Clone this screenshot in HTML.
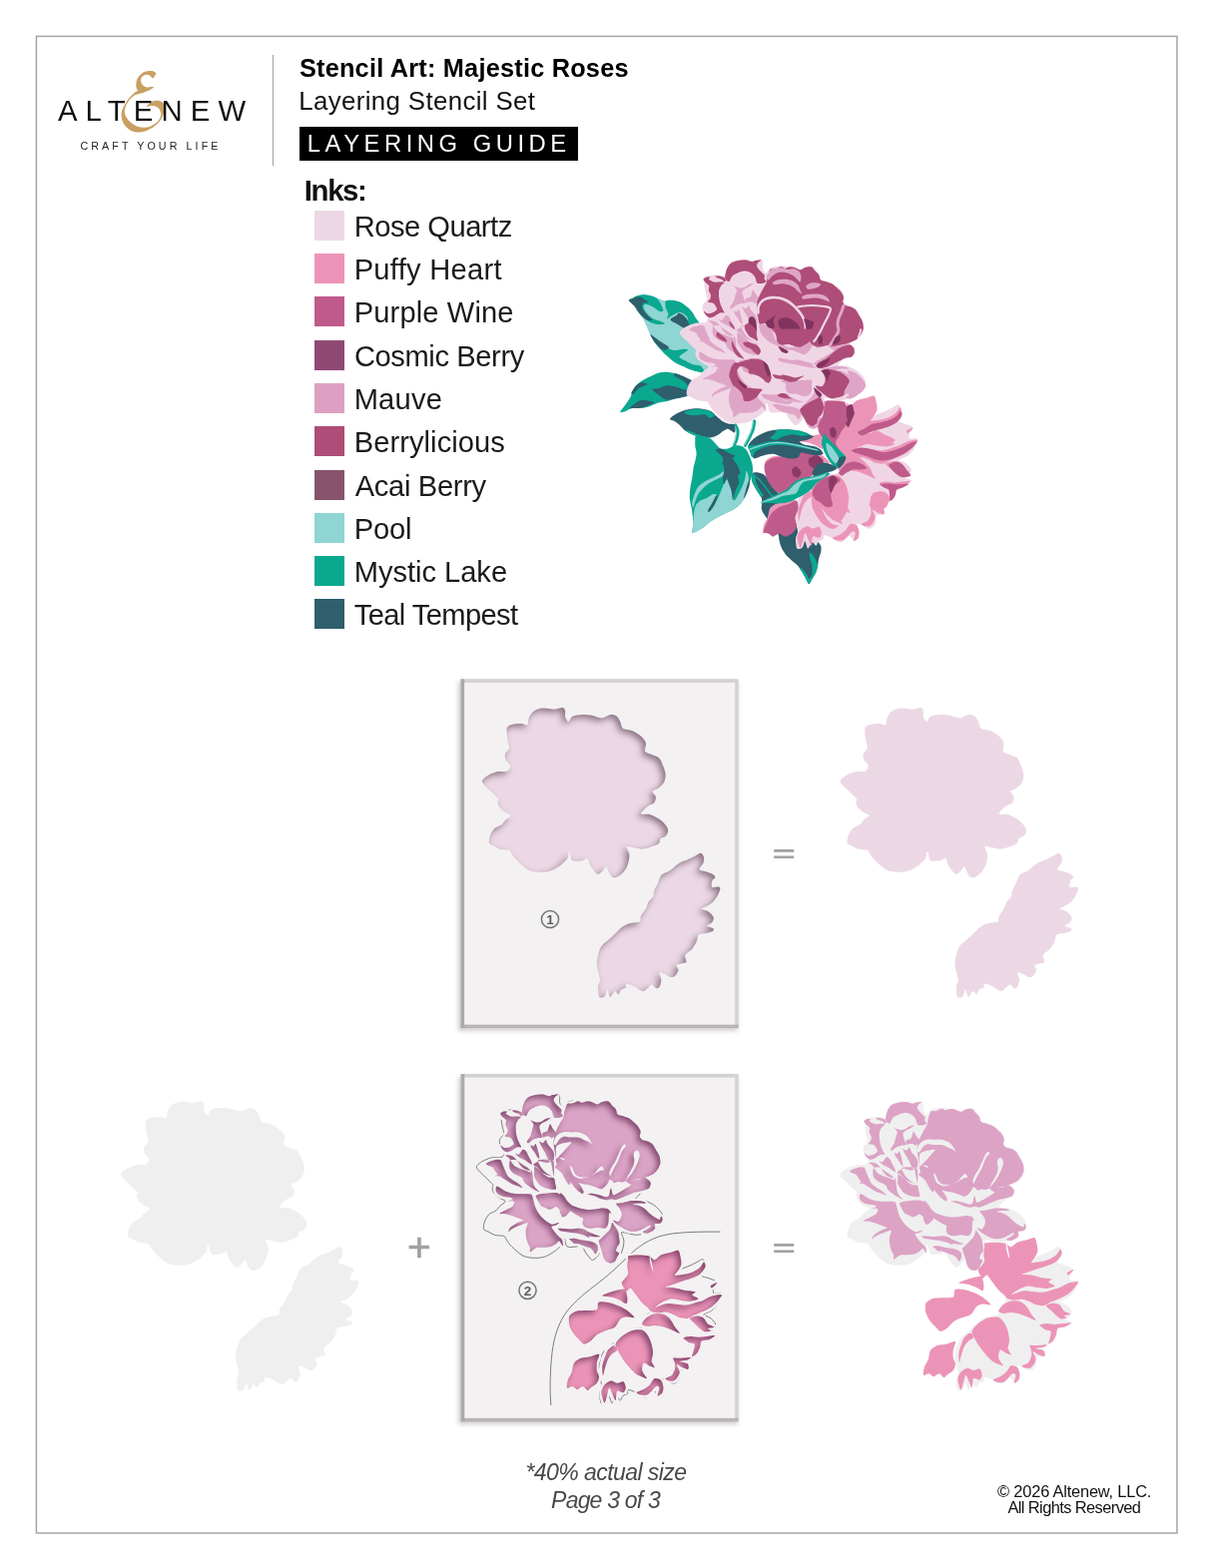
<!DOCTYPE html>
<html lang="en">
<head>
<meta charset="utf-8">
<title>Stencil Art: Majestic Roses - Layering Guide</title>
<style>
html,body{margin:0;padding:0;background:#fff;}
body{width:1214px;height:1571px;position:relative;overflow:hidden;font-family:"Liberation Sans",sans-serif;color:#111;}
.t{position:absolute;white-space:nowrap;line-height:1;z-index:2;}
#divider{position:absolute;left:273px;top:55px;width:1px;height:111px;background:#a0a0a0;}
#bar{z-index:1;position:absolute;left:300px;top:127px;width:279px;height:34px;background:#000;}
.sw{position:absolute;left:314.5px;width:30px;height:30px;}
#art{position:absolute;left:0;top:0;width:1214px;height:1571px;z-index:0;}
</style>
</head>
<body>
<div id="divider"></div>
<div id="bar"></div>
<div id="logo" class="t" style="left:57.9px;top:95.7px;font-size:29.3px;letter-spacing:8.133px;color:#111;">ALTENEW</div>
<div id="tag" class="t" style="left:80.4px;top:140.8px;font-size:10.7px;letter-spacing:3.1px;color:#222;">CRAFT YOUR LIFE</div>
<div id="title" class="t" style="left:299.9px;top:55.6px;font-size:25.3px;letter-spacing:0.223px;font-weight:bold;color:#000;">Stencil Art: Majestic Roses</div>
<div id="sub" class="t" style="left:299.2px;top:88.9px;font-size:25.8px;letter-spacing:0.389px;color:#111;">Layering Stencil Set</div>
<div id="bartxt" class="t" style="left:307.8px;top:132.0px;font-size:23.8px;letter-spacing:4.523px;color:#fff;">LAYERING GUIDE</div>
<div id="inks" class="t" style="left:304.8px;top:176.4px;font-size:29.3px;letter-spacing:-1.35px;font-weight:bold;color:#111;">Inks:</div>
<div class="sw" style="top:210.8px;background:#ecd8e5"></div>
<div id="ink0" class="t" style="left:354.7px;top:212.7px;font-size:29.1px;letter-spacing:-0.48px;color:#1a1a1a;">Rose Quartz</div>
<div class="sw" style="top:254.1px;background:#ec94b8"></div>
<div id="ink1" class="t" style="left:354.7px;top:256.0px;font-size:29.1px;letter-spacing:0.28px;color:#1a1a1a;">Puffy Heart</div>
<div class="sw" style="top:297.4px;background:#bf5b8b"></div>
<div id="ink2" class="t" style="left:354.7px;top:299.3px;font-size:29.1px;letter-spacing:0.14px;color:#1a1a1a;">Purple Wine</div>
<div class="sw" style="top:340.6px;background:#8f4a74"></div>
<div id="ink3" class="t" style="left:354.9px;top:342.6px;font-size:29.1px;letter-spacing:-0.382px;color:#1a1a1a;">Cosmic Berry</div>
<div class="sw" style="top:383.9px;background:#dda0c2"></div>
<div id="ink4" class="t" style="left:354.7px;top:385.9px;font-size:29.1px;letter-spacing:0.2px;color:#1a1a1a;">Mauve</div>
<div class="sw" style="top:427.2px;background:#ae4d77"></div>
<div id="ink5" class="t" style="left:354.7px;top:429.2px;font-size:29.1px;letter-spacing:0.073px;color:#1a1a1a;">Berrylicious</div>
<div class="sw" style="top:470.5px;background:#87536d"></div>
<div id="ink6" class="t" style="left:355.7px;top:472.5px;font-size:29.1px;letter-spacing:-0.311px;color:#1a1a1a;">Acai Berry</div>
<div class="sw" style="top:513.8px;background:#8fd5d3"></div>
<div id="ink7" class="t" style="left:354.7px;top:515.8px;font-size:29.1px;letter-spacing:-0.133px;color:#1a1a1a;">Pool</div>
<div class="sw" style="top:557.0px;background:#0ba890"></div>
<div id="ink8" class="t" style="left:354.7px;top:559.1px;font-size:29.1px;letter-spacing:-0.02px;color:#1a1a1a;">Mystic Lake</div>
<div class="sw" style="top:600.3px;background:#2f5e6d"></div>
<div id="ink9" class="t" style="left:354.7px;top:602.4px;font-size:29.1px;letter-spacing:-0.582px;color:#1a1a1a;">Teal Tempest</div>
<svg id="art" viewBox="0 0 1214 1571" width="1214" height="1571">
<rect x="36.4" y="36.4" width="1142.6" height="1499.6" fill="none" stroke="#a4a4a4" stroke-width="1.5"/>
<defs>
<filter id="blur2" x="-20%" y="-20%" width="140%" height="140%"><feGaussianBlur stdDeviation="2"/></filter>
<filter id="inner1" filterUnits="userSpaceOnUse" x="380" y="600" width="800" height="900" color-interpolation-filters="sRGB">
<feComponentTransfer in="SourceAlpha" result="inv"><feFuncA type="table" tableValues="1 0"/></feComponentTransfer>
<feGaussianBlur in="inv" stdDeviation="3.6" result="b"/>
<feOffset in="b" dx="-3.0" dy="3.0" result="o"/>
<feFlood flood-color="#5e4458" flood-opacity="0.7"/>
<feComposite in2="o" operator="in" result="s"/>
<feComposite in="s" in2="SourceAlpha" operator="in" result="i"/>
<feMerge><feMergeNode in="SourceGraphic"/><feMergeNode in="i"/></feMerge>
</filter>
<filter id="inner2" filterUnits="userSpaceOnUse" x="380" y="600" width="800" height="900" color-interpolation-filters="sRGB">
<feComponentTransfer in="SourceAlpha" result="inv"><feFuncA type="table" tableValues="1 0"/></feComponentTransfer>
<feGaussianBlur in="inv" stdDeviation="3.4" result="b"/>
<feOffset in="b" dx="-2.6" dy="2.6" result="o"/>
<feFlood flood-color="#6a3058" flood-opacity="0.8"/>
<feComposite in2="o" operator="in" result="s"/>
<feComposite in="s" in2="SourceAlpha" operator="in" result="i"/>
<feMerge><feMergeNode in="SourceGraphic"/><feMergeNode in="i"/></feMerge>
</filter>
<filter id="halo" filterUnits="userSpaceOnUse" x="380" y="600" width="800" height="900" color-interpolation-filters="sRGB">
<feMorphology in="SourceAlpha" operator="dilate" radius="2.2" result="d"/>
<feFlood flood-color="#f3f1f2"/><feComposite in2="d" operator="in"/></filter>
<mask id="mrose" maskUnits="userSpaceOnUse" x="820" y="1070" width="300" height="380"><path d="M887.1,1120.6C887.2,1119.7 887.5,1117.1 887.9,1115.7C888.4,1114.2 889.5,1111.2 890.4,1109.9C891.3,1108.6 893.0,1106.9 894.5,1106.2C896.0,1105.4 899.3,1104.8 901.1,1104.5C903.0,1104.2 905.9,1103.9 907.7,1104.1C909.6,1104.3 912.9,1105.7 914.3,1105.8C915.7,1105.8 916.3,1104.8 917.6,1104.5C918.9,1104.3 923.0,1103.7 923.4,1104.0C923.7,1104.2 920.7,1105.8 920.1,1106.6C919.4,1107.4 918.7,1108.9 918.8,1109.9C919.0,1110.9 920.1,1112.6 920.9,1113.6C921.6,1114.6 923.4,1116.1 924.2,1116.9C925.0,1117.7 926.4,1118.5 926.7,1119.4C927.0,1120.2 926.0,1122.2 926.3,1123.1C926.5,1123.9 928.5,1125.0 928.3,1125.5C928.1,1126.1 925.9,1126.9 925.0,1127.2C924.1,1127.5 922.5,1127.6 921.7,1127.6C920.9,1127.6 919.8,1127.7 919.3,1127.2C918.7,1126.7 918.4,1124.8 918.0,1123.9C917.7,1123.0 917.4,1121.6 916.8,1120.6C916.1,1119.6 914.5,1117.6 913.5,1116.9C912.4,1116.1 910.6,1115.5 909.4,1115.2C908.1,1115.0 905.8,1115.0 904.4,1115.2C903.0,1115.5 900.7,1116.4 899.5,1116.9C898.2,1117.4 896.3,1118.2 895.4,1118.9C894.4,1119.7 893.5,1121.3 892.9,1122.2C892.3,1123.2 891.8,1125.2 891.2,1125.5C890.7,1125.9 889.3,1125.2 888.8,1124.7C888.2,1124.3 887.4,1122.8 887.1,1122.2C886.9,1121.7 887.0,1121.5 887.1,1120.6Z M865.3,1123.5C865.4,1122.8 867.2,1121.6 868.2,1121.3C869.2,1120.9 872.0,1121.0 872.3,1121.3C872.6,1121.5 870.6,1122.6 870.7,1123.1C870.7,1123.5 871.9,1124.3 872.7,1124.7C873.5,1125.1 875.2,1126.0 876.4,1126.2C877.6,1126.4 880.0,1125.9 881.4,1125.9C882.7,1126.0 886.1,1125.8 886.3,1126.4C886.5,1126.9 883.8,1128.5 883.0,1129.7C882.3,1130.8 881.2,1133.0 880.9,1134.6C880.7,1136.2 880.8,1139.3 880.9,1141.2C881.1,1143.0 881.7,1146.0 882.2,1147.8C882.7,1149.5 884.1,1152.3 884.7,1153.5C885.2,1154.8 886.6,1156.4 886.3,1156.8C886.0,1157.3 883.3,1156.5 882.2,1156.8C881.0,1157.2 879.3,1158.6 878.1,1159.3C876.8,1160.0 874.3,1161.5 873.1,1161.8C872.0,1162.0 870.6,1161.4 869.8,1161.0C869.0,1160.5 867.9,1159.3 867.4,1158.5C866.8,1157.7 865.4,1155.3 865.7,1155.2C866.1,1155.1 868.6,1157.4 869.8,1157.7C871.1,1157.9 873.5,1157.4 874.8,1156.8C876.0,1156.3 878.5,1154.6 878.9,1153.5C879.2,1152.5 877.8,1150.3 877.2,1149.4C876.7,1148.5 875.8,1147.4 874.8,1147.0C873.7,1146.5 870.2,1146.7 869.8,1146.1C869.5,1145.6 871.9,1143.9 872.3,1142.8C872.7,1141.8 872.9,1139.9 872.7,1138.7C872.5,1137.6 870.9,1135.9 870.7,1134.6C870.4,1133.3 871.5,1130.8 871.1,1129.7C870.6,1128.5 868.2,1127.2 867.4,1126.4C866.5,1125.5 865.2,1124.2 865.3,1123.5Z M877.2,1120.2C877.6,1119.9 880.9,1120.0 882.2,1120.2C883.5,1120.4 885.5,1121.2 886.3,1121.8C887.1,1122.5 887.9,1124.2 887.9,1124.7C887.9,1125.2 886.9,1125.7 886.3,1125.5C885.7,1125.4 884.8,1124.0 883.8,1123.5C882.9,1123.0 880.6,1122.5 879.7,1122.1C878.8,1121.6 876.9,1120.4 877.2,1120.2Z M895.0,1129.2C895.2,1129.2 897.6,1130.9 898.7,1131.3C899.8,1131.7 901.6,1132.2 902.8,1132.1C903.9,1132.1 905.7,1131.4 906.9,1130.9C908.0,1130.4 909.7,1128.9 911.0,1128.4C912.3,1127.9 915.8,1126.9 916.0,1127.2C916.1,1127.5 913.1,1129.7 911.8,1130.5C910.6,1131.3 907.9,1132.1 906.9,1132.9C905.9,1133.8 904.5,1134.9 904.4,1136.2C904.3,1137.6 905.6,1141.3 906.1,1142.8C906.5,1144.3 908.2,1146.3 907.7,1147.0C907.3,1147.6 904.2,1147.4 902.8,1147.8C901.4,1148.1 899.1,1148.7 897.8,1149.4C896.6,1150.1 894.5,1152.5 893.7,1152.7C892.9,1152.9 891.8,1152.0 892.1,1151.1C892.3,1150.1 894.7,1147.6 895.4,1146.1C896.1,1144.6 896.5,1142.0 897.0,1140.4C897.5,1138.7 898.7,1135.9 898.7,1134.6C898.7,1133.3 897.5,1132.1 897.0,1131.3C896.5,1130.6 894.7,1129.2 895.0,1129.2Z M907.7,1142.8C908.3,1141.9 911.6,1141.6 912.7,1140.4C913.7,1139.1 914.4,1134.1 915.1,1133.8C915.8,1133.4 916.9,1136.9 917.6,1137.9C918.4,1138.9 919.8,1140.3 920.5,1141.2C921.2,1142.1 922.7,1143.8 922.5,1144.5C922.4,1145.2 920.1,1145.7 919.3,1146.1C918.4,1146.6 917.5,1147.8 916.8,1147.8C916.1,1147.8 915.1,1146.4 914.3,1146.1C913.5,1145.9 911.8,1146.0 911.0,1146.1C910.2,1146.2 909.0,1147.4 908.5,1147.0C908.1,1146.5 907.1,1143.8 907.7,1142.8Z M895.8,1154.8C896.0,1154.4 898.0,1156.2 898.7,1156.0C899.3,1155.8 900.2,1153.3 900.7,1153.5C901.2,1153.8 902.0,1156.4 902.4,1157.7C902.8,1158.9 903.3,1161.1 903.6,1162.6C903.9,1164.1 904.7,1167.9 904.4,1168.4C904.2,1168.8 902.6,1166.8 902.0,1165.9C901.3,1165.0 900.2,1162.8 899.5,1161.8C898.8,1160.7 897.5,1159.5 897.0,1158.5C896.5,1157.5 895.5,1155.1 895.8,1154.8Z M904.4,1151.1C904.8,1151.0 906.8,1152.9 907.7,1152.7C908.6,1152.5 910.3,1149.3 911.0,1149.4C911.7,1149.5 912.0,1152.4 912.7,1153.5C913.4,1154.7 915.1,1156.6 916.0,1157.7C916.8,1158.7 918.0,1159.8 918.4,1161.0C918.9,1162.1 919.3,1164.6 919.3,1165.9C919.3,1167.2 919.1,1169.3 918.4,1170.0C917.7,1170.7 915.2,1171.4 914.3,1170.8C913.4,1170.3 912.5,1167.3 911.8,1165.9C911.1,1164.5 910.1,1162.2 909.4,1161.0C908.7,1159.7 907.5,1157.9 906.9,1156.8C906.3,1155.8 905.6,1154.3 905.2,1153.5C904.9,1152.7 904.1,1151.2 904.4,1151.1Z M898.7,1174.1C898.8,1173.6 900.3,1172.9 901.1,1172.5C901.9,1172.0 903.4,1171.0 904.4,1170.8C905.5,1170.7 907.4,1171.4 908.5,1171.7C909.7,1171.9 911.3,1172.6 912.7,1172.5C914.0,1172.4 917.5,1170.0 918.4,1170.8C919.3,1171.6 919.3,1176.2 919.3,1178.3C919.3,1180.3 919.3,1184.7 918.4,1185.7C917.5,1186.6 914.2,1185.3 912.7,1184.8C911.2,1184.4 909.0,1183.2 907.7,1182.4C906.4,1181.6 904.6,1179.9 903.6,1179.1C902.6,1178.3 901.0,1177.3 900.3,1176.6C899.6,1175.9 898.5,1174.7 898.7,1174.1Z M880.5,1163.4C880.5,1163.1 882.8,1164.8 883.8,1164.3C884.9,1163.7 886.9,1159.8 887.9,1159.3C889.0,1158.8 890.4,1160.0 891.2,1161.0C892.1,1161.9 893.0,1164.5 893.7,1165.9C894.4,1167.3 895.7,1169.7 896.2,1170.8C896.6,1172.0 897.4,1173.9 897.0,1174.1C896.7,1174.4 894.6,1173.1 893.7,1172.5C892.8,1171.9 891.3,1170.6 890.4,1170.0C889.5,1169.4 888.0,1168.8 887.1,1168.4C886.2,1167.9 884.8,1167.4 883.8,1166.7C882.9,1166.0 880.5,1163.8 880.5,1163.4Z M870.7,1165.1C870.8,1164.7 873.6,1164.8 874.8,1165.1C875.9,1165.3 877.9,1166.0 878.9,1166.7C879.9,1167.4 881.1,1169.1 882.2,1170.0C883.2,1170.9 885.0,1172.4 886.3,1173.3C887.6,1174.2 890.1,1175.8 891.2,1176.6C892.4,1177.4 893.8,1178.3 894.5,1179.1C895.2,1179.9 896.8,1182.2 896.2,1182.4C895.6,1182.5 892.0,1180.9 890.4,1180.3C888.8,1179.7 886.2,1178.9 884.7,1178.3C883.2,1177.6 880.9,1176.7 879.7,1175.8C878.6,1174.9 877.2,1172.8 876.4,1171.7C875.6,1170.5 874.8,1168.5 873.9,1167.5C873.1,1166.6 870.5,1165.4 870.7,1165.1Z M921.7,1169.2C922.1,1168.6 924.0,1169.3 925.0,1170.0C926.1,1170.7 928.1,1172.9 929.1,1174.1C930.2,1175.4 931.5,1177.7 932.4,1179.1C933.4,1180.5 935.1,1182.8 935.7,1184.0C936.3,1185.3 936.8,1187.2 936.5,1188.1C936.3,1189.1 934.9,1190.7 934.1,1190.6C933.3,1190.5 931.7,1188.4 930.8,1187.3C929.9,1186.3 928.4,1184.3 927.5,1183.2C926.6,1182.0 924.9,1180.3 924.2,1179.1C923.4,1177.8 922.5,1175.5 922.1,1174.1C921.8,1172.8 921.3,1169.8 921.7,1169.2Z M851.1,1173.7C851.2,1173.1 854.0,1171.6 855.6,1171.0C857.1,1170.4 860.7,1169.3 862.2,1169.2C863.6,1169.0 865.1,1169.2 865.9,1170.0C866.7,1170.8 867.3,1173.4 867.9,1174.9C868.6,1176.4 869.7,1179.2 870.4,1180.7C871.1,1182.2 871.9,1184.4 872.9,1185.7C873.9,1186.9 876.2,1188.6 877.8,1189.8C879.4,1190.9 883.0,1192.8 884.4,1193.9C885.8,1195.0 887.9,1197.3 887.7,1197.6C887.5,1197.8 884.4,1196.3 882.8,1195.7C881.2,1195.1 878.0,1194.2 876.2,1193.2C874.3,1192.3 871.2,1190.1 869.6,1189.1C868.0,1188.1 866.0,1186.5 864.7,1186.1C863.3,1185.6 860.0,1186.0 859.7,1185.8C859.4,1185.6 862.5,1185.1 862.6,1184.4C862.7,1183.7 860.8,1181.7 860.1,1180.7C859.5,1179.7 858.9,1178.1 858.1,1177.4C857.3,1176.7 855.3,1176.1 854.4,1175.6C853.4,1175.1 850.9,1174.4 851.1,1173.7Z M875.4,1170.0C874.3,1170.7 874.4,1173.7 874.4,1174.9C874.3,1176.2 874.5,1178.0 875.0,1179.1C875.4,1180.1 876.7,1181.5 877.8,1182.4C878.9,1183.2 881.4,1184.5 882.8,1185.2C884.1,1186.0 886.4,1186.6 887.3,1187.5C888.2,1188.4 888.2,1190.5 889.0,1191.6C889.7,1192.7 891.3,1194.1 892.7,1195.1C894.0,1196.1 896.8,1197.9 898.4,1198.8C900.1,1199.8 904.3,1202.1 904.6,1202.0C905.0,1201.8 901.7,1199.1 900.9,1198.0C900.1,1196.9 899.2,1195.2 898.8,1193.9C898.4,1192.6 898.2,1190.2 898.0,1188.9C897.8,1187.7 897.8,1186.0 897.6,1184.8C897.4,1183.7 897.5,1181.4 896.8,1180.7C896.1,1180.0 893.9,1180.3 892.7,1179.9C891.4,1179.4 888.9,1178.3 887.7,1177.4C886.6,1176.5 885.2,1174.7 884.4,1173.7C883.6,1172.7 883.2,1170.5 882.0,1170.0C880.7,1169.5 876.4,1169.3 875.4,1170.0Z M903.4,1170.0C902.0,1170.7 904.3,1173.6 905.0,1174.9C905.7,1176.3 907.2,1178.6 908.3,1179.9C909.5,1181.2 911.9,1183.2 913.3,1184.0C914.6,1184.8 917.6,1186.5 918.2,1185.7C918.8,1184.8 917.8,1180.4 917.4,1178.2C916.9,1176.0 916.9,1171.2 914.9,1170.0C912.9,1168.8 904.8,1169.3 903.4,1170.0Z M900.1,1175.8C899.4,1176.1 899.3,1180.0 899.3,1181.5C899.2,1183.0 899.0,1185.1 899.4,1186.5C899.8,1187.8 901.3,1189.9 902.1,1191.0C902.9,1192.2 903.9,1193.8 905.0,1194.7C906.1,1195.6 908.5,1197.0 910.0,1197.6C911.5,1198.2 914.2,1198.8 915.7,1199.0C917.3,1199.2 920.4,1199.7 921.1,1198.8C921.7,1198.0 920.5,1194.6 920.3,1193.1C920.0,1191.5 920.0,1188.6 919.0,1187.7C918.0,1186.8 914.8,1187.5 913.3,1186.9C911.8,1186.3 909.6,1184.7 908.3,1183.6C907.0,1182.5 905.3,1180.2 904.2,1179.1C903.0,1178.0 900.8,1175.4 900.1,1175.8Z M920.3,1177.0C920.1,1176.1 922.0,1174.3 923.1,1173.3C924.2,1172.3 926.4,1170.5 928.1,1170.0C929.7,1169.5 934.0,1168.5 935.0,1170.0C936.0,1171.5 935.3,1178.6 935.0,1180.7C934.7,1182.8 933.0,1183.6 933.0,1184.8C933.0,1186.1 934.7,1188.4 935.0,1189.8C935.3,1191.2 935.4,1194.4 935.0,1194.7C934.6,1195.1 932.9,1193.2 932.2,1192.2C931.5,1191.3 930.4,1189.4 929.7,1188.1C929.0,1186.9 928.1,1184.3 927.3,1183.2C926.4,1182.0 924.9,1180.7 924.0,1179.9C923.0,1179.0 920.4,1177.9 920.3,1177.0Z M861.4,1196.4C861.9,1195.9 863.5,1196.6 864.7,1197.2C865.8,1197.8 868.0,1199.7 869.6,1200.5C871.2,1201.3 874.1,1202.5 876.2,1202.9C878.3,1203.4 882.1,1203.7 884.4,1203.8C886.7,1203.9 890.9,1203.7 892.7,1203.8C894.4,1203.9 896.0,1203.8 896.8,1204.6C897.6,1205.4 898.0,1207.9 898.4,1209.5C898.9,1211.2 899.4,1214.3 900.1,1216.1C900.8,1218.0 902.3,1221.1 903.4,1222.7C904.4,1224.3 906.2,1226.4 907.5,1227.7C908.8,1228.9 911.0,1230.9 912.4,1231.8C913.8,1232.7 915.8,1234.1 917.4,1234.3C919.0,1234.4 923.5,1232.5 924.0,1232.6C924.4,1232.7 921.7,1234.5 920.7,1235.1C919.6,1235.7 916.7,1235.8 916.5,1236.7C916.4,1237.6 918.8,1240.3 919.8,1241.7C920.9,1243.0 922.9,1245.5 924.0,1246.6C925.0,1247.8 926.7,1248.6 927.3,1249.9C927.8,1251.2 928.3,1255.3 928.1,1255.7C927.9,1256.0 926.2,1253.1 925.6,1252.4C925.0,1251.7 924.7,1250.5 924.0,1250.7C923.3,1251.0 921.8,1253.2 920.7,1254.0C919.5,1254.8 917.3,1256.0 915.7,1256.5C914.1,1257.0 911.0,1257.2 909.1,1257.3C907.3,1257.4 903.9,1257.1 902.5,1257.3C901.2,1257.5 900.3,1258.3 899.3,1259.0C898.2,1259.6 895.7,1262.1 895.1,1261.8C894.6,1261.6 895.5,1258.6 895.1,1257.3C894.8,1256.0 893.2,1254.0 892.7,1252.4C892.1,1250.8 891.2,1247.6 891.0,1245.8C890.8,1243.9 890.8,1241.0 891.0,1239.2C891.2,1237.3 893.1,1233.3 892.7,1232.6C892.2,1231.9 889.3,1233.7 887.7,1234.3C886.1,1234.8 882.7,1236.0 881.1,1236.7C879.5,1237.4 877.2,1238.5 876.2,1239.2C875.1,1239.9 873.9,1241.8 873.7,1241.7C873.5,1241.5 873.8,1239.3 874.5,1238.4C875.2,1237.4 877.3,1236.0 878.7,1235.1C880.0,1234.2 883.0,1232.5 884.4,1231.8C885.8,1231.1 888.8,1230.7 888.5,1230.1C888.3,1229.6 884.5,1228.4 882.8,1227.7C881.0,1227.0 878.0,1225.8 876.2,1225.2C874.3,1224.6 871.2,1223.8 869.6,1223.5C868.0,1223.3 864.8,1223.9 864.7,1223.5C864.5,1223.2 867.5,1221.8 868.8,1221.1C870.0,1220.4 872.4,1219.3 873.7,1218.6C875.0,1217.9 877.0,1217.1 877.8,1216.1C878.6,1215.2 879.6,1212.8 879.5,1212.0C879.4,1211.2 877.9,1210.5 877.0,1210.4C876.1,1210.2 873.2,1211.4 873.3,1211.2C873.4,1211.0 877.8,1209.3 877.8,1208.7C877.9,1208.1 875.1,1207.4 873.7,1207.1C872.3,1206.7 869.4,1206.7 867.9,1206.2C866.4,1205.8 864.0,1204.6 863.0,1203.8C862.0,1203.0 861.2,1201.5 860.9,1200.5C860.7,1199.4 860.8,1196.8 861.4,1196.4Z M900.9,1205.4C901.5,1204.8 904.2,1204.1 905.8,1203.8C907.5,1203.4 910.7,1203.1 912.4,1202.9C914.2,1202.8 916.7,1202.5 918.2,1202.5C919.7,1202.5 922.0,1202.5 923.1,1202.9C924.3,1203.4 925.5,1204.6 926.4,1205.4C927.4,1206.2 928.8,1207.2 929.7,1208.7C930.7,1210.2 932.3,1214.4 933.0,1216.1C933.8,1217.9 935.0,1220.0 935.0,1221.1C935.0,1222.1 933.6,1222.9 933.0,1223.5C932.4,1224.2 931.4,1225.6 930.6,1226.0C929.7,1226.5 927.9,1227.3 927.3,1226.8C926.6,1226.4 926.1,1223.9 925.6,1222.7C925.1,1221.6 924.7,1219.5 924.0,1218.6C923.3,1217.7 921.6,1216.5 920.7,1216.5C919.7,1216.5 918.3,1218.2 917.4,1218.6C916.4,1219.0 915.0,1219.5 914.1,1219.4C913.2,1219.3 911.8,1218.2 910.8,1217.8C909.7,1217.3 907.7,1217.1 906.7,1216.1C905.6,1215.2 904.1,1212.3 903.4,1211.2C902.7,1210.0 902.1,1208.7 901.7,1207.9C901.4,1207.1 900.3,1206.0 900.9,1205.4Z M923.1,1238.4C923.6,1238.1 926.4,1238.3 928.1,1238.4C929.7,1238.5 934.0,1238.7 935.0,1239.2C936.0,1239.7 935.7,1241.4 935.0,1241.7C934.3,1241.9 931.2,1241.1 929.7,1240.8C928.3,1240.6 925.7,1240.4 924.8,1240.0C923.9,1239.7 922.7,1238.6 923.1,1238.4Z M939.3,1185.9C940.0,1185.8 943.0,1188.3 944.8,1188.4C946.5,1188.5 949.8,1187.5 951.7,1186.9C953.6,1186.4 956.8,1185.3 958.6,1184.4C960.4,1183.6 963.3,1181.6 964.5,1181.0C965.8,1180.4 966.1,1180.1 967.5,1180.0C968.9,1179.9 973.2,1179.4 974.4,1180.0C975.7,1180.6 976.4,1182.6 976.4,1184.0C976.4,1185.3 975.1,1188.4 974.4,1189.9C973.7,1191.4 972.6,1193.6 971.5,1194.8C970.3,1196.1 968.0,1198.5 966.5,1198.8C965.0,1199.1 962.2,1197.4 960.6,1196.8C958.9,1196.2 956.3,1195.2 954.7,1194.8C953.0,1194.4 950.4,1194.3 948.7,1193.8C947.1,1193.4 944.0,1192.5 942.8,1191.9C941.5,1191.2 940.3,1190.2 939.8,1189.4C939.3,1188.6 938.6,1186.1 939.3,1185.9Z M976.4,1180.0C979.2,1179.4 995.7,1179.4 998.1,1180.0C1000.6,1180.6 995.3,1182.8 994.2,1184.0C993.1,1185.1 991.1,1186.8 990.2,1187.9C989.4,1189.0 989.2,1191.4 988.3,1191.9C987.3,1192.3 984.6,1191.3 983.3,1191.4C982.0,1191.4 979.7,1192.7 978.9,1192.4C978.0,1192.0 977.5,1190.1 977.4,1188.9C977.3,1187.7 978.5,1185.2 978.4,1184.0C978.2,1182.7 973.6,1180.6 976.4,1180.0Z M990.2,1188.9C990.8,1188.5 995.2,1189.8 997.2,1189.9C999.1,1190.0 1002.3,1189.7 1004.1,1189.4C1005.9,1189.0 1008.6,1187.3 1010.0,1187.4C1011.4,1187.5 1013.1,1189.1 1014.0,1189.9C1014.8,1190.6 1015.9,1191.7 1015.9,1192.8C1016.0,1194.0 1015.3,1196.8 1014.5,1197.8C1013.6,1198.8 1011.5,1199.3 1010.0,1199.8C1008.6,1200.3 1005.7,1200.8 1004.1,1201.3C1002.4,1201.7 999.8,1202.2 998.1,1202.7C996.5,1203.3 993.9,1204.5 992.2,1205.2C990.6,1205.9 987.9,1207.1 986.3,1207.7C984.6,1208.3 981.7,1209.5 980.4,1209.7C979.0,1209.8 977.5,1208.7 976.4,1208.7C975.3,1208.7 973.8,1209.7 972.4,1209.7C971.1,1209.7 968.3,1209.2 966.5,1208.7C964.7,1208.1 961.5,1206.4 959.6,1205.7C957.7,1205.0 953.0,1204.1 952.7,1203.7C952.4,1203.4 956.0,1203.1 957.6,1203.2C959.3,1203.4 962.6,1204.2 964.5,1204.7C966.5,1205.2 970.1,1206.7 971.5,1206.7C972.8,1206.7 973.9,1205.7 974.4,1204.7C975.0,1203.7 975.1,1200.7 975.4,1199.8C975.7,1198.9 976.0,1197.6 976.4,1198.3C976.8,1199.0 977.3,1204.2 978.4,1204.7C979.5,1205.3 982.6,1203.1 984.3,1202.2C986.0,1201.4 988.6,1199.8 990.2,1198.8C991.9,1197.7 995.8,1195.7 996.2,1194.8C996.6,1194.0 994.0,1193.7 993.2,1192.8C992.4,1192.0 989.7,1189.3 990.2,1188.9Z M925.0,1203.7C925.6,1201.5 927.8,1204.6 929.0,1205.7C930.1,1206.8 931.7,1210.2 932.9,1211.6C934.2,1213.0 936.2,1214.7 937.8,1215.6C939.5,1216.5 942.7,1217.5 944.8,1218.1C946.8,1218.6 950.5,1219.4 952.7,1219.5C954.9,1219.7 958.5,1219.3 960.6,1219.0C962.7,1218.8 965.7,1218.1 967.5,1218.1C969.3,1218.1 972.2,1218.3 973.4,1219.0C974.7,1219.8 976.3,1223.0 976.4,1223.5C976.5,1224.0 974.8,1221.9 974.4,1222.5C974.1,1223.1 974.1,1225.9 973.9,1227.4C973.8,1229.0 973.8,1232.0 973.4,1233.4C973.1,1234.8 972.1,1236.6 971.5,1237.3C970.8,1238.0 969.7,1238.3 968.5,1238.3C967.2,1238.3 964.2,1237.3 962.6,1237.3C960.9,1237.3 958.3,1238.3 956.6,1238.3C955.0,1238.3 951.9,1238.0 950.7,1237.3C949.5,1236.6 948.1,1234.6 947.7,1233.4C947.4,1232.1 948.6,1229.4 948.2,1228.4C947.8,1227.5 945.9,1227.1 944.8,1226.5C943.6,1225.8 941.2,1224.3 939.8,1223.5C938.4,1222.7 936.1,1220.8 934.9,1220.5C933.6,1220.2 931.8,1220.8 930.9,1221.5C930.1,1222.2 929.6,1225.2 929.0,1225.5C928.3,1225.7 926.5,1224.0 926.0,1223.5C925.4,1222.9 925.1,1224.3 925.0,1221.5C924.9,1218.7 924.4,1205.9 925.0,1203.7Z M925.0,1238.3C925.8,1238.1 929.1,1239.2 930.9,1239.3C932.7,1239.4 935.9,1239.0 937.8,1238.8C939.8,1238.7 943.1,1238.2 944.8,1238.3C946.4,1238.4 948.5,1238.8 949.7,1239.3C951.0,1239.8 952.3,1241.1 953.7,1241.8C955.0,1242.5 957.9,1243.6 959.6,1244.2C961.3,1244.9 965.5,1245.9 965.5,1246.2C965.5,1246.6 961.3,1246.8 959.6,1246.7C957.9,1246.7 954.4,1245.6 953.7,1245.7C953.0,1245.9 955.2,1247.8 954.7,1247.7C954.1,1247.6 951.4,1245.9 949.7,1245.2C948.1,1244.6 944.9,1243.7 942.8,1243.3C940.7,1242.8 936.8,1242.5 934.9,1242.3C932.9,1242.0 930.3,1241.5 929.0,1241.3C927.6,1241.1 925.6,1241.2 925.0,1240.8C924.4,1240.4 924.2,1238.5 925.0,1238.3Z M934.4,1248.7C934.8,1248.3 938.2,1248.1 939.8,1248.2C941.4,1248.3 944.0,1249.3 945.8,1249.7C947.6,1250.0 950.9,1250.3 952.7,1250.7C954.5,1251.0 957.2,1251.5 958.6,1252.2C960.0,1252.8 961.9,1254.0 962.6,1255.1C963.2,1256.2 963.3,1258.8 963.1,1260.1C962.8,1261.3 961.2,1263.9 960.6,1264.0C960.0,1264.2 959.3,1261.9 958.6,1261.1C957.9,1260.2 956.9,1258.8 955.6,1258.1C954.4,1257.4 951.2,1256.7 949.7,1256.1C948.2,1255.6 946.2,1254.5 944.8,1254.1C943.4,1253.8 940.9,1254.1 939.8,1253.6C938.7,1253.2 937.6,1251.9 936.9,1251.2C936.1,1250.5 934.0,1249.1 934.4,1248.7Z M981.3,1213.6C981.9,1212.9 986.2,1213.0 988.3,1212.6C990.3,1212.2 994.1,1210.9 996.2,1210.6C998.2,1210.4 1001.3,1210.5 1003.1,1210.6C1004.9,1210.8 1007.9,1211.3 1009.0,1211.6C1010.1,1212.0 1011.7,1212.9 1011.0,1213.1C1010.3,1213.3 1005.9,1213.0 1004.1,1213.1C1002.3,1213.3 998.1,1213.8 998.1,1214.1C998.1,1214.4 1002.4,1215.0 1004.1,1215.6C1005.7,1216.2 1008.6,1217.6 1010.0,1218.5C1011.4,1219.5 1012.7,1221.4 1014.0,1222.5C1015.2,1223.6 1017.4,1225.5 1018.9,1226.5C1020.4,1227.4 1023.8,1229.5 1024.8,1229.4C1025.9,1229.4 1025.9,1226.1 1026.3,1226.0C1026.7,1225.8 1027.7,1227.6 1027.8,1228.4C1027.9,1229.3 1027.4,1231.2 1026.8,1231.9C1026.3,1232.6 1024.8,1233.1 1023.8,1233.4C1022.9,1233.7 1020.4,1233.2 1019.9,1233.9C1019.4,1234.6 1020.8,1237.3 1020.4,1238.3C1020.0,1239.4 1018.1,1240.6 1016.9,1241.3C1015.7,1242.0 1013.2,1243.2 1012.0,1243.3C1010.7,1243.3 1008.0,1242.3 1008.0,1241.8C1008.0,1241.2 1010.9,1240.1 1012.0,1239.3C1013.1,1238.5 1015.7,1236.9 1015.9,1236.3C1016.2,1235.8 1014.9,1235.1 1014.0,1235.4C1013.0,1235.6 1010.5,1237.6 1009.0,1238.3C1007.5,1239.1 1004.9,1240.4 1003.1,1240.8C1001.3,1241.2 998.0,1241.5 996.2,1241.3C994.4,1241.1 991.8,1240.0 990.2,1239.3C988.7,1238.6 986.5,1237.2 985.3,1236.3C984.0,1235.5 982.3,1234.2 981.3,1233.4C980.4,1232.5 978.1,1230.7 978.4,1230.4C978.7,1230.1 982.2,1231.8 983.3,1231.4C984.4,1231.0 985.8,1228.7 986.3,1227.4C986.8,1226.2 987.1,1223.9 986.8,1222.5C986.5,1221.1 985.1,1218.8 984.3,1217.6C983.5,1216.3 980.8,1214.3 981.3,1213.6Z M977.4,1232.4C977.9,1232.4 979.5,1235.1 980.4,1236.3C981.2,1237.6 982.8,1239.8 983.3,1241.3C983.9,1242.8 984.1,1245.6 984.3,1247.2C984.5,1248.9 985.1,1251.8 984.8,1253.1C984.5,1254.5 982.8,1256.0 982.3,1257.1C981.8,1258.2 981.1,1260.2 981.3,1261.1C981.6,1261.9 984.2,1262.2 984.3,1263.0C984.4,1263.9 982.9,1265.9 982.3,1267.0C981.8,1268.1 981.2,1270.1 980.4,1270.9C979.5,1271.8 977.6,1272.8 976.4,1272.9C975.2,1273.0 972.6,1272.3 971.5,1271.4C970.3,1270.6 969.1,1268.4 968.5,1267.0C967.9,1265.5 967.5,1262.7 967.0,1261.1C966.5,1259.4 965.4,1256.6 965.0,1255.1C964.6,1253.7 963.8,1251.6 964.0,1250.7C964.3,1249.7 965.6,1249.1 966.5,1248.2C967.4,1247.3 969.4,1245.4 970.5,1244.2C971.6,1243.1 973.6,1241.4 974.4,1240.3C975.3,1239.2 976.0,1237.4 976.4,1236.3C976.8,1235.2 976.8,1232.4 977.4,1232.4Z M921.4,1168.1C922.2,1167.7 925.7,1168.3 927.2,1168.9C928.7,1169.6 931.0,1171.8 932.1,1173.1C933.3,1174.3 934.7,1176.6 935.4,1178.0C936.1,1179.4 936.5,1181.8 937.1,1182.9C937.6,1184.1 938.7,1185.1 939.5,1186.2C940.3,1187.4 941.9,1189.8 942.8,1191.2C943.8,1192.6 945.3,1194.7 946.1,1196.1C946.9,1197.5 948.4,1200.0 948.6,1201.1C948.8,1202.1 948.5,1203.5 947.8,1203.5C947.1,1203.5 944.8,1202.0 943.7,1201.1C942.5,1200.1 940.6,1198.1 939.5,1197.0C938.5,1195.8 937.2,1194.0 936.2,1192.8C935.3,1191.7 933.9,1189.9 932.9,1188.7C932.0,1187.6 930.5,1185.7 929.7,1184.6C928.8,1183.4 928.0,1181.7 927.2,1180.5C926.4,1179.2 924.7,1176.7 923.9,1175.5C923.1,1174.4 921.8,1173.3 921.4,1172.2C921.1,1171.2 920.6,1168.6 921.4,1168.1Z M932.4,1113.6C933.2,1112.4 934.0,1113.4 935.0,1113.2C935.9,1113.0 937.9,1112.7 939.1,1112.4C940.3,1112.0 942.1,1110.7 943.2,1110.7C944.4,1110.7 946.2,1112.3 947.3,1112.4C948.5,1112.4 950.2,1111.2 951.5,1111.1C952.7,1111.0 954.9,1111.1 956.4,1111.5C957.9,1111.9 960.8,1113.9 962.2,1114.0C963.6,1114.1 965.0,1112.4 966.3,1111.9C967.6,1111.5 970.1,1110.8 971.2,1110.7C972.4,1110.7 973.7,1111.0 974.5,1111.5C975.3,1112.1 976.1,1113.8 977.0,1114.8C977.9,1115.9 980.3,1117.7 981.1,1118.9C981.9,1120.2 981.8,1123.0 982.8,1123.9C983.7,1124.8 986.1,1125.0 987.7,1125.5C989.3,1126.1 992.7,1127.1 994.3,1128.0C995.9,1128.9 998.0,1131.0 999.2,1132.1C1000.5,1133.3 1002.4,1135.0 1003.4,1136.2C1004.3,1137.5 1005.6,1139.8 1005.8,1141.2C1006.1,1142.6 1004.8,1145.0 1005.0,1146.1C1005.2,1147.3 1006.3,1148.7 1007.5,1149.4C1008.6,1150.1 1011.7,1150.4 1013.2,1151.1C1014.7,1151.8 1017.0,1153.1 1018.2,1154.4C1019.3,1155.6 1020.6,1158.5 1021.5,1160.1C1022.4,1161.7 1024.2,1164.2 1024.8,1165.9C1025.3,1167.6 1025.7,1170.9 1025.6,1172.5C1025.5,1174.1 1024.6,1176.2 1023.9,1177.4C1023.3,1178.7 1021.8,1180.6 1021.0,1181.5C1020.2,1182.5 1019.3,1183.3 1018.1,1184.0C1016.9,1184.7 1014.1,1185.9 1012.3,1186.5C1010.6,1187.1 1007.6,1188.1 1005.7,1188.6C1003.9,1189.0 1000.8,1189.5 999.2,1189.8C997.5,1190.1 996.0,1190.4 994.3,1190.6C992.6,1190.8 989.1,1191.4 986.8,1191.4C984.5,1191.4 979.6,1191.1 977.7,1190.6C975.9,1190.1 974.7,1189.3 973.6,1188.1C972.6,1187.0 971.2,1184.0 970.3,1182.4C969.5,1180.7 968.4,1176.8 967.5,1176.2C966.6,1175.6 964.8,1177.4 963.8,1178.3C962.8,1179.1 961.7,1181.3 960.5,1182.4C959.4,1183.4 957.1,1185.0 955.6,1185.7C954.1,1186.3 951.4,1186.8 949.8,1186.9C948.2,1187.0 945.4,1187.0 944.0,1186.5C942.7,1186.0 940.9,1184.5 939.9,1183.2C939.0,1181.9 938.4,1179.0 937.4,1177.4C936.4,1175.8 934.2,1173.0 932.8,1171.7C931.5,1170.3 929.0,1168.1 927.5,1167.5C925.9,1167.0 922.8,1168.8 921.7,1168.0C920.7,1167.1 920.5,1163.8 920.1,1161.8C919.7,1159.8 919.0,1155.7 918.8,1153.5C918.7,1151.4 918.9,1148.0 919.3,1146.1C919.6,1144.3 920.5,1142.2 921.3,1140.4C922.1,1138.5 924.0,1134.9 925.0,1132.9C926.1,1131.0 928.1,1128.0 928.7,1126.4C929.4,1124.7 929.0,1123.2 929.5,1121.4C930.1,1119.6 931.7,1114.7 932.4,1113.6Z" fill="#fff"/><path d="M918.8,1153.5C918.7,1152.6 919.4,1149.2 920.1,1147.8C920.8,1146.4 922.4,1144.5 923.8,1143.7C925.2,1142.8 928.1,1141.8 930.0,1141.6C931.9,1141.4 936.0,1142.0 937.4,1142.0C938.8,1142.0 938.8,1141.5 939.9,1141.6C941.1,1141.7 944.3,1142.1 945.7,1142.4C947.1,1142.8 948.7,1143.3 949.8,1144.1C951.0,1144.8 952.9,1146.4 953.9,1147.8C955.0,1149.1 957.3,1153.1 957.2,1153.5C957.1,1154.0 954.3,1151.6 953.1,1151.1C952.0,1150.5 950.1,1149.9 949.0,1149.4C947.8,1148.9 946.1,1147.7 944.9,1147.4C943.6,1147.0 941.2,1147.0 939.9,1147.0C938.6,1146.9 937.2,1147.2 935.7,1147.1C934.2,1147.0 930.7,1146.0 929.1,1146.3C927.5,1146.6 925.3,1148.3 924.2,1149.4C923.0,1150.6 921.6,1153.8 920.9,1154.4C920.1,1154.9 919.0,1154.5 918.8,1153.5Z M920.9,1157.7C921.1,1155.7 922.2,1155.1 923.4,1154.4C924.5,1153.7 927.3,1153.1 929.1,1152.7C931.0,1152.4 936.0,1151.4 936.5,1151.9C937.1,1152.4 934.3,1154.7 933.3,1156.0C932.2,1157.3 930.3,1159.7 929.1,1161.0C928.0,1162.2 926.1,1164.0 925.0,1165.1C924.0,1166.1 922.3,1169.4 921.7,1168.4C921.1,1167.3 920.7,1159.6 920.9,1157.7Z M990.2,1154.0C990.6,1154.1 991.3,1155.1 991.0,1156.0C990.7,1156.9 988.5,1158.7 987.7,1160.1C986.9,1161.5 985.9,1164.3 985.2,1165.9C984.5,1167.5 983.6,1170.0 982.8,1171.7C982.0,1173.3 980.3,1175.9 979.5,1177.4C978.7,1178.9 977.6,1181.2 977.0,1182.4C976.4,1183.5 975.7,1185.7 975.3,1185.7C975.0,1185.7 974.3,1183.6 974.5,1182.4C974.8,1181.1 976.1,1178.2 977.0,1176.6C977.9,1175.0 979.8,1172.6 980.7,1170.8C981.6,1169.1 982.8,1166.0 983.6,1164.3C984.3,1162.5 985.4,1159.8 986.1,1158.5C986.7,1157.2 987.5,1155.8 988.1,1155.2C988.7,1154.6 989.8,1153.8 990.2,1154.0Z M1001.7,1160.1C1002.3,1160.1 1003.7,1160.7 1004.2,1161.4C1004.6,1162.1 1005.1,1163.9 1005.0,1165.1C1004.9,1166.3 1004.3,1168.4 1003.8,1170.0C1003.2,1171.6 1001.7,1174.9 1000.9,1176.6C1000.0,1178.3 998.6,1180.9 997.6,1182.4C996.5,1183.9 994.4,1186.2 993.5,1187.3C992.5,1188.5 991.1,1190.7 991.0,1190.6C990.9,1190.5 992.0,1187.9 992.6,1186.5C993.3,1185.1 995.1,1182.3 995.9,1180.7C996.8,1179.1 998.3,1176.5 998.8,1175.0C999.3,1173.5 999.6,1171.4 999.6,1170.0C999.6,1168.6 998.8,1166.2 998.8,1165.1C998.8,1163.9 999.2,1162.5 999.6,1161.8C1000.0,1161.1 1001.1,1160.2 1001.7,1160.1Z" fill="#000"/></mask>
<mask id="mpink" maskUnits="userSpaceOnUse" x="820" y="1070" width="300" height="380"><path d="M986.9,1245.5C988.4,1244.8 994.3,1244.7 997.0,1244.7C999.8,1244.7 1004.2,1244.8 1006.4,1245.5C1008.6,1246.1 1010.9,1249.5 1012.7,1249.4C1014.4,1249.3 1016.8,1245.7 1019.0,1244.7C1021.1,1243.7 1025.9,1243.0 1028.3,1242.3C1030.8,1241.7 1034.7,1239.5 1036.2,1240.0C1037.6,1240.5 1038.1,1244.3 1038.5,1246.3C1039.0,1248.2 1039.6,1252.1 1039.3,1254.1C1039.0,1256.1 1037.0,1258.8 1036.2,1260.3C1035.3,1261.9 1032.4,1264.5 1033.0,1265.0C1033.7,1265.6 1038.5,1264.7 1040.9,1264.3C1043.3,1263.8 1047.8,1262.9 1050.3,1261.9C1052.7,1260.9 1056.4,1258.6 1058.1,1257.2C1059.7,1255.8 1061.2,1252.0 1062.0,1251.7C1062.8,1251.5 1063.7,1254.4 1063.6,1255.7C1063.5,1256.9 1062.2,1259.0 1061.2,1260.3C1060.2,1261.7 1058.3,1263.9 1056.5,1265.0C1054.8,1266.1 1051.1,1267.3 1048.7,1268.2C1046.3,1269.0 1041.9,1270.4 1039.3,1271.3C1036.7,1272.2 1032.1,1273.7 1029.9,1274.4C1027.7,1275.2 1023.2,1276.3 1023.7,1276.8C1024.1,1277.2 1030.4,1277.1 1033.0,1277.6C1035.7,1278.0 1039.6,1279.4 1042.4,1279.9C1045.3,1280.5 1052.3,1280.8 1053.4,1281.5C1054.5,1282.1 1049.8,1283.6 1050.3,1284.6C1050.7,1285.6 1056.7,1287.6 1056.5,1288.5C1056.3,1289.4 1051.1,1290.6 1048.7,1290.9C1046.3,1291.1 1041.9,1290.4 1039.3,1290.1C1036.7,1289.8 1032.3,1288.4 1029.9,1288.5C1027.5,1288.6 1024.1,1290.0 1022.1,1290.9C1020.1,1291.7 1017.6,1293.4 1015.8,1294.8C1014.1,1296.2 1010.9,1300.6 1009.6,1301.0C1008.2,1301.5 1007.5,1298.9 1006.4,1297.9C1005.3,1296.9 1003.1,1295.3 1001.7,1294.0C1000.4,1292.7 998.4,1290.2 997.0,1288.5C995.7,1286.9 993.6,1283.8 992.3,1282.3C991.1,1280.7 989.5,1277.8 988.4,1277.6C987.3,1277.3 985.5,1280.8 984.5,1280.7C983.5,1280.6 982.0,1278.0 981.4,1276.8C980.7,1275.6 979.6,1273.3 979.8,1272.1C980.0,1270.9 982.1,1269.4 983.0,1268.2C983.8,1267.0 985.8,1265.2 986.1,1263.5C986.4,1261.7 985.3,1257.6 985.3,1255.7C985.3,1253.7 985.9,1250.8 986.1,1249.4C986.3,1248.0 985.3,1246.1 986.9,1245.5Z M1069.0,1275.2C1069.8,1274.4 1074.9,1272.0 1075.3,1272.1C1075.7,1272.2 1072.9,1275.2 1072.2,1276.0C1071.4,1276.8 1070.3,1277.7 1069.8,1277.6C1069.4,1277.5 1068.3,1276.0 1069.0,1275.2Z M1009.6,1301.0C1009.6,1300.2 1013.6,1297.4 1015.8,1296.3C1018.0,1295.3 1022.6,1293.5 1025.2,1293.2C1027.8,1292.9 1032.0,1293.8 1034.6,1294.0C1037.2,1294.2 1041.4,1295.0 1044.0,1294.8C1046.6,1294.6 1051.0,1293.1 1053.4,1292.4C1055.8,1291.8 1059.0,1291.0 1061.2,1290.1C1063.4,1289.2 1067.1,1286.9 1069.0,1286.2C1071.0,1285.4 1073.8,1284.8 1075.3,1284.6C1076.8,1284.4 1079.7,1284.1 1080.0,1284.6C1080.3,1285.2 1078.5,1287.3 1077.6,1288.5C1076.8,1289.7 1075.2,1291.9 1073.7,1293.2C1072.3,1294.5 1069.4,1296.7 1067.5,1297.9C1065.5,1299.1 1061.8,1300.8 1059.6,1301.8C1057.5,1302.8 1053.8,1304.1 1051.8,1305.0C1049.9,1305.8 1047.5,1307.8 1045.6,1308.1C1043.6,1308.4 1039.7,1307.9 1037.7,1307.3C1035.8,1306.8 1033.4,1304.9 1031.5,1304.2C1029.5,1303.4 1025.8,1302.0 1023.7,1301.8C1021.5,1301.6 1017.8,1302.7 1015.8,1302.6C1013.9,1302.5 1009.6,1301.9 1009.6,1301.0Z M960.3,1285.4C960.7,1284.8 965.2,1283.0 967.3,1282.3C969.4,1281.5 972.9,1280.4 975.1,1279.9C977.3,1279.5 981.5,1278.1 983.0,1279.1C984.4,1280.1 985.1,1285.0 985.3,1287.0C985.5,1288.9 985.5,1292.8 984.5,1293.2C983.5,1293.7 980.2,1291.0 978.3,1290.1C976.3,1289.2 972.4,1287.5 970.4,1287.0C968.5,1286.4 965.6,1286.4 964.2,1286.2C962.7,1286.0 959.8,1285.9 960.3,1285.4Z M927.4,1305.7C928.4,1303.8 932.1,1301.8 934.4,1301.0C936.7,1300.3 941.0,1300.5 943.8,1300.3C946.7,1300.0 953.0,1300.6 954.8,1299.5C956.5,1298.4 955.3,1293.5 956.3,1292.4C957.4,1291.3 960.6,1291.5 962.6,1291.7C964.6,1291.8 968.2,1292.6 970.4,1293.2C972.6,1293.9 976.1,1295.3 978.3,1296.3C980.5,1297.4 984.1,1299.5 986.1,1301.0C988.1,1302.6 992.6,1306.5 992.3,1307.3C992.1,1308.1 986.5,1306.3 984.5,1306.5C982.5,1306.7 979.7,1307.7 978.3,1308.9C976.8,1310.1 975.4,1313.8 974.3,1315.1C973.3,1316.4 972.1,1317.5 970.4,1318.3C968.8,1319.0 964.8,1319.7 962.6,1320.6C960.4,1321.5 956.8,1323.1 954.8,1324.5C952.8,1325.9 950.3,1329.5 948.5,1330.8C946.8,1332.1 943.8,1334.0 942.3,1333.9C940.7,1333.8 939.1,1331.5 937.6,1330.0C936.0,1328.5 932.7,1325.0 931.3,1323.0C929.9,1320.9 927.9,1317.5 927.4,1315.1C926.8,1312.7 926.4,1307.7 927.4,1305.7Z M1000.2,1313.6C1000.2,1312.4 1003.1,1308.7 1004.9,1307.3C1006.6,1305.9 1010.3,1303.8 1012.7,1303.4C1015.1,1303.0 1019.9,1303.4 1022.1,1304.2C1024.3,1304.9 1026.8,1307.1 1028.3,1308.9C1029.9,1310.6 1031.7,1314.7 1033.0,1316.7C1034.4,1318.7 1038.2,1322.5 1037.7,1323.0C1037.3,1323.4 1032.1,1320.7 1029.9,1319.8C1027.7,1318.9 1024.5,1317.4 1022.1,1316.7C1019.7,1316.0 1015.1,1315.2 1012.7,1315.1C1010.3,1315.0 1006.6,1316.1 1004.9,1315.9C1003.1,1315.7 1000.2,1314.8 1000.2,1313.6Z M973.6,1333.9C974.0,1331.7 977.6,1327.9 979.8,1326.1C982.0,1324.2 986.4,1321.5 989.2,1320.6C992.1,1319.7 997.8,1319.1 1000.2,1319.8C1002.6,1320.6 1005.1,1324.1 1006.4,1326.1C1007.7,1328.1 1008.9,1331.5 1009.6,1333.9C1010.2,1336.3 1011.1,1340.9 1011.1,1343.3C1011.1,1345.7 1009.3,1349.2 1009.6,1351.1C1009.8,1353.1 1012.9,1356.7 1012.7,1357.4C1012.5,1358.0 1009.5,1356.5 1008.0,1355.8C1006.5,1355.2 1002.8,1352.0 1001.7,1352.7C1000.6,1353.4 999.7,1358.3 1000.2,1360.5C1000.6,1362.7 1004.9,1367.5 1004.9,1368.3C1004.9,1369.2 1001.7,1367.4 1000.2,1366.8C998.6,1366.1 995.7,1365.0 993.9,1363.7C992.2,1362.3 989.4,1359.4 987.7,1357.4C985.9,1355.4 982.9,1351.8 981.4,1349.6C979.9,1347.4 977.8,1343.9 976.7,1341.7C975.6,1339.5 973.1,1336.1 973.6,1333.9Z M962.6,1348.0C963.4,1345.8 964.4,1341.9 965.7,1340.2C967.1,1338.4 970.7,1335.5 972.0,1335.5C973.3,1335.5 975.3,1339.1 975.1,1340.2C974.9,1341.3 971.7,1342.0 970.4,1343.3C969.1,1344.6 966.8,1347.4 965.7,1349.6C964.6,1351.8 963.3,1356.8 962.6,1359.0C962.0,1361.1 961.4,1365.7 961.0,1365.2C960.7,1364.8 960.0,1358.2 960.3,1355.8C960.5,1353.4 961.8,1350.2 962.6,1348.0Z M1047.9,1308.1C1048.1,1307.0 1053.1,1305.8 1055.0,1305.7C1056.8,1305.6 1059.7,1306.2 1061.2,1307.3C1062.7,1308.4 1064.4,1312.2 1065.9,1313.6C1067.4,1314.9 1072.2,1316.0 1072.2,1316.7C1072.2,1317.4 1066.3,1317.7 1065.9,1318.3C1065.5,1318.8 1069.5,1320.2 1069.0,1320.6C1068.6,1321.0 1064.3,1321.7 1062.8,1321.4C1061.2,1321.1 1059.4,1319.4 1058.1,1318.3C1056.8,1317.2 1054.8,1315.0 1053.4,1313.6C1052.0,1312.1 1047.7,1309.2 1047.9,1308.1Z M1041.6,1327.7C1041.9,1326.8 1046.6,1326.2 1048.7,1326.1C1050.8,1326.0 1054.3,1326.9 1056.5,1326.9C1058.7,1326.9 1062.0,1326.3 1064.3,1326.1C1066.6,1325.9 1072.5,1324.9 1073.0,1325.3C1073.4,1325.7 1069.3,1328.4 1067.5,1329.2C1065.6,1330.0 1061.0,1329.7 1059.6,1330.8C1058.3,1331.9 1058.7,1335.3 1058.1,1337.0C1057.4,1338.8 1056.0,1342.0 1055.0,1343.3C1053.9,1344.6 1050.7,1346.9 1050.3,1346.4C1049.8,1346.0 1051.5,1341.9 1051.8,1340.2C1052.2,1338.4 1053.3,1335.0 1052.6,1333.9C1051.9,1332.8 1048.7,1333.2 1047.1,1332.3C1045.6,1331.5 1041.4,1328.5 1041.6,1327.7Z M1031.5,1348.0C1032.1,1347.3 1035.3,1348.1 1037.7,1348.0C1040.1,1347.9 1047.6,1347.0 1048.7,1347.2C1049.8,1347.4 1047.1,1349.0 1045.6,1349.6C1044.0,1350.1 1037.7,1350.6 1037.7,1351.1C1037.7,1351.7 1044.4,1352.4 1045.6,1353.5C1046.8,1354.6 1047.0,1358.4 1046.3,1359.0C1045.7,1359.5 1042.5,1358.0 1040.9,1357.4C1039.2,1356.7 1035.0,1353.6 1034.6,1354.3C1034.2,1354.9 1038.0,1359.9 1037.7,1362.1C1037.5,1364.3 1034.6,1368.7 1033.0,1369.9C1031.5,1371.1 1028.1,1370.9 1026.8,1370.7C1025.5,1370.5 1023.2,1369.1 1023.7,1368.3C1024.1,1367.6 1028.6,1366.5 1029.9,1365.2C1031.2,1363.9 1032.6,1360.7 1033.0,1359.0C1033.5,1357.2 1033.3,1354.2 1033.0,1352.7C1032.8,1351.2 1030.8,1348.7 1031.5,1348.0Z M932.1,1352.7C933.4,1350.7 936.8,1348.9 939.1,1348.0C941.4,1347.1 946.0,1347.0 948.5,1346.4C951.0,1345.9 956.3,1343.2 957.1,1344.1C958.0,1345.0 955.1,1350.4 954.8,1352.7C954.5,1355.0 954.5,1358.5 954.8,1360.5C955.1,1362.5 957.1,1365.0 957.1,1366.8C957.1,1368.5 956.0,1371.5 954.8,1373.0C953.6,1374.6 949.8,1376.8 948.5,1377.7C947.2,1378.7 946.5,1380.3 945.4,1380.1C944.3,1379.9 942.1,1376.3 940.7,1376.2C939.3,1376.1 936.6,1379.3 935.2,1379.3C933.8,1379.3 931.9,1376.4 930.5,1376.2C929.1,1376.0 925.7,1378.6 925.0,1377.7C924.4,1376.9 925.2,1372.1 925.8,1369.9C926.5,1367.7 928.9,1364.5 929.7,1362.1C930.6,1359.7 930.8,1354.7 932.1,1352.7Z M959.5,1380.9C959.8,1379.1 961.3,1376.0 962.6,1374.6C963.9,1373.2 967.1,1370.9 968.9,1370.7C970.6,1370.5 973.4,1372.9 975.1,1373.0C976.9,1373.2 980.2,1370.8 981.4,1371.5C982.6,1372.1 983.7,1376.2 983.7,1377.7C983.7,1379.3 982.6,1382.0 981.4,1382.4C980.2,1382.9 976.2,1379.8 975.1,1380.9C974.0,1382.0 974.2,1389.8 973.6,1390.3C972.9,1390.7 971.3,1385.8 970.4,1384.0C969.6,1382.2 968.1,1377.5 967.3,1377.7C966.5,1378.0 965.6,1383.5 965.0,1385.6C964.3,1387.6 963.3,1392.4 962.6,1392.6C962.0,1392.8 960.7,1388.8 960.3,1387.1C959.8,1385.5 959.1,1382.6 959.5,1380.9Z M994.7,1382.4C995.1,1381.7 999.9,1380.4 1001.7,1379.3C1003.6,1378.2 1006.5,1376.1 1008.0,1374.6C1009.5,1373.1 1011.2,1369.0 1012.7,1368.3C1014.2,1367.7 1017.7,1368.8 1019.0,1369.9C1020.2,1371.0 1021.1,1374.4 1021.3,1376.2C1021.5,1377.9 1021.3,1381.1 1020.5,1382.4C1019.8,1383.7 1016.3,1386.2 1015.8,1385.6C1015.4,1384.9 1017.6,1379.1 1017.4,1377.7C1017.2,1376.4 1015.4,1375.7 1014.3,1376.2C1013.2,1376.6 1010.9,1379.7 1009.6,1380.9C1008.2,1382.1 1006.4,1384.2 1004.9,1384.8C1003.3,1385.3 1000.0,1385.1 998.6,1384.8C997.2,1384.5 994.3,1383.2 994.7,1382.4Z" fill="#fff"/><path d="M1007.7,1243.9C1007.9,1243.9 1009.0,1248.5 1009.6,1251.0C1010.1,1253.4 1011.4,1260.3 1011.4,1261.1C1011.4,1262.0 1010.0,1258.6 1009.6,1257.2C1009.1,1255.8 1008.3,1252.8 1008.0,1251.0C1007.7,1249.1 1007.5,1243.9 1007.7,1243.9Z" fill="#000"/></mask>
</defs>
<rect x="459.0" y="682.8" width="280.1" height="350.20000000000005" fill="#8a868a" opacity="0.38" filter="url(#blur2)"/>
<rect x="461.5" y="680.3" width="278.1" height="349.70000000000005" fill="#d4d1d2"/>
<rect x="461.5" y="1026.5" width="278.1" height="3.5" fill="#b8b3b4"/>
<rect x="461.5" y="680.3" width="3.7" height="349.70000000000005" fill="#aeaaab"/>
<rect x="465.2" y="683.9" width="271.0" height="342.6" fill="#f3f1f2"/>
<g filter="url(#inner1)"><path d="M841.6,783.2C841.2,781.0 844.4,778.9 846.6,777.4C848.8,775.9 853.4,774.1 856.5,773.3C859.6,772.6 865.2,773.5 867.2,772.5C869.2,771.5 869.9,768.3 869.7,766.7C869.4,765.1 866.3,763.5 865.5,761.8C864.8,760.0 864.2,757.0 864.7,755.2C865.2,753.3 868.5,751.5 868.8,749.4C869.2,747.3 867.6,744.2 867.2,741.2C866.8,738.2 865.7,731.9 866.4,729.7C867.0,727.4 869.1,726.7 871.3,726.0C873.5,725.3 878.8,725.0 881.2,725.0C883.5,725.1 885.8,727.3 887.0,726.4C888.1,725.4 887.6,721.0 888.6,718.9C889.6,716.8 891.4,713.8 893.5,712.4C895.6,710.9 899.5,709.8 902.6,709.6C905.7,709.3 911.2,710.8 914.1,710.7C917.1,710.6 920.8,708.8 922.4,709.1C924.0,709.3 924.5,711.0 924.8,712.4C925.2,713.7 924.3,716.5 924.8,718.1C925.3,719.7 927.0,723.1 928.1,723.1C929.3,723.0 930.2,718.9 932.3,717.8C934.4,716.7 939.2,716.1 942.1,716.0C945.1,715.9 949.1,716.4 952.0,717.0C955.0,717.5 959.2,719.6 961.9,719.4C964.6,719.3 968.0,716.3 970.1,716.0C972.2,715.7 974.4,716.2 975.9,717.3C977.4,718.4 979.0,721.2 980.0,723.1C981.0,724.9 980.8,728.3 982.5,729.7C984.2,731.0 988.8,730.9 991.6,732.1C994.3,733.3 998.5,735.7 1000.6,737.6C1002.7,739.4 1005.0,742.2 1005.6,744.5C1006.2,746.8 1003.9,751.0 1004.7,752.7C1005.6,754.4 1009.2,755.0 1011.3,756.0C1013.4,757.0 1017.0,757.6 1018.7,759.3C1020.5,761.0 1021.9,765.1 1022.9,767.5C1023.9,770.0 1025.2,773.3 1025.3,775.8C1025.5,778.3 1024.8,781.9 1023.7,784.0C1022.6,786.1 1019.7,788.4 1017.9,789.8C1016.2,791.1 1012.5,791.8 1012.2,793.1C1011.8,794.3 1015.2,796.3 1015.5,798.0C1015.7,799.8 1015.0,803.1 1013.8,804.6C1012.6,806.1 1009.2,806.3 1007.2,807.9C1005.2,809.5 1000.3,814.1 1000.6,815.3C1001.0,816.6 1006.8,815.3 1009.7,816.1C1012.5,817.0 1017.1,819.4 1019.6,821.1C1022.0,822.8 1024.9,825.8 1026.2,827.7C1027.4,829.5 1028.1,831.8 1027.8,833.4C1027.6,835.0 1025.6,837.4 1024.5,838.4C1023.4,839.4 1021.3,839.0 1020.4,840.0C1019.5,841.0 1020.1,843.7 1018.7,845.0C1017.4,846.2 1013.8,847.4 1011.3,848.3C1008.9,849.1 1005.0,850.6 1002.3,850.7C999.6,850.9 995.6,849.5 993.2,849.1C990.9,848.7 987.2,847.2 986.6,848.3C986.0,849.4 989.0,853.8 989.1,856.5C989.2,859.2 988.4,863.7 987.4,866.4C986.5,869.1 984.1,872.8 982.5,874.6C980.9,876.5 978.3,878.1 976.7,878.7C975.1,879.4 973.0,879.5 971.8,878.7C970.6,878.0 969.4,875.4 968.5,873.8C967.6,872.2 966.9,868.3 966.0,868.0C965.2,867.8 964.0,871.0 962.7,872.2C961.5,873.3 959.2,875.9 957.8,875.9C956.4,875.9 954.9,873.6 953.7,872.2C952.4,870.7 950.5,868.2 949.6,866.4C948.6,864.5 948.2,860.4 947.1,859.8C946.0,859.2 944.4,861.9 942.1,862.3C939.9,862.6 934.1,863.4 932.3,862.3C930.4,861.2 930.4,856.1 929.8,854.9C929.2,853.6 928.5,853.3 928.1,854.0C927.8,854.8 928.4,857.9 927.3,859.8C926.2,861.7 923.2,864.5 920.7,866.4C918.3,868.2 913.8,871.0 910.8,872.2C907.9,873.3 904.2,873.8 901.0,873.8C897.7,873.8 892.4,873.3 889.4,872.2C886.5,871.0 883.5,868.4 881.2,866.4C878.8,864.4 875.5,861.1 873.8,859.0C872.0,856.9 870.6,853.5 869.7,852.4C868.7,851.3 868.7,851.8 867.2,851.6C865.7,851.3 861.9,851.4 859.8,850.7C857.7,850.1 854.9,848.4 853.2,847.4C851.5,846.5 849.1,846.3 848.6,844.6C848.1,843.0 849.1,838.9 849.9,836.7C850.7,834.6 852.3,831.8 854.0,830.1C855.7,828.5 859.8,827.3 861.4,826.0C863.0,824.8 863.4,823.3 864.7,821.9C866.1,820.6 870.5,818.2 870.5,817.0C870.5,815.7 866.4,814.9 864.7,813.7C863.0,812.4 860.1,810.3 858.9,808.7C857.8,807.1 857.4,804.2 857.3,803.0C857.2,801.7 859.2,802.1 858.1,800.5C857.0,798.9 852.4,794.9 849.9,792.3C847.4,789.7 842.1,785.4 841.6,783.2Z M1060.6,854.8C1061.7,855.0 1063.2,857.0 1063.6,858.5C1064.0,859.9 1063.9,862.5 1063.2,864.4C1062.6,866.3 1058.8,869.6 1059.3,871.0C1059.8,872.4 1064.4,872.8 1066.5,873.6C1068.6,874.4 1071.8,875.4 1073.1,876.2C1074.4,877.1 1075.2,878.4 1075.1,879.3C1075.0,880.2 1072.7,880.8 1072.2,882.2C1071.7,883.6 1070.9,887.8 1071.8,888.8C1072.7,889.7 1077.2,888.2 1078.4,888.5C1079.6,888.8 1080.2,889.3 1080.0,890.7C1079.8,892.2 1078.3,895.9 1077.1,898.0C1075.8,900.1 1073.6,903.0 1071.8,904.6C1070.0,906.2 1066.8,907.6 1065.2,908.5C1063.6,909.4 1060.9,909.8 1061.3,910.5C1061.6,911.2 1066.0,911.9 1067.8,913.1C1069.7,914.4 1072.8,917.4 1073.4,919.1C1074.0,920.8 1072.8,923.1 1071.8,924.3C1070.8,925.6 1066.3,926.8 1066.5,927.6C1066.7,928.5 1072.2,929.5 1073.1,930.3C1074.0,931.1 1073.4,932.2 1072.5,932.9C1071.5,933.6 1068.6,934.4 1066.5,934.9C1064.4,935.4 1060.1,935.0 1058.6,936.2C1057.1,937.4 1057.6,940.6 1056.6,942.8C1055.7,945.0 1053.5,948.9 1052.0,950.7C1050.5,952.5 1047.8,953.6 1046.8,954.7C1045.7,955.7 1044.9,956.6 1044.8,958.0C1044.7,959.3 1046.6,962.8 1046.1,963.9C1045.6,965.0 1043.0,964.7 1041.5,965.2C1040.0,965.7 1036.7,966.2 1036.2,967.2C1035.7,968.2 1038.4,970.2 1038.2,971.8C1038.0,973.4 1036.1,976.6 1034.9,977.7C1033.7,978.8 1031.9,979.3 1030.3,979.0C1028.7,978.7 1026.0,976.4 1024.3,975.7C1022.7,975.1 1019.6,973.5 1019.1,974.4C1018.6,975.3 1021.1,979.5 1021.1,981.7C1021.1,983.9 1019.9,987.6 1019.1,988.9C1018.3,990.2 1016.9,990.6 1015.8,990.2C1014.7,989.9 1012.9,986.5 1011.8,986.3C1010.7,986.1 1009.8,987.9 1008.5,988.9C1007.2,989.9 1004.8,992.6 1003.3,992.9C1001.7,993.2 999.6,991.7 998.0,990.9C996.4,990.1 994.5,988.4 992.7,987.6C990.9,986.8 987.2,985.3 986.1,985.6C985.0,985.9 986.3,988.7 985.5,989.6C984.7,990.5 981.9,990.6 980.9,991.6C979.8,992.6 979.1,996.0 978.2,996.2C977.3,996.4 975.9,992.8 974.9,992.9C973.9,993.0 972.4,995.9 971.6,996.8C970.8,997.7 970.3,999.6 969.7,998.8C969.0,998.0 967.8,991.7 967.0,991.6C966.2,991.5 965.6,997.1 964.4,998.2C963.2,999.2 960.1,1000.2 959.1,998.8C958.1,997.4 957.7,991.4 957.8,988.9C957.9,986.5 959.7,984.3 959.8,982.3C959.9,980.4 958.9,978.1 958.5,975.7C958.0,973.4 956.6,969.3 956.5,966.5C956.4,963.8 957.1,960.1 957.8,957.3C958.5,954.5 959.5,950.4 961.1,948.1C962.7,945.7 966.3,943.4 968.3,941.5C970.4,939.6 973.0,937.3 974.9,935.6C976.8,933.8 979.0,931.1 980.9,929.6C982.7,928.1 985.3,926.5 987.4,925.7C989.6,924.9 993.5,924.7 995.4,924.3C997.2,924.0 999.2,924.0 1000.0,923.0C1000.8,922.0 999.7,919.7 1000.6,917.8C1001.5,915.8 1004.7,912.0 1005.9,909.9C1007.1,907.7 1007.4,905.0 1008.5,903.3C1009.6,901.5 1012.4,899.6 1013.1,898.0C1013.9,896.4 1013.1,894.7 1013.8,892.7C1014.5,890.7 1016.7,887.2 1017.8,884.8C1018.8,882.4 1019.3,878.8 1021.1,876.9C1022.8,875.0 1027.0,874.1 1029.6,872.3C1032.3,870.5 1036.1,866.7 1038.8,865.0C1041.6,863.4 1045.5,862.3 1048.1,861.1C1050.6,859.9 1054.1,858.1 1056.0,857.1C1057.9,856.2 1059.4,854.6 1060.6,854.8Z" fill="#ecd8e5" transform="translate(-358.7,0)"/></g>
<circle cx="551" cy="921" r="8.6" fill="none" stroke="#747474" stroke-width="1.5"/><text x="551" y="925.7" style="font-family:'Liberation Sans',sans-serif;font-size:13.5px;font-weight:bold" fill="#5c5c5c" text-anchor="middle">1</text>
<text transform="translate(773.4,864.1) scale(1,0.61)" x="0" y="0" style="font-family:'Liberation Sans',sans-serif" font-size="40" font-weight="bold" fill="#a0a0a5">=</text>
<path d="M841.6,783.2C841.2,781.0 844.4,778.9 846.6,777.4C848.8,775.9 853.4,774.1 856.5,773.3C859.6,772.6 865.2,773.5 867.2,772.5C869.2,771.5 869.9,768.3 869.7,766.7C869.4,765.1 866.3,763.5 865.5,761.8C864.8,760.0 864.2,757.0 864.7,755.2C865.2,753.3 868.5,751.5 868.8,749.4C869.2,747.3 867.6,744.2 867.2,741.2C866.8,738.2 865.7,731.9 866.4,729.7C867.0,727.4 869.1,726.7 871.3,726.0C873.5,725.3 878.8,725.0 881.2,725.0C883.5,725.1 885.8,727.3 887.0,726.4C888.1,725.4 887.6,721.0 888.6,718.9C889.6,716.8 891.4,713.8 893.5,712.4C895.6,710.9 899.5,709.8 902.6,709.6C905.7,709.3 911.2,710.8 914.1,710.7C917.1,710.6 920.8,708.8 922.4,709.1C924.0,709.3 924.5,711.0 924.8,712.4C925.2,713.7 924.3,716.5 924.8,718.1C925.3,719.7 927.0,723.1 928.1,723.1C929.3,723.0 930.2,718.9 932.3,717.8C934.4,716.7 939.2,716.1 942.1,716.0C945.1,715.9 949.1,716.4 952.0,717.0C955.0,717.5 959.2,719.6 961.9,719.4C964.6,719.3 968.0,716.3 970.1,716.0C972.2,715.7 974.4,716.2 975.9,717.3C977.4,718.4 979.0,721.2 980.0,723.1C981.0,724.9 980.8,728.3 982.5,729.7C984.2,731.0 988.8,730.9 991.6,732.1C994.3,733.3 998.5,735.7 1000.6,737.6C1002.7,739.4 1005.0,742.2 1005.6,744.5C1006.2,746.8 1003.9,751.0 1004.7,752.7C1005.6,754.4 1009.2,755.0 1011.3,756.0C1013.4,757.0 1017.0,757.6 1018.7,759.3C1020.5,761.0 1021.9,765.1 1022.9,767.5C1023.9,770.0 1025.2,773.3 1025.3,775.8C1025.5,778.3 1024.8,781.9 1023.7,784.0C1022.6,786.1 1019.7,788.4 1017.9,789.8C1016.2,791.1 1012.5,791.8 1012.2,793.1C1011.8,794.3 1015.2,796.3 1015.5,798.0C1015.7,799.8 1015.0,803.1 1013.8,804.6C1012.6,806.1 1009.2,806.3 1007.2,807.9C1005.2,809.5 1000.3,814.1 1000.6,815.3C1001.0,816.6 1006.8,815.3 1009.7,816.1C1012.5,817.0 1017.1,819.4 1019.6,821.1C1022.0,822.8 1024.9,825.8 1026.2,827.7C1027.4,829.5 1028.1,831.8 1027.8,833.4C1027.6,835.0 1025.6,837.4 1024.5,838.4C1023.4,839.4 1021.3,839.0 1020.4,840.0C1019.5,841.0 1020.1,843.7 1018.7,845.0C1017.4,846.2 1013.8,847.4 1011.3,848.3C1008.9,849.1 1005.0,850.6 1002.3,850.7C999.6,850.9 995.6,849.5 993.2,849.1C990.9,848.7 987.2,847.2 986.6,848.3C986.0,849.4 989.0,853.8 989.1,856.5C989.2,859.2 988.4,863.7 987.4,866.4C986.5,869.1 984.1,872.8 982.5,874.6C980.9,876.5 978.3,878.1 976.7,878.7C975.1,879.4 973.0,879.5 971.8,878.7C970.6,878.0 969.4,875.4 968.5,873.8C967.6,872.2 966.9,868.3 966.0,868.0C965.2,867.8 964.0,871.0 962.7,872.2C961.5,873.3 959.2,875.9 957.8,875.9C956.4,875.9 954.9,873.6 953.7,872.2C952.4,870.7 950.5,868.2 949.6,866.4C948.6,864.5 948.2,860.4 947.1,859.8C946.0,859.2 944.4,861.9 942.1,862.3C939.9,862.6 934.1,863.4 932.3,862.3C930.4,861.2 930.4,856.1 929.8,854.9C929.2,853.6 928.5,853.3 928.1,854.0C927.8,854.8 928.4,857.9 927.3,859.8C926.2,861.7 923.2,864.5 920.7,866.4C918.3,868.2 913.8,871.0 910.8,872.2C907.9,873.3 904.2,873.8 901.0,873.8C897.7,873.8 892.4,873.3 889.4,872.2C886.5,871.0 883.5,868.4 881.2,866.4C878.8,864.4 875.5,861.1 873.8,859.0C872.0,856.9 870.6,853.5 869.7,852.4C868.7,851.3 868.7,851.8 867.2,851.6C865.7,851.3 861.9,851.4 859.8,850.7C857.7,850.1 854.9,848.4 853.2,847.4C851.5,846.5 849.1,846.3 848.6,844.6C848.1,843.0 849.1,838.9 849.9,836.7C850.7,834.6 852.3,831.8 854.0,830.1C855.7,828.5 859.8,827.3 861.4,826.0C863.0,824.8 863.4,823.3 864.7,821.9C866.1,820.6 870.5,818.2 870.5,817.0C870.5,815.7 866.4,814.9 864.7,813.7C863.0,812.4 860.1,810.3 858.9,808.7C857.8,807.1 857.4,804.2 857.3,803.0C857.2,801.7 859.2,802.1 858.1,800.5C857.0,798.9 852.4,794.9 849.9,792.3C847.4,789.7 842.1,785.4 841.6,783.2Z M1060.6,854.8C1061.7,855.0 1063.2,857.0 1063.6,858.5C1064.0,859.9 1063.9,862.5 1063.2,864.4C1062.6,866.3 1058.8,869.6 1059.3,871.0C1059.8,872.4 1064.4,872.8 1066.5,873.6C1068.6,874.4 1071.8,875.4 1073.1,876.2C1074.4,877.1 1075.2,878.4 1075.1,879.3C1075.0,880.2 1072.7,880.8 1072.2,882.2C1071.7,883.6 1070.9,887.8 1071.8,888.8C1072.7,889.7 1077.2,888.2 1078.4,888.5C1079.6,888.8 1080.2,889.3 1080.0,890.7C1079.8,892.2 1078.3,895.9 1077.1,898.0C1075.8,900.1 1073.6,903.0 1071.8,904.6C1070.0,906.2 1066.8,907.6 1065.2,908.5C1063.6,909.4 1060.9,909.8 1061.3,910.5C1061.6,911.2 1066.0,911.9 1067.8,913.1C1069.7,914.4 1072.8,917.4 1073.4,919.1C1074.0,920.8 1072.8,923.1 1071.8,924.3C1070.8,925.6 1066.3,926.8 1066.5,927.6C1066.7,928.5 1072.2,929.5 1073.1,930.3C1074.0,931.1 1073.4,932.2 1072.5,932.9C1071.5,933.6 1068.6,934.4 1066.5,934.9C1064.4,935.4 1060.1,935.0 1058.6,936.2C1057.1,937.4 1057.6,940.6 1056.6,942.8C1055.7,945.0 1053.5,948.9 1052.0,950.7C1050.5,952.5 1047.8,953.6 1046.8,954.7C1045.7,955.7 1044.9,956.6 1044.8,958.0C1044.7,959.3 1046.6,962.8 1046.1,963.9C1045.6,965.0 1043.0,964.7 1041.5,965.2C1040.0,965.7 1036.7,966.2 1036.2,967.2C1035.7,968.2 1038.4,970.2 1038.2,971.8C1038.0,973.4 1036.1,976.6 1034.9,977.7C1033.7,978.8 1031.9,979.3 1030.3,979.0C1028.7,978.7 1026.0,976.4 1024.3,975.7C1022.7,975.1 1019.6,973.5 1019.1,974.4C1018.6,975.3 1021.1,979.5 1021.1,981.7C1021.1,983.9 1019.9,987.6 1019.1,988.9C1018.3,990.2 1016.9,990.6 1015.8,990.2C1014.7,989.9 1012.9,986.5 1011.8,986.3C1010.7,986.1 1009.8,987.9 1008.5,988.9C1007.2,989.9 1004.8,992.6 1003.3,992.9C1001.7,993.2 999.6,991.7 998.0,990.9C996.4,990.1 994.5,988.4 992.7,987.6C990.9,986.8 987.2,985.3 986.1,985.6C985.0,985.9 986.3,988.7 985.5,989.6C984.7,990.5 981.9,990.6 980.9,991.6C979.8,992.6 979.1,996.0 978.2,996.2C977.3,996.4 975.9,992.8 974.9,992.9C973.9,993.0 972.4,995.9 971.6,996.8C970.8,997.7 970.3,999.6 969.7,998.8C969.0,998.0 967.8,991.7 967.0,991.6C966.2,991.5 965.6,997.1 964.4,998.2C963.2,999.2 960.1,1000.2 959.1,998.8C958.1,997.4 957.7,991.4 957.8,988.9C957.9,986.5 959.7,984.3 959.8,982.3C959.9,980.4 958.9,978.1 958.5,975.7C958.0,973.4 956.6,969.3 956.5,966.5C956.4,963.8 957.1,960.1 957.8,957.3C958.5,954.5 959.5,950.4 961.1,948.1C962.7,945.7 966.3,943.4 968.3,941.5C970.4,939.6 973.0,937.3 974.9,935.6C976.8,933.8 979.0,931.1 980.9,929.6C982.7,928.1 985.3,926.5 987.4,925.7C989.6,924.9 993.5,924.7 995.4,924.3C997.2,924.0 999.2,924.0 1000.0,923.0C1000.8,922.0 999.7,919.7 1000.6,917.8C1001.5,915.8 1004.7,912.0 1005.9,909.9C1007.1,907.7 1007.4,905.0 1008.5,903.3C1009.6,901.5 1012.4,899.6 1013.1,898.0C1013.9,896.4 1013.1,894.7 1013.8,892.7C1014.5,890.7 1016.7,887.2 1017.8,884.8C1018.8,882.4 1019.3,878.8 1021.1,876.9C1022.8,875.0 1027.0,874.1 1029.6,872.3C1032.3,870.5 1036.1,866.7 1038.8,865.0C1041.6,863.4 1045.5,862.3 1048.1,861.1C1050.6,859.9 1054.1,858.1 1056.0,857.1C1057.9,856.2 1059.4,854.6 1060.6,854.8Z" fill="#ecd8e5"/>
<path d="M841.6,783.2C841.2,781.0 844.4,778.9 846.6,777.4C848.8,775.9 853.4,774.1 856.5,773.3C859.6,772.6 865.2,773.5 867.2,772.5C869.2,771.5 869.9,768.3 869.7,766.7C869.4,765.1 866.3,763.5 865.5,761.8C864.8,760.0 864.2,757.0 864.7,755.2C865.2,753.3 868.5,751.5 868.8,749.4C869.2,747.3 867.6,744.2 867.2,741.2C866.8,738.2 865.7,731.9 866.4,729.7C867.0,727.4 869.1,726.7 871.3,726.0C873.5,725.3 878.8,725.0 881.2,725.0C883.5,725.1 885.8,727.3 887.0,726.4C888.1,725.4 887.6,721.0 888.6,718.9C889.6,716.8 891.4,713.8 893.5,712.4C895.6,710.9 899.5,709.8 902.6,709.6C905.7,709.3 911.2,710.8 914.1,710.7C917.1,710.6 920.8,708.8 922.4,709.1C924.0,709.3 924.5,711.0 924.8,712.4C925.2,713.7 924.3,716.5 924.8,718.1C925.3,719.7 927.0,723.1 928.1,723.1C929.3,723.0 930.2,718.9 932.3,717.8C934.4,716.7 939.2,716.1 942.1,716.0C945.1,715.9 949.1,716.4 952.0,717.0C955.0,717.5 959.2,719.6 961.9,719.4C964.6,719.3 968.0,716.3 970.1,716.0C972.2,715.7 974.4,716.2 975.9,717.3C977.4,718.4 979.0,721.2 980.0,723.1C981.0,724.9 980.8,728.3 982.5,729.7C984.2,731.0 988.8,730.9 991.6,732.1C994.3,733.3 998.5,735.7 1000.6,737.6C1002.7,739.4 1005.0,742.2 1005.6,744.5C1006.2,746.8 1003.9,751.0 1004.7,752.7C1005.6,754.4 1009.2,755.0 1011.3,756.0C1013.4,757.0 1017.0,757.6 1018.7,759.3C1020.5,761.0 1021.9,765.1 1022.9,767.5C1023.9,770.0 1025.2,773.3 1025.3,775.8C1025.5,778.3 1024.8,781.9 1023.7,784.0C1022.6,786.1 1019.7,788.4 1017.9,789.8C1016.2,791.1 1012.5,791.8 1012.2,793.1C1011.8,794.3 1015.2,796.3 1015.5,798.0C1015.7,799.8 1015.0,803.1 1013.8,804.6C1012.6,806.1 1009.2,806.3 1007.2,807.9C1005.2,809.5 1000.3,814.1 1000.6,815.3C1001.0,816.6 1006.8,815.3 1009.7,816.1C1012.5,817.0 1017.1,819.4 1019.6,821.1C1022.0,822.8 1024.9,825.8 1026.2,827.7C1027.4,829.5 1028.1,831.8 1027.8,833.4C1027.6,835.0 1025.6,837.4 1024.5,838.4C1023.4,839.4 1021.3,839.0 1020.4,840.0C1019.5,841.0 1020.1,843.7 1018.7,845.0C1017.4,846.2 1013.8,847.4 1011.3,848.3C1008.9,849.1 1005.0,850.6 1002.3,850.7C999.6,850.9 995.6,849.5 993.2,849.1C990.9,848.7 987.2,847.2 986.6,848.3C986.0,849.4 989.0,853.8 989.1,856.5C989.2,859.2 988.4,863.7 987.4,866.4C986.5,869.1 984.1,872.8 982.5,874.6C980.9,876.5 978.3,878.1 976.7,878.7C975.1,879.4 973.0,879.5 971.8,878.7C970.6,878.0 969.4,875.4 968.5,873.8C967.6,872.2 966.9,868.3 966.0,868.0C965.2,867.8 964.0,871.0 962.7,872.2C961.5,873.3 959.2,875.9 957.8,875.9C956.4,875.9 954.9,873.6 953.7,872.2C952.4,870.7 950.5,868.2 949.6,866.4C948.6,864.5 948.2,860.4 947.1,859.8C946.0,859.2 944.4,861.9 942.1,862.3C939.9,862.6 934.1,863.4 932.3,862.3C930.4,861.2 930.4,856.1 929.8,854.9C929.2,853.6 928.5,853.3 928.1,854.0C927.8,854.8 928.4,857.9 927.3,859.8C926.2,861.7 923.2,864.5 920.7,866.4C918.3,868.2 913.8,871.0 910.8,872.2C907.9,873.3 904.2,873.8 901.0,873.8C897.7,873.8 892.4,873.3 889.4,872.2C886.5,871.0 883.5,868.4 881.2,866.4C878.8,864.4 875.5,861.1 873.8,859.0C872.0,856.9 870.6,853.5 869.7,852.4C868.7,851.3 868.7,851.8 867.2,851.6C865.7,851.3 861.9,851.4 859.8,850.7C857.7,850.1 854.9,848.4 853.2,847.4C851.5,846.5 849.1,846.3 848.6,844.6C848.1,843.0 849.1,838.9 849.9,836.7C850.7,834.6 852.3,831.8 854.0,830.1C855.7,828.5 859.8,827.3 861.4,826.0C863.0,824.8 863.4,823.3 864.7,821.9C866.1,820.6 870.5,818.2 870.5,817.0C870.5,815.7 866.4,814.9 864.7,813.7C863.0,812.4 860.1,810.3 858.9,808.7C857.8,807.1 857.4,804.2 857.3,803.0C857.2,801.7 859.2,802.1 858.1,800.5C857.0,798.9 852.4,794.9 849.9,792.3C847.4,789.7 842.1,785.4 841.6,783.2Z M1060.6,854.8C1061.7,855.0 1063.2,857.0 1063.6,858.5C1064.0,859.9 1063.9,862.5 1063.2,864.4C1062.6,866.3 1058.8,869.6 1059.3,871.0C1059.8,872.4 1064.4,872.8 1066.5,873.6C1068.6,874.4 1071.8,875.4 1073.1,876.2C1074.4,877.1 1075.2,878.4 1075.1,879.3C1075.0,880.2 1072.7,880.8 1072.2,882.2C1071.7,883.6 1070.9,887.8 1071.8,888.8C1072.7,889.7 1077.2,888.2 1078.4,888.5C1079.6,888.8 1080.2,889.3 1080.0,890.7C1079.8,892.2 1078.3,895.9 1077.1,898.0C1075.8,900.1 1073.6,903.0 1071.8,904.6C1070.0,906.2 1066.8,907.6 1065.2,908.5C1063.6,909.4 1060.9,909.8 1061.3,910.5C1061.6,911.2 1066.0,911.9 1067.8,913.1C1069.7,914.4 1072.8,917.4 1073.4,919.1C1074.0,920.8 1072.8,923.1 1071.8,924.3C1070.8,925.6 1066.3,926.8 1066.5,927.6C1066.7,928.5 1072.2,929.5 1073.1,930.3C1074.0,931.1 1073.4,932.2 1072.5,932.9C1071.5,933.6 1068.6,934.4 1066.5,934.9C1064.4,935.4 1060.1,935.0 1058.6,936.2C1057.1,937.4 1057.6,940.6 1056.6,942.8C1055.7,945.0 1053.5,948.9 1052.0,950.7C1050.5,952.5 1047.8,953.6 1046.8,954.7C1045.7,955.7 1044.9,956.6 1044.8,958.0C1044.7,959.3 1046.6,962.8 1046.1,963.9C1045.6,965.0 1043.0,964.7 1041.5,965.2C1040.0,965.7 1036.7,966.2 1036.2,967.2C1035.7,968.2 1038.4,970.2 1038.2,971.8C1038.0,973.4 1036.1,976.6 1034.9,977.7C1033.7,978.8 1031.9,979.3 1030.3,979.0C1028.7,978.7 1026.0,976.4 1024.3,975.7C1022.7,975.1 1019.6,973.5 1019.1,974.4C1018.6,975.3 1021.1,979.5 1021.1,981.7C1021.1,983.9 1019.9,987.6 1019.1,988.9C1018.3,990.2 1016.9,990.6 1015.8,990.2C1014.7,989.9 1012.9,986.5 1011.8,986.3C1010.7,986.1 1009.8,987.9 1008.5,988.9C1007.2,989.9 1004.8,992.6 1003.3,992.9C1001.7,993.2 999.6,991.7 998.0,990.9C996.4,990.1 994.5,988.4 992.7,987.6C990.9,986.8 987.2,985.3 986.1,985.6C985.0,985.9 986.3,988.7 985.5,989.6C984.7,990.5 981.9,990.6 980.9,991.6C979.8,992.6 979.1,996.0 978.2,996.2C977.3,996.4 975.9,992.8 974.9,992.9C973.9,993.0 972.4,995.9 971.6,996.8C970.8,997.7 970.3,999.6 969.7,998.8C969.0,998.0 967.8,991.7 967.0,991.6C966.2,991.5 965.6,997.1 964.4,998.2C963.2,999.2 960.1,1000.2 959.1,998.8C958.1,997.4 957.7,991.4 957.8,988.9C957.9,986.5 959.7,984.3 959.8,982.3C959.9,980.4 958.9,978.1 958.5,975.7C958.0,973.4 956.6,969.3 956.5,966.5C956.4,963.8 957.1,960.1 957.8,957.3C958.5,954.5 959.5,950.4 961.1,948.1C962.7,945.7 966.3,943.4 968.3,941.5C970.4,939.6 973.0,937.3 974.9,935.6C976.8,933.8 979.0,931.1 980.9,929.6C982.7,928.1 985.3,926.5 987.4,925.7C989.6,924.9 993.5,924.7 995.4,924.3C997.2,924.0 999.2,924.0 1000.0,923.0C1000.8,922.0 999.7,919.7 1000.6,917.8C1001.5,915.8 1004.7,912.0 1005.9,909.9C1007.1,907.7 1007.4,905.0 1008.5,903.3C1009.6,901.5 1012.4,899.6 1013.1,898.0C1013.9,896.4 1013.1,894.7 1013.8,892.7C1014.5,890.7 1016.7,887.2 1017.8,884.8C1018.8,882.4 1019.3,878.8 1021.1,876.9C1022.8,875.0 1027.0,874.1 1029.6,872.3C1032.3,870.5 1036.1,866.7 1038.8,865.0C1041.6,863.4 1045.5,862.3 1048.1,861.1C1050.6,859.9 1054.1,858.1 1056.0,857.1C1057.9,856.2 1059.4,854.6 1060.6,854.8Z" fill="#efefef" transform="translate(-720.5,394.1)"/>
<text x="408.12" y="1264.2" style="font-family:'Liberation Sans',sans-serif" font-size="40.6" fill="#a0a0a5" stroke="#a0a0a5" stroke-width="0.7">+</text>
<rect x="459.2" y="1078.5" width="279.90000000000003" height="348.79999999999995" fill="#8a868a" opacity="0.38" filter="url(#blur2)"/>
<rect x="461.7" y="1076" width="277.90000000000003" height="348.29999999999995" fill="#d4d1d2"/>
<rect x="461.7" y="1420.8" width="277.90000000000003" height="3.5" fill="#b8b3b4"/>
<rect x="461.7" y="1076" width="3.7" height="348.29999999999995" fill="#aeaaab"/>
<rect x="465.4" y="1079.6" width="270.8" height="341.19999999999993" fill="#f3f1f2"/>
<path d="M841.6,783.2C841.2,781.0 844.4,778.9 846.6,777.4C848.8,775.9 853.4,774.1 856.5,773.3C859.6,772.6 865.2,773.5 867.2,772.5C869.2,771.5 869.9,768.3 869.7,766.7C869.4,765.1 866.3,763.5 865.5,761.8C864.8,760.0 864.2,757.0 864.7,755.2C865.2,753.3 868.5,751.5 868.8,749.4C869.2,747.3 867.6,744.2 867.2,741.2C866.8,738.2 865.7,731.9 866.4,729.7C867.0,727.4 869.1,726.7 871.3,726.0C873.5,725.3 878.8,725.0 881.2,725.0C883.5,725.1 885.8,727.3 887.0,726.4C888.1,725.4 887.6,721.0 888.6,718.9C889.6,716.8 891.4,713.8 893.5,712.4C895.6,710.9 899.5,709.8 902.6,709.6C905.7,709.3 911.2,710.8 914.1,710.7C917.1,710.6 920.8,708.8 922.4,709.1C924.0,709.3 924.5,711.0 924.8,712.4C925.2,713.7 924.3,716.5 924.8,718.1C925.3,719.7 927.0,723.1 928.1,723.1C929.3,723.0 930.2,718.9 932.3,717.8C934.4,716.7 939.2,716.1 942.1,716.0C945.1,715.9 949.1,716.4 952.0,717.0C955.0,717.5 959.2,719.6 961.9,719.4C964.6,719.3 968.0,716.3 970.1,716.0C972.2,715.7 974.4,716.2 975.9,717.3C977.4,718.4 979.0,721.2 980.0,723.1C981.0,724.9 980.8,728.3 982.5,729.7C984.2,731.0 988.8,730.9 991.6,732.1C994.3,733.3 998.5,735.7 1000.6,737.6C1002.7,739.4 1005.0,742.2 1005.6,744.5C1006.2,746.8 1003.9,751.0 1004.7,752.7C1005.6,754.4 1009.2,755.0 1011.3,756.0C1013.4,757.0 1017.0,757.6 1018.7,759.3C1020.5,761.0 1021.9,765.1 1022.9,767.5C1023.9,770.0 1025.2,773.3 1025.3,775.8C1025.5,778.3 1024.8,781.9 1023.7,784.0C1022.6,786.1 1019.7,788.4 1017.9,789.8C1016.2,791.1 1012.5,791.8 1012.2,793.1C1011.8,794.3 1015.2,796.3 1015.5,798.0C1015.7,799.8 1015.0,803.1 1013.8,804.6C1012.6,806.1 1009.2,806.3 1007.2,807.9C1005.2,809.5 1000.3,814.1 1000.6,815.3C1001.0,816.6 1006.8,815.3 1009.7,816.1C1012.5,817.0 1017.1,819.4 1019.6,821.1C1022.0,822.8 1024.9,825.8 1026.2,827.7C1027.4,829.5 1028.1,831.8 1027.8,833.4C1027.6,835.0 1025.6,837.4 1024.5,838.4C1023.4,839.4 1021.3,839.0 1020.4,840.0C1019.5,841.0 1020.1,843.7 1018.7,845.0C1017.4,846.2 1013.8,847.4 1011.3,848.3C1008.9,849.1 1005.0,850.6 1002.3,850.7C999.6,850.9 995.6,849.5 993.2,849.1C990.9,848.7 987.2,847.2 986.6,848.3C986.0,849.4 989.0,853.8 989.1,856.5C989.2,859.2 988.4,863.7 987.4,866.4C986.5,869.1 984.1,872.8 982.5,874.6C980.9,876.5 978.3,878.1 976.7,878.7C975.1,879.4 973.0,879.5 971.8,878.7C970.6,878.0 969.4,875.4 968.5,873.8C967.6,872.2 966.9,868.3 966.0,868.0C965.2,867.8 964.0,871.0 962.7,872.2C961.5,873.3 959.2,875.9 957.8,875.9C956.4,875.9 954.9,873.6 953.7,872.2C952.4,870.7 950.5,868.2 949.6,866.4C948.6,864.5 948.2,860.4 947.1,859.8C946.0,859.2 944.4,861.9 942.1,862.3C939.9,862.6 934.1,863.4 932.3,862.3C930.4,861.2 930.4,856.1 929.8,854.9C929.2,853.6 928.5,853.3 928.1,854.0C927.8,854.8 928.4,857.9 927.3,859.8C926.2,861.7 923.2,864.5 920.7,866.4C918.3,868.2 913.8,871.0 910.8,872.2C907.9,873.3 904.2,873.8 901.0,873.8C897.7,873.8 892.4,873.3 889.4,872.2C886.5,871.0 883.5,868.4 881.2,866.4C878.8,864.4 875.5,861.1 873.8,859.0C872.0,856.9 870.6,853.5 869.7,852.4C868.7,851.3 868.7,851.8 867.2,851.6C865.7,851.3 861.9,851.4 859.8,850.7C857.7,850.1 854.9,848.4 853.2,847.4C851.5,846.5 849.1,846.3 848.6,844.6C848.1,843.0 849.1,838.9 849.9,836.7C850.7,834.6 852.3,831.8 854.0,830.1C855.7,828.5 859.8,827.3 861.4,826.0C863.0,824.8 863.4,823.3 864.7,821.9C866.1,820.6 870.5,818.2 870.5,817.0C870.5,815.7 866.4,814.9 864.7,813.7C863.0,812.4 860.1,810.3 858.9,808.7C857.8,807.1 857.4,804.2 857.3,803.0C857.2,801.7 859.2,802.1 858.1,800.5C857.0,798.9 852.4,794.9 849.9,792.3C847.4,789.7 842.1,785.4 841.6,783.2Z" fill="none" stroke="#7d7d7d" stroke-width="1" transform="translate(-364.2,386.6)"/>
<path d="M1060.6,854.8C1061.7,855.0 1063.2,857.0 1063.6,858.5C1064.0,859.9 1063.9,862.5 1063.2,864.4C1062.6,866.3 1058.8,869.6 1059.3,871.0C1059.8,872.4 1064.4,872.8 1066.5,873.6C1068.6,874.4 1071.8,875.4 1073.1,876.2C1074.4,877.1 1075.2,878.4 1075.1,879.3C1075.0,880.2 1072.7,880.8 1072.2,882.2C1071.7,883.6 1070.9,887.8 1071.8,888.8C1072.7,889.7 1077.2,888.2 1078.4,888.5C1079.6,888.8 1080.2,889.3 1080.0,890.7C1079.8,892.2 1078.3,895.9 1077.1,898.0C1075.8,900.1 1073.6,903.0 1071.8,904.6C1070.0,906.2 1066.8,907.6 1065.2,908.5C1063.6,909.4 1060.9,909.8 1061.3,910.5C1061.6,911.2 1066.0,911.9 1067.8,913.1C1069.7,914.4 1072.8,917.4 1073.4,919.1C1074.0,920.8 1072.8,923.1 1071.8,924.3C1070.8,925.6 1066.3,926.8 1066.5,927.6C1066.7,928.5 1072.2,929.5 1073.1,930.3C1074.0,931.1 1073.4,932.2 1072.5,932.9C1071.5,933.6 1068.6,934.4 1066.5,934.9C1064.4,935.4 1060.1,935.0 1058.6,936.2C1057.1,937.4 1057.6,940.6 1056.6,942.8C1055.7,945.0 1053.5,948.9 1052.0,950.7C1050.5,952.5 1047.8,953.6 1046.8,954.7C1045.7,955.7 1044.9,956.6 1044.8,958.0C1044.7,959.3 1046.6,962.8 1046.1,963.9C1045.6,965.0 1043.0,964.7 1041.5,965.2C1040.0,965.7 1036.7,966.2 1036.2,967.2C1035.7,968.2 1038.4,970.2 1038.2,971.8C1038.0,973.4 1036.1,976.6 1034.9,977.7C1033.7,978.8 1031.9,979.3 1030.3,979.0C1028.7,978.7 1026.0,976.4 1024.3,975.7C1022.7,975.1 1019.6,973.5 1019.1,974.4C1018.6,975.3 1021.1,979.5 1021.1,981.7C1021.1,983.9 1019.9,987.6 1019.1,988.9C1018.3,990.2 1016.9,990.6 1015.8,990.2C1014.7,989.9 1012.9,986.5 1011.8,986.3C1010.7,986.1 1009.8,987.9 1008.5,988.9C1007.2,989.9 1004.8,992.6 1003.3,992.9C1001.7,993.2 999.6,991.7 998.0,990.9C996.4,990.1 994.5,988.4 992.7,987.6C990.9,986.8 987.2,985.3 986.1,985.6C985.0,985.9 986.3,988.7 985.5,989.6C984.7,990.5 981.9,990.6 980.9,991.6C979.8,992.6 979.1,996.0 978.2,996.2C977.3,996.4 975.9,992.8 974.9,992.9C973.9,993.0 972.4,995.9 971.6,996.8C970.8,997.7 970.3,999.6 969.7,998.8C969.0,998.0 967.8,991.7 967.0,991.6C966.2,991.5 965.6,997.1 964.4,998.2C963.2,999.2 960.1,1000.2 959.1,998.8C958.1,997.4 957.7,991.4 957.8,988.9C957.9,986.5 959.7,984.3 959.8,982.3C959.9,980.4 958.9,978.1 958.5,975.7C958.0,973.4 956.6,969.3 956.5,966.5C956.4,963.8 957.1,960.1 957.8,957.3C958.5,954.5 959.5,950.4 961.1,948.1C962.7,945.7 966.3,943.4 968.3,941.5C970.4,939.6 973.0,937.3 974.9,935.6C976.8,933.8 979.0,931.1 980.9,929.6C982.7,928.1 985.3,926.5 987.4,925.7C989.6,924.9 993.5,924.7 995.4,924.3C997.2,924.0 999.2,924.0 1000.0,923.0C1000.8,922.0 999.7,919.7 1000.6,917.8C1001.5,915.8 1004.7,912.0 1005.9,909.9C1007.1,907.7 1007.4,905.0 1008.5,903.3C1009.6,901.5 1012.4,899.6 1013.1,898.0C1013.9,896.4 1013.1,894.7 1013.8,892.7C1014.5,890.7 1016.7,887.2 1017.8,884.8C1018.8,882.4 1019.3,878.8 1021.1,876.9C1022.8,875.0 1027.0,874.1 1029.6,872.3C1032.3,870.5 1036.1,866.7 1038.8,865.0C1041.6,863.4 1045.5,862.3 1048.1,861.1C1050.6,859.9 1054.1,858.1 1056.0,857.1C1057.9,856.2 1059.4,854.6 1060.6,854.8Z" fill="none" stroke="#7d7d7d" stroke-width="1" transform="translate(-357.0,406.90000000000003)"/>
<path d="M721.4,1234.1C700,1234 682,1234.5 670,1236.5C655,1239 643,1246 632,1256C620,1268 608,1279 596,1288C584,1297 572,1307 565,1318C557,1331 554,1345 552.5,1360C551,1376 550.5,1392 551.8,1408" fill="none" stroke="#7d7d7d" stroke-width="1"/>
<g transform="translate(-364.2,-7.5)">
<g filter="url(#halo)"><rect x="820" y="1070" width="300" height="380" fill="#000" mask="url(#mrose)"/></g>
<g filter="url(#inner2)"><rect x="820" y="1070" width="300" height="380" fill="#dba4c6" mask="url(#mrose)"/></g>
</g>
<g transform="translate(-357.0,12.8)">
<g filter="url(#halo)"><rect x="820" y="1070" width="300" height="380" fill="#000" mask="url(#mpink)"/></g>
<g filter="url(#inner2)"><rect x="820" y="1070" width="300" height="380" fill="#ec94b8" mask="url(#mpink)"/></g>
</g>
<circle cx="528.5" cy="1292.8" r="8.6" fill="none" stroke="#747474" stroke-width="1.5"/><text x="528.5" y="1297.5" style="font-family:'Liberation Sans',sans-serif;font-size:13.5px;font-weight:bold" fill="#5c5c5c" text-anchor="middle">2</text>
<text transform="translate(773.4,1259.05) scale(1,0.61)" x="0" y="0" style="font-family:'Liberation Sans',sans-serif" font-size="40" font-weight="bold" fill="#a0a0a5">=</text>
<path d="M841.6,783.2C841.2,781.0 844.4,778.9 846.6,777.4C848.8,775.9 853.4,774.1 856.5,773.3C859.6,772.6 865.2,773.5 867.2,772.5C869.2,771.5 869.9,768.3 869.7,766.7C869.4,765.1 866.3,763.5 865.5,761.8C864.8,760.0 864.2,757.0 864.7,755.2C865.2,753.3 868.5,751.5 868.8,749.4C869.2,747.3 867.6,744.2 867.2,741.2C866.8,738.2 865.7,731.9 866.4,729.7C867.0,727.4 869.1,726.7 871.3,726.0C873.5,725.3 878.8,725.0 881.2,725.0C883.5,725.1 885.8,727.3 887.0,726.4C888.1,725.4 887.6,721.0 888.6,718.9C889.6,716.8 891.4,713.8 893.5,712.4C895.6,710.9 899.5,709.8 902.6,709.6C905.7,709.3 911.2,710.8 914.1,710.7C917.1,710.6 920.8,708.8 922.4,709.1C924.0,709.3 924.5,711.0 924.8,712.4C925.2,713.7 924.3,716.5 924.8,718.1C925.3,719.7 927.0,723.1 928.1,723.1C929.3,723.0 930.2,718.9 932.3,717.8C934.4,716.7 939.2,716.1 942.1,716.0C945.1,715.9 949.1,716.4 952.0,717.0C955.0,717.5 959.2,719.6 961.9,719.4C964.6,719.3 968.0,716.3 970.1,716.0C972.2,715.7 974.4,716.2 975.9,717.3C977.4,718.4 979.0,721.2 980.0,723.1C981.0,724.9 980.8,728.3 982.5,729.7C984.2,731.0 988.8,730.9 991.6,732.1C994.3,733.3 998.5,735.7 1000.6,737.6C1002.7,739.4 1005.0,742.2 1005.6,744.5C1006.2,746.8 1003.9,751.0 1004.7,752.7C1005.6,754.4 1009.2,755.0 1011.3,756.0C1013.4,757.0 1017.0,757.6 1018.7,759.3C1020.5,761.0 1021.9,765.1 1022.9,767.5C1023.9,770.0 1025.2,773.3 1025.3,775.8C1025.5,778.3 1024.8,781.9 1023.7,784.0C1022.6,786.1 1019.7,788.4 1017.9,789.8C1016.2,791.1 1012.5,791.8 1012.2,793.1C1011.8,794.3 1015.2,796.3 1015.5,798.0C1015.7,799.8 1015.0,803.1 1013.8,804.6C1012.6,806.1 1009.2,806.3 1007.2,807.9C1005.2,809.5 1000.3,814.1 1000.6,815.3C1001.0,816.6 1006.8,815.3 1009.7,816.1C1012.5,817.0 1017.1,819.4 1019.6,821.1C1022.0,822.8 1024.9,825.8 1026.2,827.7C1027.4,829.5 1028.1,831.8 1027.8,833.4C1027.6,835.0 1025.6,837.4 1024.5,838.4C1023.4,839.4 1021.3,839.0 1020.4,840.0C1019.5,841.0 1020.1,843.7 1018.7,845.0C1017.4,846.2 1013.8,847.4 1011.3,848.3C1008.9,849.1 1005.0,850.6 1002.3,850.7C999.6,850.9 995.6,849.5 993.2,849.1C990.9,848.7 987.2,847.2 986.6,848.3C986.0,849.4 989.0,853.8 989.1,856.5C989.2,859.2 988.4,863.7 987.4,866.4C986.5,869.1 984.1,872.8 982.5,874.6C980.9,876.5 978.3,878.1 976.7,878.7C975.1,879.4 973.0,879.5 971.8,878.7C970.6,878.0 969.4,875.4 968.5,873.8C967.6,872.2 966.9,868.3 966.0,868.0C965.2,867.8 964.0,871.0 962.7,872.2C961.5,873.3 959.2,875.9 957.8,875.9C956.4,875.9 954.9,873.6 953.7,872.2C952.4,870.7 950.5,868.2 949.6,866.4C948.6,864.5 948.2,860.4 947.1,859.8C946.0,859.2 944.4,861.9 942.1,862.3C939.9,862.6 934.1,863.4 932.3,862.3C930.4,861.2 930.4,856.1 929.8,854.9C929.2,853.6 928.5,853.3 928.1,854.0C927.8,854.8 928.4,857.9 927.3,859.8C926.2,861.7 923.2,864.5 920.7,866.4C918.3,868.2 913.8,871.0 910.8,872.2C907.9,873.3 904.2,873.8 901.0,873.8C897.7,873.8 892.4,873.3 889.4,872.2C886.5,871.0 883.5,868.4 881.2,866.4C878.8,864.4 875.5,861.1 873.8,859.0C872.0,856.9 870.6,853.5 869.7,852.4C868.7,851.3 868.7,851.8 867.2,851.6C865.7,851.3 861.9,851.4 859.8,850.7C857.7,850.1 854.9,848.4 853.2,847.4C851.5,846.5 849.1,846.3 848.6,844.6C848.1,843.0 849.1,838.9 849.9,836.7C850.7,834.6 852.3,831.8 854.0,830.1C855.7,828.5 859.8,827.3 861.4,826.0C863.0,824.8 863.4,823.3 864.7,821.9C866.1,820.6 870.5,818.2 870.5,817.0C870.5,815.7 866.4,814.9 864.7,813.7C863.0,812.4 860.1,810.3 858.9,808.7C857.8,807.1 857.4,804.2 857.3,803.0C857.2,801.7 859.2,802.1 858.1,800.5C857.0,798.9 852.4,794.9 849.9,792.3C847.4,789.7 842.1,785.4 841.6,783.2Z M1060.6,854.8C1061.7,855.0 1063.2,857.0 1063.6,858.5C1064.0,859.9 1063.9,862.5 1063.2,864.4C1062.6,866.3 1058.8,869.6 1059.3,871.0C1059.8,872.4 1064.4,872.8 1066.5,873.6C1068.6,874.4 1071.8,875.4 1073.1,876.2C1074.4,877.1 1075.2,878.4 1075.1,879.3C1075.0,880.2 1072.7,880.8 1072.2,882.2C1071.7,883.6 1070.9,887.8 1071.8,888.8C1072.7,889.7 1077.2,888.2 1078.4,888.5C1079.6,888.8 1080.2,889.3 1080.0,890.7C1079.8,892.2 1078.3,895.9 1077.1,898.0C1075.8,900.1 1073.6,903.0 1071.8,904.6C1070.0,906.2 1066.8,907.6 1065.2,908.5C1063.6,909.4 1060.9,909.8 1061.3,910.5C1061.6,911.2 1066.0,911.9 1067.8,913.1C1069.7,914.4 1072.8,917.4 1073.4,919.1C1074.0,920.8 1072.8,923.1 1071.8,924.3C1070.8,925.6 1066.3,926.8 1066.5,927.6C1066.7,928.5 1072.2,929.5 1073.1,930.3C1074.0,931.1 1073.4,932.2 1072.5,932.9C1071.5,933.6 1068.6,934.4 1066.5,934.9C1064.4,935.4 1060.1,935.0 1058.6,936.2C1057.1,937.4 1057.6,940.6 1056.6,942.8C1055.7,945.0 1053.5,948.9 1052.0,950.7C1050.5,952.5 1047.8,953.6 1046.8,954.7C1045.7,955.7 1044.9,956.6 1044.8,958.0C1044.7,959.3 1046.6,962.8 1046.1,963.9C1045.6,965.0 1043.0,964.7 1041.5,965.2C1040.0,965.7 1036.7,966.2 1036.2,967.2C1035.7,968.2 1038.4,970.2 1038.2,971.8C1038.0,973.4 1036.1,976.6 1034.9,977.7C1033.7,978.8 1031.9,979.3 1030.3,979.0C1028.7,978.7 1026.0,976.4 1024.3,975.7C1022.7,975.1 1019.6,973.5 1019.1,974.4C1018.6,975.3 1021.1,979.5 1021.1,981.7C1021.1,983.9 1019.9,987.6 1019.1,988.9C1018.3,990.2 1016.9,990.6 1015.8,990.2C1014.7,989.9 1012.9,986.5 1011.8,986.3C1010.7,986.1 1009.8,987.9 1008.5,988.9C1007.2,989.9 1004.8,992.6 1003.3,992.9C1001.7,993.2 999.6,991.7 998.0,990.9C996.4,990.1 994.5,988.4 992.7,987.6C990.9,986.8 987.2,985.3 986.1,985.6C985.0,985.9 986.3,988.7 985.5,989.6C984.7,990.5 981.9,990.6 980.9,991.6C979.8,992.6 979.1,996.0 978.2,996.2C977.3,996.4 975.9,992.8 974.9,992.9C973.9,993.0 972.4,995.9 971.6,996.8C970.8,997.7 970.3,999.6 969.7,998.8C969.0,998.0 967.8,991.7 967.0,991.6C966.2,991.5 965.6,997.1 964.4,998.2C963.2,999.2 960.1,1000.2 959.1,998.8C958.1,997.4 957.7,991.4 957.8,988.9C957.9,986.5 959.7,984.3 959.8,982.3C959.9,980.4 958.9,978.1 958.5,975.7C958.0,973.4 956.6,969.3 956.5,966.5C956.4,963.8 957.1,960.1 957.8,957.3C958.5,954.5 959.5,950.4 961.1,948.1C962.7,945.7 966.3,943.4 968.3,941.5C970.4,939.6 973.0,937.3 974.9,935.6C976.8,933.8 979.0,931.1 980.9,929.6C982.7,928.1 985.3,926.5 987.4,925.7C989.6,924.9 993.5,924.7 995.4,924.3C997.2,924.0 999.2,924.0 1000.0,923.0C1000.8,922.0 999.7,919.7 1000.6,917.8C1001.5,915.8 1004.7,912.0 1005.9,909.9C1007.1,907.7 1007.4,905.0 1008.5,903.3C1009.6,901.5 1012.4,899.6 1013.1,898.0C1013.9,896.4 1013.1,894.7 1013.8,892.7C1014.5,890.7 1016.7,887.2 1017.8,884.8C1018.8,882.4 1019.3,878.8 1021.1,876.9C1022.8,875.0 1027.0,874.1 1029.6,872.3C1032.3,870.5 1036.1,866.7 1038.8,865.0C1041.6,863.4 1045.5,862.3 1048.1,861.1C1050.6,859.9 1054.1,858.1 1056.0,857.1C1057.9,856.2 1059.4,854.6 1060.6,854.8Z" fill="#efefef" transform="translate(0,394.1)"/>
<rect x="820" y="1070" width="300" height="380" fill="#dca3c5" mask="url(#mrose)"/>
<rect x="820" y="1070" width="300" height="380" fill="#ec94b8" mask="url(#mpink)"/>
<g id="main">
<path d="M629.8,301.0C629.8,299.9 633.0,298.7 634.8,297.9C636.5,297.1 639.9,295.7 642.2,295.4C644.4,295.2 648.6,295.6 650.8,296.1C653.1,296.5 656.0,297.8 658.2,298.5C660.5,299.3 664.6,301.3 666.9,301.6C669.1,302.0 672.2,300.8 674.3,301.0C676.4,301.2 679.8,302.0 681.7,302.9C683.6,303.7 686.3,305.9 687.9,307.2C689.5,308.5 691.6,310.6 692.8,312.1C694.1,313.7 695.5,316.7 696.6,318.3C697.6,319.9 699.0,323.0 700.3,323.9C701.5,324.7 703.3,322.0 705.2,324.5C707.1,327.0 713.0,335.9 713.9,341.8C714.7,347.7 712.4,362.1 711.4,366.5C710.3,370.9 708.0,372.4 706.4,373.3C704.9,374.2 702.3,373.1 700.3,372.7C698.2,372.2 694.0,371.1 691.6,370.2C689.2,369.3 685.2,367.5 683.0,366.5C680.7,365.5 677.6,364.2 675.5,362.8C673.5,361.4 670.0,358.3 668.1,356.6C666.2,354.9 663.7,352.3 662.0,350.4C660.2,348.5 657.3,345.3 655.8,343.0C654.2,340.8 652.0,336.8 650.8,334.4C649.6,331.9 648.2,328.0 647.1,325.7C646.1,323.5 644.6,320.2 643.4,318.3C642.2,316.4 639.7,313.9 638.5,312.1C637.3,310.4 636.0,307.5 634.8,305.9C633.6,304.4 629.8,302.1 629.8,301.0Z" fill="#8fd5d3"/>
<path d="M634.8,297.9C635.7,296.8 639.9,295.7 642.2,295.4C644.4,295.2 648.6,295.5 650.8,296.1C653.1,296.6 656.7,297.9 658.2,299.2C659.8,300.4 661.1,303.1 662.0,304.7C662.8,306.4 664.6,309.9 664.4,310.9C664.3,311.9 661.9,312.5 660.7,312.1C659.5,311.8 657.2,309.3 655.8,308.4C654.4,307.6 652.2,306.5 650.8,305.9C649.4,305.4 646.8,304.4 645.9,304.7C645.0,305.1 644.3,307.0 644.7,308.4C645.0,309.8 647.0,313.0 648.4,314.6C649.7,316.2 652.6,318.5 654.5,319.5C656.4,320.6 660.4,321.3 662.0,322.0C663.5,322.7 666.0,324.1 665.7,324.5C665.3,324.9 661.4,325.3 659.5,325.1C657.6,324.9 654.0,324.0 652.1,323.2C650.2,322.5 647.4,320.8 645.9,319.5C644.3,318.3 642.2,316.2 640.9,314.6C639.7,313.0 638.0,310.0 637.2,308.4C636.5,306.9 635.7,304.9 635.4,303.5C635.0,302.0 633.8,299.0 634.8,297.9Z" fill="#0ba890"/>
<path d="M666.9,301.6C667.9,300.6 672.2,300.8 674.3,301.0C676.4,301.2 679.8,302.0 681.7,302.9C683.6,303.7 686.3,305.9 687.9,307.2C689.5,308.5 691.6,310.6 692.8,312.1C694.1,313.7 695.5,316.7 696.6,318.3C697.6,319.9 700.6,322.7 700.3,323.9C699.9,325.1 695.6,326.2 694.1,327.0C692.5,327.7 690.5,329.3 689.1,329.4C687.8,329.6 684.2,329.1 684.2,328.2C684.2,327.3 688.6,324.8 689.1,323.2C689.7,321.7 688.8,318.5 687.9,317.1C687.0,315.7 684.3,313.9 683.0,313.4C681.6,312.8 679.6,312.8 678.0,313.4C676.5,313.9 673.2,316.2 671.8,317.1C670.5,317.9 668.5,319.9 668.1,319.5C667.8,319.2 669.5,316.2 669.4,314.6C669.2,313.0 667.2,310.2 666.9,308.4C666.6,306.6 665.9,302.7 666.9,301.6Z" fill="#0ba890"/>
<path d="M652.1,335.6C652.2,335.3 655.5,339.2 657.0,340.5C658.6,341.9 661.5,344.3 663.2,345.5C664.9,346.7 667.5,348.4 669.4,349.2C671.3,350.0 674.7,351.0 676.8,351.0C678.9,351.1 682.5,349.9 684.2,349.8C685.9,349.7 689.1,349.8 689.1,350.4C689.1,351.0 685.4,353.1 684.2,354.1C683.0,355.2 680.1,356.8 680.5,357.8C680.8,358.9 684.8,360.5 686.7,361.6C688.6,362.6 692.0,364.6 694.1,365.3C696.2,366.0 699.8,365.4 701.5,366.5C703.2,367.6 706.6,372.4 706.4,373.3C706.3,374.2 702.3,373.1 700.3,372.7C698.2,372.2 694.0,371.1 691.6,370.2C689.2,369.3 685.2,367.5 683.0,366.5C680.7,365.5 677.6,364.2 675.5,362.8C673.5,361.4 670.0,358.3 668.1,356.6C666.2,354.9 663.7,352.3 662.0,350.4C660.2,348.5 657.2,345.1 655.8,343.0C654.4,340.9 651.9,335.9 652.1,335.6Z" fill="#0ba890"/>
<path d="M629.8,301.0C629.7,299.9 633.2,299.1 634.8,298.5C636.3,298.0 639.4,297.0 640.9,297.3C642.5,297.6 644.7,299.6 645.9,300.4C647.1,301.2 649.8,302.4 649.6,302.9C649.4,303.3 645.6,302.9 644.7,303.5C643.7,304.1 642.7,306.0 642.8,307.2C642.9,308.4 644.3,310.7 645.3,312.1C646.2,313.5 648.5,315.9 649.6,317.1C650.7,318.3 653.5,320.3 653.3,320.8C653.1,321.3 649.7,321.3 648.4,320.8C647.0,320.3 644.7,318.3 643.4,317.1C642.1,315.9 640.2,313.6 639.1,312.1C638.0,310.7 636.7,308.1 635.4,306.6C634.1,305.0 629.9,302.1 629.8,301.0Z" fill="#2f5e6d"/>
<path d="M671.8,319.5C672.5,318.7 677.0,316.7 678.0,315.8C679.1,315.0 678.5,313.4 679.3,313.4C680.0,313.3 682.4,314.4 683.6,315.2C684.8,316.1 687.0,318.1 687.9,319.5C688.9,321.0 690.4,324.3 690.4,325.7C690.4,327.1 688.9,329.2 687.9,329.4C686.9,329.7 684.3,328.3 683.0,327.6C681.6,326.9 679.4,325.3 678.0,324.5C676.6,323.7 673.9,322.7 673.1,322.0C672.2,321.3 671.1,320.4 671.8,319.5Z" fill="#2f5e6d"/>
<path d="M651.5,335.0C651.8,334.8 654.5,337.1 655.8,338.1C657.1,339.0 659.2,340.7 660.7,341.8C662.3,342.8 665.6,344.6 666.9,345.5C668.2,346.4 670.0,347.3 670.0,348.0C670.0,348.7 668.0,350.3 666.9,350.4C665.8,350.6 663.3,350.1 662.0,349.2C660.6,348.3 658.2,345.6 657.0,344.3C655.8,342.9 654.1,340.6 653.3,339.3C652.5,338.0 651.1,335.2 651.5,335.0Z" fill="#2f5e6d"/>
<path d="M621.2,412.8C621.2,412.0 624.7,408.0 626.1,406.0C627.5,404.0 630.0,400.5 631.1,398.6C632.1,396.7 632.7,394.2 633.5,392.4C634.4,390.7 635.9,387.8 637.2,386.3C638.6,384.7 641.5,382.5 643.4,381.3C645.3,380.1 648.8,378.7 650.8,377.6C652.9,376.6 656.0,374.6 658.2,373.9C660.5,373.2 664.5,372.7 666.9,372.7C669.3,372.7 673.3,373.4 675.5,373.9C677.8,374.4 680.9,375.5 683.0,376.4C685.0,377.2 688.8,379.2 690.4,380.1C691.9,381.0 693.9,381.0 694.1,382.6C694.3,384.1 692.3,389.3 691.6,391.2C690.9,393.1 690.5,395.1 689.1,396.1C687.8,397.2 683.8,398.1 681.7,398.6C679.6,399.1 676.4,399.3 674.3,399.9C672.2,400.4 669.0,401.8 666.9,402.3C664.8,402.8 661.4,403.0 659.5,403.6C657.6,404.1 655.2,405.3 653.3,406.0C651.4,406.7 648.0,408.2 645.9,408.5C643.8,408.9 640.6,408.3 638.5,408.5C636.4,408.7 632.8,409.2 631.1,409.7C629.3,410.3 627.5,411.8 626.1,412.2C624.7,412.6 621.2,413.7 621.2,412.8Z" fill="#0ba890"/>
<path d="M632.3,393.7C632.6,392.5 635.7,387.7 637.2,386.3C638.8,384.8 641.9,383.3 643.4,383.2C645.0,383.0 648.4,384.4 648.4,385.0C648.4,385.6 644.8,386.8 643.4,387.5C642.0,388.2 639.7,388.9 638.5,390.0C637.3,391.0 635.6,394.4 634.8,394.9C633.9,395.4 632.0,394.9 632.3,393.7Z" fill="#2f5e6d"/>
<path d="M675.5,373.9C676.4,373.7 680.9,375.5 683.0,376.4C685.0,377.2 688.8,379.2 690.4,380.1C691.9,381.0 694.1,381.5 694.1,382.6C694.1,383.6 691.4,387.3 690.4,387.5C689.3,387.7 687.9,384.8 686.7,383.8C685.5,382.8 683.1,381.0 681.7,380.1C680.3,379.2 677.6,378.5 676.8,377.6C675.9,376.8 674.7,374.1 675.5,373.9Z" fill="#2f5e6d"/>
<path d="M653.3,390.0C653.8,389.3 658.6,389.3 660.7,388.7C662.8,388.2 665.9,386.4 668.1,386.3C670.4,386.1 674.5,387.0 676.8,387.5C679.0,388.0 682.5,389.5 684.2,390.0C685.9,390.5 688.4,390.3 689.1,391.2C689.8,392.1 690.2,395.1 689.1,396.1C688.1,397.2 683.8,398.1 681.7,398.6C679.6,399.1 676.4,399.6 674.3,399.9C672.2,400.1 668.6,400.8 666.9,400.5C665.2,400.1 663.3,398.3 662.0,397.4C660.6,396.4 658.2,394.7 657.0,393.7C655.8,392.6 652.8,390.7 653.3,390.0Z" fill="#2f5e6d"/>
<path d="M631.1,408.5C631.1,407.7 635.7,404.6 637.2,403.6C638.8,402.5 640.3,401.4 642.2,401.1C644.1,400.8 648.9,401.4 650.8,401.7C652.7,402.1 655.9,403.0 655.8,403.6C655.6,404.2 651.3,405.3 649.6,406.0C647.9,406.7 645.1,408.1 643.4,408.5C641.7,408.9 639.0,409.1 637.2,409.1C635.5,409.1 631.1,409.3 631.1,408.5Z" fill="#2f5e6d"/>
<path d="M736.5,425.9C736.9,427.0 738.7,429.9 739.0,432.1C739.2,434.4 738.6,437.2 738.0,439.5C737.4,441.9 735.7,445.2 735.3,446.3" fill="none" stroke="#0ba890" stroke-width="3.2" stroke-linecap="round"/>
<path d="M755.6,422.2C755.4,423.5 755.2,427.0 754.4,429.7C753.6,432.3 752.0,435.5 750.7,438.3C749.4,441.1 747.1,445.0 746.4,446.3" fill="none" stroke="#0ba890" stroke-width="3.2" stroke-linecap="round"/>
<path d="M735.6,426.6C735.9,427.5 737.3,430.2 737.5,432.4C737.6,434.5 737.0,437.3 736.5,439.5C736.0,441.8 734.6,444.9 734.3,446.0" fill="none" stroke="#8fd5d3" stroke-width="1.2" stroke-linecap="round"/>
<path d="M754.4,422.9C754.1,424.1 753.6,427.7 752.8,430.3C752.0,432.8 750.7,435.7 749.5,438.3C748.2,440.9 746.1,444.7 745.4,446.0" fill="none" stroke="#8fd5d3" stroke-width="1.2" stroke-linecap="round"/>
<path d="M671.0,419.8C671.2,418.7 675.1,416.0 677.2,414.8C679.3,413.6 683.2,411.9 685.8,411.1C688.4,410.3 693.0,409.4 695.7,409.3C698.5,409.1 703.2,409.5 705.6,409.9C708.0,410.3 711.3,411.3 713.0,412.4C714.7,413.4 716.4,415.9 718.0,417.3C719.5,418.7 722.4,421.2 724.1,422.2C725.9,423.3 728.8,424.3 730.3,424.7C731.9,425.1 734.4,424.5 735.3,425.3C736.1,426.2 736.5,429.8 736.5,430.9C736.5,432.0 736.3,433.5 735.3,433.4C734.2,433.2 730.6,429.8 729.1,429.7C727.5,429.5 725.5,431.3 724.1,432.1C722.8,433.0 720.8,435.0 719.2,435.8C717.6,436.7 714.9,438.0 713.0,438.3C711.1,438.7 707.7,438.5 705.6,438.3C703.5,438.1 700.1,437.6 698.2,437.1C696.3,436.6 693.7,435.5 692.0,434.6C690.3,433.7 687.4,432.1 685.8,430.9C684.3,429.7 682.3,427.2 680.9,425.9C679.5,424.7 677.3,423.1 675.9,422.2C674.6,421.4 670.8,420.8 671.0,419.8Z" fill="#2f5e6d"/>
<path d="M685.8,412.4C687.0,411.7 693.0,410.1 695.7,409.9C698.5,409.6 703.2,410.1 705.6,410.5C708.0,410.9 711.6,412.1 713.0,413.0C714.4,413.8 715.8,415.9 715.5,416.7C715.1,417.5 711.8,418.7 710.5,418.5C709.3,418.4 708.4,415.8 706.8,415.4C705.3,415.1 701.5,416.0 699.4,416.1C697.3,416.1 693.7,416.2 692.0,416.1C690.3,415.9 687.9,415.3 687.1,414.8C686.2,414.3 684.6,413.0 685.8,412.4Z" fill="#0ba890"/>
<path d="M685.8,430.9C685.8,431.2 690.3,433.7 692.0,434.6C693.7,435.5 696.5,436.6 698.2,437.1C699.9,437.5 704.2,437.9 704.4,437.7C704.5,437.4 701.2,436.0 699.4,435.2C697.7,434.5 693.9,433.0 692.0,432.4C690.1,431.8 685.8,430.6 685.8,430.9Z" fill="#0ba890"/>
<path d="M697.0,437.1C698.1,436.6 702.3,436.7 704.4,437.1C706.4,437.4 710.1,438.5 711.8,439.5C713.5,440.6 715.3,443.1 716.7,444.5C718.1,445.9 719.9,448.7 721.7,449.4C723.4,450.1 727.0,449.9 729.1,449.4C731.2,449.0 734.6,446.7 736.5,446.3C738.4,446.0 741.1,446.3 742.7,447.0C744.2,447.6 746.4,449.1 747.6,450.7C748.8,452.2 750.5,455.8 751.3,458.1C752.2,460.3 753.4,464.5 753.8,466.7C754.1,469.0 754.1,472.1 753.8,474.1C753.4,476.2 752.0,479.5 751.3,481.6C750.6,483.6 749.5,486.7 748.9,489.0C748.2,491.2 747.4,495.4 746.4,497.6C745.3,499.9 743.0,503.3 741.4,505.0C739.9,506.8 737.2,508.8 735.3,510.0C733.4,511.2 729.9,512.6 727.8,513.7C725.8,514.7 722.7,516.2 720.4,517.4C718.2,518.6 714.0,520.8 711.8,522.3C709.5,523.9 706.3,527.1 704.4,528.5C702.5,529.9 699.7,531.5 698.2,532.2C696.6,532.9 693.8,534.3 693.2,533.4C692.7,532.6 694.4,528.3 694.5,526.0C694.6,523.8 694.1,519.8 693.9,517.4C693.6,515.0 693.1,511.3 692.6,508.7C692.2,506.1 690.9,501.6 690.8,498.9C690.6,496.1 691.0,491.7 691.4,489.0C691.7,486.2 692.8,481.8 693.2,479.1C693.7,476.3 694.1,471.6 694.5,469.2C694.9,466.8 695.9,463.9 696.3,461.8C696.8,459.7 697.6,456.4 697.6,454.4C697.6,452.3 696.5,448.9 696.3,447.0C696.2,445.1 696.2,442.2 696.3,440.8C696.4,439.4 695.8,437.6 697.0,437.1Z" fill="#0ba890"/>
<path d="M693.2,533.4C692.7,532.2 694.2,526.3 694.5,523.6C694.7,520.8 694.8,516.1 695.1,513.7C695.4,511.3 696.0,508.0 697.0,506.3C697.9,504.5 700.3,502.4 701.9,501.3C703.5,500.3 706.3,499.7 708.1,498.9C709.8,498.0 712.9,495.5 714.3,495.1C715.6,494.8 718.0,495.3 718.0,496.4C718.0,497.4 715.3,500.8 714.3,502.6C713.2,504.3 711.2,507.4 710.5,508.7C709.9,510.1 708.8,512.6 709.3,512.4C709.8,512.3 712.9,509.4 714.3,507.5C715.6,505.6 718.0,501.3 719.2,498.9C720.4,496.4 722.0,492.3 722.9,490.2C723.8,488.1 724.5,485.4 725.4,484.0C726.2,482.6 728.2,480.0 729.1,480.3C729.9,480.7 730.9,484.6 731.6,486.5C732.2,488.4 733.5,491.8 734.0,493.9C734.5,496.0 734.6,501.0 735.3,501.3C736.0,501.7 737.8,498.5 739.0,496.4C740.2,494.3 742.9,488.9 743.9,486.5C744.9,484.1 745.9,481.2 746.4,479.1C746.9,477.0 747.1,471.7 747.6,471.7C748.1,471.7 749.9,476.7 750.1,479.1C750.3,481.5 749.4,486.4 748.9,489.0C748.3,491.6 747.4,495.4 746.4,497.6C745.3,499.9 743.0,503.3 741.4,505.0C739.9,506.8 737.2,508.8 735.3,510.0C733.4,511.2 729.9,512.6 727.8,513.7C725.8,514.7 722.7,516.2 720.4,517.4C718.2,518.6 714.0,520.8 711.8,522.3C709.5,523.9 706.3,527.1 704.4,528.5C702.5,529.9 699.7,531.5 698.2,532.2C696.6,532.9 693.8,534.7 693.2,533.4Z" fill="#8fd5d3"/>
<path d="M693.2,503.8C693.4,501.9 694.9,497.4 695.7,495.1C696.6,492.9 698.0,489.5 699.4,487.7C700.8,486.0 703.7,484.0 705.6,482.8C707.5,481.6 710.9,480.1 713.0,479.1C715.1,478.0 718.7,476.4 720.4,475.4C722.2,474.3 724.9,471.5 725.4,471.7C725.9,471.8 725.2,475.4 724.1,476.6C723.1,477.8 719.9,479.3 718.0,480.3C716.1,481.4 712.4,482.8 710.5,484.0C708.6,485.2 705.9,487.4 704.4,489.0C702.8,490.5 700.5,493.2 699.4,495.1C698.3,497.0 697.0,500.7 696.3,502.6C695.6,504.5 694.9,508.6 694.5,508.7C694.1,508.9 693.1,505.7 693.2,503.8Z" fill="#8fd5d3"/>
<path d="M716.7,450.7C716.9,450.0 720.3,449.3 721.7,449.4C723.1,449.6 725.2,451.2 726.6,451.9C728.0,452.6 730.2,453.7 731.6,454.4C732.9,455.1 736.1,456.1 736.5,456.8C736.8,457.5 733.7,457.9 734.0,459.3C734.4,460.7 737.9,464.6 739.0,466.7C740.0,468.8 741.4,472.8 741.4,474.1C741.4,475.5 739.1,475.2 739.0,476.6C738.8,478.0 740.4,482.3 740.2,484.0C740.0,485.8 738.4,487.2 737.7,489.0C737.0,490.7 735.8,494.6 735.3,496.4C734.7,498.1 734.4,501.8 734.0,501.3C733.7,500.8 733.3,494.9 732.8,492.7C732.3,490.4 731.0,487.2 730.3,485.3C729.6,483.4 728.5,479.1 727.8,479.1C727.2,479.1 725.9,485.3 725.4,485.3C724.9,485.3 724.1,481.2 724.1,479.1C724.1,477.0 725.4,472.5 725.4,470.4C725.4,468.4 724.5,464.4 724.1,464.3C723.8,464.1 722.9,469.9 722.9,469.2C722.9,468.5 724.5,461.4 724.1,459.3C723.8,457.2 721.5,455.6 720.4,454.4C719.4,453.2 716.6,451.4 716.7,450.7Z" fill="#2f5e6d"/>
<path d="M709.3,511.2C709.7,510.1 712.0,506.9 713.0,505.0C714.1,503.1 715.9,498.8 716.7,497.6C717.5,496.4 718.6,495.5 718.6,496.4C718.6,497.2 717.5,501.9 716.7,503.8C715.9,505.7 714.0,508.7 713.0,510.0C712.1,511.3 710.4,512.9 709.9,513.1C709.4,513.2 708.9,512.3 709.3,511.2Z" fill="#2f5e6d"/>
<path d="M747.6,489.0C748.3,486.5 749.6,482.9 750.1,481.6C750.6,480.2 751.2,478.4 751.3,479.1C751.4,479.8 751.2,484.2 750.7,486.5C750.2,488.7 748.4,493.4 747.6,495.1C746.8,496.9 745.1,499.7 745.1,498.9C745.1,498.0 746.9,491.4 747.6,489.0Z" fill="#2f5e6d"/>
<path d="M753.8,474.0C754.8,473.1 758.1,473.2 759.8,473.5C761.4,473.7 764.3,474.9 765.7,475.9C767.1,477.0 768.5,479.2 769.7,480.9C770.8,482.5 772.2,486.0 773.6,487.8C775.0,489.6 777.3,492.1 779.5,493.7C781.8,495.4 786.7,497.4 789.4,499.7C792.2,501.9 796.5,505.4 799.3,509.5C802.1,513.7 806.1,524.3 809.2,529.3C812.2,534.3 819.2,542.4 821.1,545.1C822.9,547.9 822.4,547.8 822.5,549.1C822.7,550.3 822.4,552.5 822.0,554.0C821.7,555.5 820.5,558.1 820.1,559.9C819.6,561.7 819.5,564.9 819.1,566.9C818.7,568.8 817.9,571.8 817.1,573.8C816.3,575.7 814.1,579.1 813.1,580.7C812.2,582.3 811.0,585.3 810.2,585.2C809.3,585.0 808.2,581.4 807.2,579.7C806.2,578.0 804.4,574.6 803.3,572.8C802.2,571.0 800.8,568.5 799.3,566.9C797.8,565.2 794.2,562.6 792.4,560.9C790.6,559.3 787.8,556.8 786.5,555.0C785.1,553.2 783.3,550.0 782.5,548.1C781.7,546.1 781.0,543.1 780.5,541.2C780.0,539.2 780.6,537.0 779.0,534.2C777.5,531.5 771.7,524.2 769.7,521.4C767.6,518.6 765.7,516.1 764.7,514.5C763.7,512.8 762.9,511.1 762.7,509.5C762.5,508.0 763.2,505.1 763.2,503.6C763.2,502.1 763.4,500.2 762.7,498.7C762.1,497.1 759.9,494.5 758.8,492.7C757.7,490.9 755.7,487.6 754.8,485.8C754.0,484.0 753.0,481.5 752.8,479.9C752.7,478.2 752.9,474.9 753.8,474.0Z" fill="#2f5e6d"/>
<path d="M800.3,567.9C800.4,567.6 803.1,569.7 804.2,570.8C805.4,571.9 807.4,574.5 808.2,575.8C809.0,577.0 809.5,579.6 810.2,579.7C810.9,579.9 812.7,578.0 813.1,576.8C813.6,575.5 813.6,572.5 813.6,570.8C813.6,569.2 813.5,566.6 813.1,564.9C812.8,563.2 811.5,560.5 811.2,559.0C810.8,557.4 810.4,554.6 810.7,554.0C810.9,553.5 812.4,554.3 813.1,555.0C813.9,555.7 815.4,557.7 816.1,559.0C816.8,560.2 817.7,562.8 818.1,563.9C818.5,565.0 819.2,565.5 819.1,566.9C818.9,568.3 817.9,571.8 817.1,573.8C816.3,575.7 814.1,579.1 813.1,580.7C812.2,582.3 811.0,585.3 810.2,585.2C809.3,585.0 808.2,581.4 807.2,579.7C806.2,578.0 804.2,574.5 803.3,572.8C802.3,571.1 800.2,568.1 800.3,567.9Z" fill="#0ba890"/>
<path d="M753.8,474.0C753.4,474.5 752.7,478.2 752.8,479.9C753.0,481.5 754.0,484.0 754.8,485.8C755.7,487.6 757.7,491.1 758.8,492.7C759.9,494.4 761.9,497.3 762.7,497.7C763.6,498.1 764.8,496.5 764.7,495.7C764.6,494.9 762.6,493.0 761.7,491.7C760.9,490.5 759.5,488.3 758.8,486.8C758.1,485.3 757.2,482.4 756.8,480.9C756.4,479.4 756.2,476.9 755.8,475.9C755.4,475.0 754.3,473.4 753.8,474.0Z" fill="#0ba890"/>
<path d="M754.8,475.9C755.7,476.6 758.0,478.1 759.8,479.9C761.6,481.7 763.9,484.5 765.7,486.8C767.5,489.1 769.2,491.9 770.6,493.7C772.0,495.5 773.5,497.0 774.1,497.7" fill="none" stroke="#0ba890" stroke-width="1.5" stroke-linecap="round"/>
<path d="M841.6,783.2C841.2,781.0 844.4,778.9 846.6,777.4C848.8,775.9 853.4,774.1 856.5,773.3C859.6,772.6 865.2,773.5 867.2,772.5C869.2,771.5 869.9,768.3 869.7,766.7C869.4,765.1 866.3,763.5 865.5,761.8C864.8,760.0 864.2,757.0 864.7,755.2C865.2,753.3 868.5,751.5 868.8,749.4C869.2,747.3 867.6,744.2 867.2,741.2C866.8,738.2 865.7,731.9 866.4,729.7C867.0,727.4 869.1,726.7 871.3,726.0C873.5,725.3 878.8,725.0 881.2,725.0C883.5,725.1 885.8,727.3 887.0,726.4C888.1,725.4 887.6,721.0 888.6,718.9C889.6,716.8 891.4,713.8 893.5,712.4C895.6,710.9 899.5,709.8 902.6,709.6C905.7,709.3 911.2,710.8 914.1,710.7C917.1,710.6 920.8,708.8 922.4,709.1C924.0,709.3 924.5,711.0 924.8,712.4C925.2,713.7 924.3,716.5 924.8,718.1C925.3,719.7 927.0,723.1 928.1,723.1C929.3,723.0 930.2,718.9 932.3,717.8C934.4,716.7 939.2,716.1 942.1,716.0C945.1,715.9 949.1,716.4 952.0,717.0C955.0,717.5 959.2,719.6 961.9,719.4C964.6,719.3 968.0,716.3 970.1,716.0C972.2,715.7 974.4,716.2 975.9,717.3C977.4,718.4 979.0,721.2 980.0,723.1C981.0,724.9 980.8,728.3 982.5,729.7C984.2,731.0 988.8,730.9 991.6,732.1C994.3,733.3 998.5,735.7 1000.6,737.6C1002.7,739.4 1005.0,742.2 1005.6,744.5C1006.2,746.8 1003.9,751.0 1004.7,752.7C1005.6,754.4 1009.2,755.0 1011.3,756.0C1013.4,757.0 1017.0,757.6 1018.7,759.3C1020.5,761.0 1021.9,765.1 1022.9,767.5C1023.9,770.0 1025.2,773.3 1025.3,775.8C1025.5,778.3 1024.8,781.9 1023.7,784.0C1022.6,786.1 1019.7,788.4 1017.9,789.8C1016.2,791.1 1012.5,791.8 1012.2,793.1C1011.8,794.3 1015.2,796.3 1015.5,798.0C1015.7,799.8 1015.0,803.1 1013.8,804.6C1012.6,806.1 1009.2,806.3 1007.2,807.9C1005.2,809.5 1000.3,814.1 1000.6,815.3C1001.0,816.6 1006.8,815.3 1009.7,816.1C1012.5,817.0 1017.1,819.4 1019.6,821.1C1022.0,822.8 1024.9,825.8 1026.2,827.7C1027.4,829.5 1028.1,831.8 1027.8,833.4C1027.6,835.0 1025.6,837.4 1024.5,838.4C1023.4,839.4 1021.3,839.0 1020.4,840.0C1019.5,841.0 1020.1,843.7 1018.7,845.0C1017.4,846.2 1013.8,847.4 1011.3,848.3C1008.9,849.1 1005.0,850.6 1002.3,850.7C999.6,850.9 995.6,849.5 993.2,849.1C990.9,848.7 987.2,847.2 986.6,848.3C986.0,849.4 989.0,853.8 989.1,856.5C989.2,859.2 988.4,863.7 987.4,866.4C986.5,869.1 984.1,872.8 982.5,874.6C980.9,876.5 978.3,878.1 976.7,878.7C975.1,879.4 973.0,879.5 971.8,878.7C970.6,878.0 969.4,875.4 968.5,873.8C967.6,872.2 966.9,868.3 966.0,868.0C965.2,867.8 964.0,871.0 962.7,872.2C961.5,873.3 959.2,875.9 957.8,875.9C956.4,875.9 954.9,873.6 953.7,872.2C952.4,870.7 950.5,868.2 949.6,866.4C948.6,864.5 948.2,860.4 947.1,859.8C946.0,859.2 944.4,861.9 942.1,862.3C939.9,862.6 934.1,863.4 932.3,862.3C930.4,861.2 930.4,856.1 929.8,854.9C929.2,853.6 928.5,853.3 928.1,854.0C927.8,854.8 928.4,857.9 927.3,859.8C926.2,861.7 923.2,864.5 920.7,866.4C918.3,868.2 913.8,871.0 910.8,872.2C907.9,873.3 904.2,873.8 901.0,873.8C897.7,873.8 892.4,873.3 889.4,872.2C886.5,871.0 883.5,868.4 881.2,866.4C878.8,864.4 875.5,861.1 873.8,859.0C872.0,856.9 870.6,853.5 869.7,852.4C868.7,851.3 868.7,851.8 867.2,851.6C865.7,851.3 861.9,851.4 859.8,850.7C857.7,850.1 854.9,848.4 853.2,847.4C851.5,846.5 849.1,846.3 848.6,844.6C848.1,843.0 849.1,838.9 849.9,836.7C850.7,834.6 852.3,831.8 854.0,830.1C855.7,828.5 859.8,827.3 861.4,826.0C863.0,824.8 863.4,823.3 864.7,821.9C866.1,820.6 870.5,818.2 870.5,817.0C870.5,815.7 866.4,814.9 864.7,813.7C863.0,812.4 860.1,810.3 858.9,808.7C857.8,807.1 857.4,804.2 857.3,803.0C857.2,801.7 859.2,802.1 858.1,800.5C857.0,798.9 852.4,794.9 849.9,792.3C847.4,789.7 842.1,785.4 841.6,783.2Z M1060.6,854.8C1061.7,855.0 1063.2,857.0 1063.6,858.5C1064.0,859.9 1063.9,862.5 1063.2,864.4C1062.6,866.3 1058.8,869.6 1059.3,871.0C1059.8,872.4 1064.4,872.8 1066.5,873.6C1068.6,874.4 1071.8,875.4 1073.1,876.2C1074.4,877.1 1075.2,878.4 1075.1,879.3C1075.0,880.2 1072.7,880.8 1072.2,882.2C1071.7,883.6 1070.9,887.8 1071.8,888.8C1072.7,889.7 1077.2,888.2 1078.4,888.5C1079.6,888.8 1080.2,889.3 1080.0,890.7C1079.8,892.2 1078.3,895.9 1077.1,898.0C1075.8,900.1 1073.6,903.0 1071.8,904.6C1070.0,906.2 1066.8,907.6 1065.2,908.5C1063.6,909.4 1060.9,909.8 1061.3,910.5C1061.6,911.2 1066.0,911.9 1067.8,913.1C1069.7,914.4 1072.8,917.4 1073.4,919.1C1074.0,920.8 1072.8,923.1 1071.8,924.3C1070.8,925.6 1066.3,926.8 1066.5,927.6C1066.7,928.5 1072.2,929.5 1073.1,930.3C1074.0,931.1 1073.4,932.2 1072.5,932.9C1071.5,933.6 1068.6,934.4 1066.5,934.9C1064.4,935.4 1060.1,935.0 1058.6,936.2C1057.1,937.4 1057.6,940.6 1056.6,942.8C1055.7,945.0 1053.5,948.9 1052.0,950.7C1050.5,952.5 1047.8,953.6 1046.8,954.7C1045.7,955.7 1044.9,956.6 1044.8,958.0C1044.7,959.3 1046.6,962.8 1046.1,963.9C1045.6,965.0 1043.0,964.7 1041.5,965.2C1040.0,965.7 1036.7,966.2 1036.2,967.2C1035.7,968.2 1038.4,970.2 1038.2,971.8C1038.0,973.4 1036.1,976.6 1034.9,977.7C1033.7,978.8 1031.9,979.3 1030.3,979.0C1028.7,978.7 1026.0,976.4 1024.3,975.7C1022.7,975.1 1019.6,973.5 1019.1,974.4C1018.6,975.3 1021.1,979.5 1021.1,981.7C1021.1,983.9 1019.9,987.6 1019.1,988.9C1018.3,990.2 1016.9,990.6 1015.8,990.2C1014.7,989.9 1012.9,986.5 1011.8,986.3C1010.7,986.1 1009.8,987.9 1008.5,988.9C1007.2,989.9 1004.8,992.6 1003.3,992.9C1001.7,993.2 999.6,991.7 998.0,990.9C996.4,990.1 994.5,988.4 992.7,987.6C990.9,986.8 987.2,985.3 986.1,985.6C985.0,985.9 986.3,988.7 985.5,989.6C984.7,990.5 981.9,990.6 980.9,991.6C979.8,992.6 979.1,996.0 978.2,996.2C977.3,996.4 975.9,992.8 974.9,992.9C973.9,993.0 972.4,995.9 971.6,996.8C970.8,997.7 970.3,999.6 969.7,998.8C969.0,998.0 967.8,991.7 967.0,991.6C966.2,991.5 965.6,997.1 964.4,998.2C963.2,999.2 960.1,1000.2 959.1,998.8C958.1,997.4 957.7,991.4 957.8,988.9C957.9,986.5 959.7,984.3 959.8,982.3C959.9,980.4 958.9,978.1 958.5,975.7C958.0,973.4 956.6,969.3 956.5,966.5C956.4,963.8 957.1,960.1 957.8,957.3C958.5,954.5 959.5,950.4 961.1,948.1C962.7,945.7 966.3,943.4 968.3,941.5C970.4,939.6 973.0,937.3 974.9,935.6C976.8,933.8 979.0,931.1 980.9,929.6C982.7,928.1 985.3,926.5 987.4,925.7C989.6,924.9 993.5,924.7 995.4,924.3C997.2,924.0 999.2,924.0 1000.0,923.0C1000.8,922.0 999.7,919.7 1000.6,917.8C1001.5,915.8 1004.7,912.0 1005.9,909.9C1007.1,907.7 1007.4,905.0 1008.5,903.3C1009.6,901.5 1012.4,899.6 1013.1,898.0C1013.9,896.4 1013.1,894.7 1013.8,892.7C1014.5,890.7 1016.7,887.2 1017.8,884.8C1018.8,882.4 1019.3,878.8 1021.1,876.9C1022.8,875.0 1027.0,874.1 1029.6,872.3C1032.3,870.5 1036.1,866.7 1038.8,865.0C1041.6,863.4 1045.5,862.3 1048.1,861.1C1050.6,859.9 1054.1,858.1 1056.0,857.1C1057.9,856.2 1059.4,854.6 1060.6,854.8Z" fill="#f0d6e5" transform="translate(-160.8,-449.4)"/>
<g transform="translate(-160.8,-843.5)"><rect x="820" y="1070" width="300" height="380" fill="#dfa5c7" mask="url(#mrose)"/><rect x="820" y="1070" width="300" height="380" fill="#ec94b8" mask="url(#mpink)"/></g>
<path d="M932.4,1113.6C933.2,1112.4 934.0,1113.4 935.0,1113.2C935.9,1113.0 937.9,1112.7 939.1,1112.4C940.3,1112.0 942.1,1110.7 943.2,1110.7C944.4,1110.7 946.2,1112.3 947.3,1112.4C948.5,1112.4 950.2,1111.2 951.5,1111.1C952.7,1111.0 954.9,1111.1 956.4,1111.5C957.9,1111.9 960.8,1113.9 962.2,1114.0C963.6,1114.1 965.0,1112.4 966.3,1111.9C967.6,1111.5 970.1,1110.8 971.2,1110.7C972.4,1110.7 973.7,1111.0 974.5,1111.5C975.3,1112.1 976.1,1113.8 977.0,1114.8C977.9,1115.9 980.3,1117.7 981.1,1118.9C981.9,1120.2 981.8,1123.0 982.8,1123.9C983.7,1124.8 986.1,1125.0 987.7,1125.5C989.3,1126.1 992.7,1127.1 994.3,1128.0C995.9,1128.9 998.0,1131.0 999.2,1132.1C1000.5,1133.3 1002.4,1135.0 1003.4,1136.2C1004.3,1137.5 1005.6,1139.8 1005.8,1141.2C1006.1,1142.6 1004.8,1145.0 1005.0,1146.1C1005.2,1147.3 1006.3,1148.7 1007.5,1149.4C1008.6,1150.1 1011.7,1150.4 1013.2,1151.1C1014.7,1151.8 1017.0,1153.1 1018.2,1154.4C1019.3,1155.6 1020.6,1158.5 1021.5,1160.1C1022.4,1161.7 1024.2,1164.2 1024.8,1165.9C1025.3,1167.6 1025.7,1170.9 1025.6,1172.5C1025.5,1174.1 1024.6,1176.2 1023.9,1177.4C1023.3,1178.7 1021.8,1180.6 1021.0,1181.5C1020.2,1182.5 1019.3,1183.3 1018.1,1184.0C1016.9,1184.7 1014.1,1185.9 1012.3,1186.5C1010.6,1187.1 1007.6,1188.1 1005.7,1188.6C1003.9,1189.0 1000.8,1189.5 999.2,1189.8C997.5,1190.1 996.0,1190.4 994.3,1190.6C992.6,1190.8 989.1,1191.4 986.8,1191.4C984.5,1191.4 979.6,1191.1 977.7,1190.6C975.9,1190.1 974.7,1189.3 973.6,1188.1C972.6,1187.0 971.2,1184.0 970.3,1182.4C969.5,1180.7 968.4,1176.8 967.5,1176.2C966.6,1175.6 964.8,1177.4 963.8,1178.3C962.8,1179.1 961.7,1181.3 960.5,1182.4C959.4,1183.4 957.1,1185.0 955.6,1185.7C954.1,1186.3 951.4,1186.8 949.8,1186.9C948.2,1187.0 945.4,1187.0 944.0,1186.5C942.7,1186.0 940.9,1184.5 939.9,1183.2C939.0,1181.9 938.4,1179.0 937.4,1177.4C936.4,1175.8 934.2,1173.0 932.8,1171.7C931.5,1170.3 929.0,1168.1 927.5,1167.5C925.9,1167.0 922.8,1168.8 921.7,1168.0C920.7,1167.1 920.5,1163.8 920.1,1161.8C919.7,1159.8 919.0,1155.7 918.8,1153.5C918.7,1151.4 918.9,1148.0 919.3,1146.1C919.6,1144.3 920.5,1142.2 921.3,1140.4C922.1,1138.5 924.0,1134.9 925.0,1132.9C926.1,1131.0 928.1,1128.0 928.7,1126.4C929.4,1124.7 929.0,1123.2 929.5,1121.4C930.1,1119.6 931.7,1114.7 932.4,1113.6Z" fill="#ae4d78" transform="translate(-160.8,-843.5)"/>
<path d="M887.1,1120.6C887.2,1119.7 887.5,1117.1 887.9,1115.7C888.4,1114.2 889.5,1111.2 890.4,1109.9C891.3,1108.6 893.0,1106.9 894.5,1106.2C896.0,1105.4 899.3,1104.8 901.1,1104.5C903.0,1104.2 905.9,1103.9 907.7,1104.1C909.6,1104.3 912.9,1105.7 914.3,1105.8C915.7,1105.8 916.3,1104.8 917.6,1104.5C918.9,1104.3 923.0,1103.7 923.4,1104.0C923.7,1104.2 920.7,1105.8 920.1,1106.6C919.4,1107.4 918.7,1108.9 918.8,1109.9C919.0,1110.9 920.1,1112.6 920.9,1113.6C921.6,1114.6 923.4,1116.1 924.2,1116.9C925.0,1117.7 926.4,1118.5 926.7,1119.4C927.0,1120.2 926.0,1122.2 926.3,1123.1C926.5,1123.9 928.5,1125.0 928.3,1125.5C928.1,1126.1 925.9,1126.9 925.0,1127.2C924.1,1127.5 922.5,1127.6 921.7,1127.6C920.9,1127.6 919.8,1127.7 919.3,1127.2C918.7,1126.7 918.4,1124.8 918.0,1123.9C917.7,1123.0 917.4,1121.6 916.8,1120.6C916.1,1119.6 914.5,1117.6 913.5,1116.9C912.4,1116.1 910.6,1115.5 909.4,1115.2C908.1,1115.0 905.8,1115.0 904.4,1115.2C903.0,1115.5 900.7,1116.4 899.5,1116.9C898.2,1117.4 896.3,1118.2 895.4,1118.9C894.4,1119.7 893.5,1121.3 892.9,1122.2C892.3,1123.2 891.8,1125.2 891.2,1125.5C890.7,1125.9 889.3,1125.2 888.8,1124.7C888.2,1124.3 887.4,1122.8 887.1,1122.2C886.9,1121.7 887.0,1121.5 887.1,1120.6Z M865.3,1123.5C865.4,1122.8 867.2,1121.6 868.2,1121.3C869.2,1120.9 872.0,1121.0 872.3,1121.3C872.6,1121.5 870.6,1122.6 870.7,1123.1C870.7,1123.5 871.9,1124.3 872.7,1124.7C873.5,1125.1 875.2,1126.0 876.4,1126.2C877.6,1126.4 880.0,1125.9 881.4,1125.9C882.7,1126.0 886.1,1125.8 886.3,1126.4C886.5,1126.9 883.8,1128.5 883.0,1129.7C882.3,1130.8 881.2,1133.0 880.9,1134.6C880.7,1136.2 880.8,1139.3 880.9,1141.2C881.1,1143.0 881.7,1146.0 882.2,1147.8C882.7,1149.5 884.1,1152.3 884.7,1153.5C885.2,1154.8 886.6,1156.4 886.3,1156.8C886.0,1157.3 883.3,1156.5 882.2,1156.8C881.0,1157.2 879.3,1158.6 878.1,1159.3C876.8,1160.0 874.3,1161.5 873.1,1161.8C872.0,1162.0 870.6,1161.4 869.8,1161.0C869.0,1160.5 867.9,1159.3 867.4,1158.5C866.8,1157.7 865.4,1155.3 865.7,1155.2C866.1,1155.1 868.6,1157.4 869.8,1157.7C871.1,1157.9 873.5,1157.4 874.8,1156.8C876.0,1156.3 878.5,1154.6 878.9,1153.5C879.2,1152.5 877.8,1150.3 877.2,1149.4C876.7,1148.5 875.8,1147.4 874.8,1147.0C873.7,1146.5 870.2,1146.7 869.8,1146.1C869.5,1145.6 871.9,1143.9 872.3,1142.8C872.7,1141.8 872.9,1139.9 872.7,1138.7C872.5,1137.6 870.9,1135.9 870.7,1134.6C870.4,1133.3 871.5,1130.8 871.1,1129.7C870.6,1128.5 868.2,1127.2 867.4,1126.4C866.5,1125.5 865.2,1124.2 865.3,1123.5Z M877.2,1120.2C877.6,1119.9 880.9,1120.0 882.2,1120.2C883.5,1120.4 885.5,1121.2 886.3,1121.8C887.1,1122.5 887.9,1124.2 887.9,1124.7C887.9,1125.2 886.9,1125.7 886.3,1125.5C885.7,1125.4 884.8,1124.0 883.8,1123.5C882.9,1123.0 880.6,1122.5 879.7,1122.1C878.8,1121.6 876.9,1120.4 877.2,1120.2Z" fill="#ae4d78" transform="translate(-160.8,-843.5)"/>
<path d="M767.8,276.8C768.1,275.4 770.4,272.0 771.7,270.9C773.1,269.8 776.0,269.2 777.7,268.9C779.3,268.5 781.9,268.3 783.6,268.4C785.3,268.5 787.9,269.7 789.5,269.9C791.2,270.0 793.9,269.1 795.5,269.4C797.0,269.7 799.4,270.8 800.4,271.9C801.4,272.9 802.2,275.3 802.4,276.8C802.5,278.3 802.0,282.3 801.4,282.7C800.8,283.1 799.4,280.7 798.4,279.8C797.5,278.9 795.7,277.1 794.5,276.3C793.2,275.5 791.1,274.3 789.5,273.8C788.0,273.4 785.3,272.8 783.6,272.8C781.9,272.8 779.2,273.2 777.7,273.8C776.2,274.5 773.8,276.3 772.7,277.3C771.6,278.3 770.5,280.8 769.8,280.8C769.1,280.7 767.5,278.2 767.8,276.8Z" fill="#dfa5c7"/>
<path d="M773.7,283.2C774.1,282.5 777.7,280.7 779.7,280.3C781.6,279.8 785.5,279.6 787.6,279.8C789.6,280.0 792.8,280.9 794.5,281.7C796.1,282.6 798.5,284.5 799.4,285.7C800.4,286.9 800.8,289.4 801.4,290.6C802.0,291.9 803.7,294.4 803.4,294.6C803.1,294.8 800.5,293.0 799.4,292.1C798.3,291.2 796.9,289.1 795.5,288.2C794.1,287.2 791.3,285.8 789.5,285.2C787.7,284.7 784.4,284.2 782.6,284.2C780.8,284.2 777.9,285.3 776.7,285.2C775.4,285.1 773.3,283.9 773.7,283.2Z" fill="#dfa5c7"/>
<path d="M807.3,286.7C807.6,285.9 809.9,284.2 811.3,283.7C812.7,283.2 815.7,283.1 817.2,283.2C818.7,283.4 821.9,284.1 822.2,284.7C822.4,285.3 820.3,287.1 819.2,287.7C818.1,288.3 815.6,288.9 814.2,289.2C812.9,289.4 810.3,290.0 809.3,289.7C808.3,289.3 807.1,287.5 807.3,286.7Z" fill="#dfa5c7"/>
<path d="M803.4,297.1C804.1,296.4 807.4,295.4 809.3,295.1C811.2,294.7 815.1,294.5 817.2,294.6C819.3,294.7 822.5,295.0 824.1,295.6C825.8,296.1 828.1,297.6 829.1,298.5C830.0,299.5 831.3,302.2 831.1,302.5C830.8,302.8 828.5,301.5 827.1,301.0C825.7,300.5 823.0,299.4 821.2,299.0C819.4,298.7 816.0,298.5 814.2,298.5C812.4,298.6 809.7,299.2 808.3,299.3C806.9,299.5 805.1,300.1 804.4,299.7C803.7,299.4 802.7,297.7 803.4,297.1Z" fill="#dfa5c7"/>
<path d="M759.9,329.2C760.6,328.6 761.5,333.3 762.8,335.1C764.2,336.9 767.7,340.5 769.8,342.0C771.8,343.6 775.6,345.0 777.7,346.0C779.8,347.0 782.7,348.1 784.6,349.0C786.5,349.8 789.4,351.1 791.5,351.9C793.6,352.8 797.2,354.3 799.4,354.9C801.6,355.4 805.3,356.0 807.3,355.9C809.4,355.7 812.6,354.9 814.2,353.9C815.9,352.9 817.7,349.9 819.2,349.0C820.7,348.0 823.5,347.4 825.1,347.0C826.8,346.6 830.5,345.4 831.1,346.0C831.6,346.5 829.9,349.6 829.1,350.9C828.2,352.3 826.5,354.5 825.1,355.9C823.7,357.3 820.6,359.6 819.2,360.8C817.8,362.1 815.2,363.7 815.2,364.8C815.2,365.9 817.8,367.8 819.2,368.7C820.6,369.7 825.1,370.1 825.1,371.7C825.1,373.3 826.9,378.8 819.2,380.0C811.4,381.2 777.4,381.6 769.8,380.0C762.2,378.4 766.1,371.7 764.8,368.7C763.6,365.8 761.7,361.6 760.9,358.8C760.0,356.1 759.3,351.7 758.9,349.0C758.5,346.2 757.8,341.8 757.9,339.1C758.0,336.3 759.2,329.7 759.9,329.2Z" fill="#f0d6e5"/>
<path d="M779.7,358.8C780.6,358.6 785.3,359.4 787.6,359.8C789.8,360.2 793.3,361.4 795.5,361.8C797.7,362.2 801.2,362.4 803.4,362.8C805.6,363.2 809.3,363.9 811.3,364.8C813.2,365.6 817.5,368.3 817.2,368.7C816.9,369.1 811.5,368.1 809.3,367.7C807.1,367.4 803.6,366.7 801.4,366.3C799.2,365.8 795.7,365.2 793.5,364.8C791.3,364.4 787.4,363.7 785.6,363.3C783.8,362.9 781.5,362.4 780.6,361.8C779.8,361.2 778.7,359.1 779.7,358.8Z" fill="#dfa5c7"/>
<path d="M759.4,313.4C759.5,312.2 759.0,308.6 759.9,306.5C760.8,304.3 762.7,301.9 764.8,300.5C767.0,299.1 770.1,298.4 772.7,298.1C775.4,297.7 778.2,298.1 780.6,298.5C783.1,299.0 785.4,299.9 787.6,301.0C789.7,302.1 791.7,303.5 793.5,305.0C795.3,306.5 796.8,308.0 798.4,309.9C800.1,311.8 802.1,314.1 803.4,316.3C804.7,318.6 805.8,321.0 806.3,323.3C806.9,325.6 807.1,327.9 806.8,330.2C806.6,332.5 805.9,335.0 804.9,337.1C803.8,339.2 802.1,341.5 800.4,343.0C798.7,344.6 796.5,346.0 794.5,346.5C792.5,347.0 790.4,346.4 788.5,346.0C786.7,345.6 784.4,344.3 783.6,344.0" fill="none" stroke="#f0d6e5" stroke-width="2.6" stroke-linecap="round"/>
<path d="M799.4,307.4C800.4,307.3 803.0,306.7 805.4,306.5C807.7,306.2 810.6,306.0 813.3,306.0C815.9,306.0 818.7,306.2 821.2,306.5C823.6,306.7 826.3,307.0 828.1,307.4C829.9,307.9 831.7,308.1 832.0,309.4C832.4,310.7 830.9,313.4 830.1,315.4C829.2,317.3 828.1,319.3 827.1,321.3C826.1,323.3 825.1,325.2 824.1,327.2C823.1,329.2 822.2,331.3 821.2,333.1C820.2,335.0 819.2,336.6 818.2,338.1C817.2,339.6 815.7,341.4 815.2,342.0" fill="none" stroke="#f0d6e5" stroke-width="2.2" stroke-linecap="round"/>
<path d="M844.9,306.5C844.6,307.4 843.7,310.2 842.9,312.4C842.1,314.5 840.6,317.2 839.9,319.3C839.3,321.4 839.0,323.3 839.0,325.2C839.0,327.2 840.3,329.2 839.9,331.2C839.6,333.1 838.0,335.3 837.0,337.1C836.0,338.9 835.0,340.6 834.0,342.0C833.0,343.5 831.5,345.3 831.1,346.0" fill="none" stroke="#dfa5c7" stroke-width="3" stroke-linecap="round"/>
<path d="M859.7,338.1C860.0,337.3 861.3,334.5 861.7,333.1C862.1,331.8 862.1,330.7 862.2,330.2" fill="none" stroke="#f0d6e5" stroke-width="2" stroke-linecap="round"/>
<path d="M779.7,321.3C780.2,320.0 782.9,318.6 784.6,318.3C786.3,318.0 789.7,318.6 791.5,319.3C793.3,320.0 796.1,321.9 797.4,323.3C798.8,324.6 801.1,327.8 801.4,329.2C801.7,330.6 800.4,332.9 799.4,333.1C798.5,333.4 795.9,331.2 794.5,331.2C793.1,331.2 790.9,333.1 789.5,333.1C788.2,333.1 785.8,332.0 784.6,331.2C783.3,330.3 781.3,328.6 780.6,327.2C779.9,325.8 779.1,322.5 779.7,321.3Z" fill="#7f335e"/>
<path d="M805.4,319.3C806.0,318.8 809.9,320.7 811.3,321.3C812.7,321.8 815.0,322.2 815.2,323.3C815.5,324.4 813.8,327.5 813.3,329.2C812.7,330.9 811.8,333.5 811.3,335.1C810.7,336.8 810.0,340.8 809.3,341.1C808.6,341.3 806.6,338.5 806.3,337.1C806.1,335.7 807.3,332.8 807.3,331.2C807.4,329.5 807.1,326.9 806.8,325.2C806.6,323.6 804.7,319.9 805.4,319.3Z" fill="#7f335e"/>
<path d="M766.8,323.3C767.2,322.2 770.4,320.3 771.7,319.3C773.1,318.3 776.3,316.1 776.7,316.3C777.1,316.6 774.8,319.8 774.7,321.3C774.6,322.8 776.0,326.1 775.7,327.2C775.4,328.3 773.7,329.2 772.7,329.2C771.8,329.2 769.6,328.0 768.8,327.2C767.9,326.4 766.4,324.4 766.8,323.3Z" fill="#7f335e"/>
<path d="M822.2,335.1C822.8,335.1 824.0,337.7 824.1,339.1C824.3,340.5 823.7,344.3 823.1,345.0C822.6,345.7 820.7,344.8 820.2,344.0C819.6,343.2 818.9,340.3 819.2,339.1C819.5,337.8 821.5,335.1 822.2,335.1Z" fill="#7f335e"/>
<path d="M837.0,338.1C838.0,336.8 840.2,335.8 840.9,336.1C841.6,336.4 842.2,339.0 841.9,340.1C841.6,341.2 840.1,343.3 839.0,344.0C837.9,344.7 834.3,345.8 834.0,345.0C833.7,344.2 836.0,339.3 837.0,338.1Z" fill="#7f335e"/>
<path d="M821.2,364.8C821.9,363.8 825.6,361.8 827.1,360.8C828.6,359.9 831.5,357.6 832.0,357.9C832.6,358.1 831.9,361.6 831.1,362.8C830.2,364.0 827.4,366.1 826.1,366.8C824.9,367.4 822.8,368.0 822.2,367.7C821.5,367.5 820.5,365.7 821.2,364.8Z" fill="#7f335e"/>
<path d="M779.7,347.0C779.9,346.6 783.2,348.3 784.6,349.0C786.0,349.7 789.1,351.2 789.5,351.9C790.0,352.6 788.5,353.9 787.6,353.9C786.6,353.9 783.7,352.9 782.6,351.9C781.5,351.0 779.4,347.4 779.7,347.0Z" fill="#7f335e"/>
<path d="M750.0,319.3C750.6,317.4 753.0,317.1 754.0,317.3C754.9,317.6 756.4,319.6 756.9,321.3C757.5,322.9 758.0,327.0 757.9,329.2C757.8,331.4 756.8,336.3 755.9,337.1C755.1,337.9 752.8,336.0 752.0,335.1C751.1,334.3 750.3,333.4 750.0,331.2C749.7,329.0 749.4,321.2 750.0,319.3Z" fill="#7f335e"/>
<path d="M718.5,332.6C719.1,332.5 721.5,334.9 722.4,335.6C723.4,336.3 725.7,337.7 726.4,338.5C727.1,339.4 728.6,342.2 728.4,342.5C728.1,342.8 725.3,341.9 724.4,341.5C723.5,341.2 721.3,340.1 720.5,339.5C719.7,339.0 717.7,337.4 717.5,336.6C717.3,335.8 717.9,332.7 718.5,332.6Z" fill="#ae4d78"/>
<path d="M730.4,321.7C730.7,321.7 733.6,324.8 734.3,325.7C735.0,326.6 736.3,329.3 736.3,329.7C736.3,330.0 734.9,329.1 734.3,328.7C733.7,328.2 731.8,326.5 731.3,325.7C730.9,324.9 730.0,321.7 730.4,321.7Z" fill="#ae4d78"/>
<path d="M746.2,325.7C746.6,325.0 749.2,323.6 750.1,323.7C751.0,323.8 753.3,325.9 754.1,326.7C754.9,327.5 756.6,329.5 757.0,330.6C757.5,331.8 757.8,335.3 758.0,336.6C758.3,337.8 759.4,341.2 759.0,341.5C758.7,341.9 756.0,340.0 755.1,339.5C754.1,339.1 751.9,338.3 751.1,337.6C750.3,336.9 748.7,334.5 748.1,333.6C747.6,332.7 746.4,330.6 746.2,329.7C745.9,328.7 745.7,326.4 746.2,325.7Z" fill="#ae4d78"/>
<path d="M744.2,343.5C744.4,342.9 748.0,342.4 749.1,342.5C750.3,342.6 752.9,344.0 754.1,344.5C755.2,344.9 758.1,345.6 759.0,346.5C759.9,347.3 761.9,350.4 762.0,351.4C762.1,352.4 760.7,355.1 760.0,355.4C759.3,355.6 757.0,354.1 756.1,353.4C755.1,352.7 753.1,350.1 752.1,349.4C751.1,348.7 748.1,348.1 747.2,347.4C746.2,346.8 744.0,344.1 744.2,343.5Z" fill="#ae4d78"/>
<path d="M733.3,341.5C733.6,341.5 734.7,344.4 735.3,345.5C735.9,346.5 737.5,349.3 738.3,350.4C739.1,351.6 741.4,354.3 742.2,355.4C743.0,356.4 745.3,359.0 745.2,359.3C745.1,359.7 742.1,358.8 741.2,358.3C740.3,357.9 738.1,356.3 737.3,355.4C736.5,354.4 734.8,351.6 734.3,350.4C733.8,349.3 732.9,346.5 732.8,345.5C732.7,344.4 733.0,341.5 733.3,341.5Z" fill="#ae4d78"/>
<path d="M740.2,363.3C741.4,363.0 744.7,361.6 746.2,361.3C747.7,360.9 751.5,360.4 753.1,360.3C754.7,360.2 758.6,360.4 760.0,360.8C761.4,361.1 763.9,362.4 764.9,363.3C766.0,364.1 768.1,366.9 768.9,368.2C769.7,369.5 771.5,372.7 771.9,374.1C772.3,375.5 772.6,378.9 772.4,380.1C772.1,381.2 770.5,384.1 769.9,384.0C769.3,383.9 767.6,380.2 766.9,379.1C766.2,377.9 764.8,375.1 764.0,374.1C763.2,373.2 760.9,371.7 760.0,371.2C759.1,370.6 757.0,369.2 756.1,369.2C755.1,369.2 753.0,371.2 752.1,371.2C751.2,371.2 749.1,369.7 748.1,369.2C747.2,368.7 745.0,367.4 744.2,367.2C743.4,367.0 741.9,366.8 741.2,367.2C740.5,367.7 738.5,370.0 738.3,371.2C738.0,372.3 738.7,375.7 739.2,377.1C739.8,378.5 742.2,381.8 743.2,383.0C744.2,384.3 746.9,387.0 748.1,388.0C749.4,388.9 752.6,390.5 754.1,390.9C755.6,391.3 759.8,391.5 761.0,391.4C762.1,391.3 764.1,389.5 764.0,389.9C763.8,390.4 760.8,393.9 760.0,394.9C759.2,395.9 758.1,398.0 757.0,398.8C756.0,399.7 752.5,401.5 751.1,401.8C749.7,402.2 746.0,402.4 745.2,401.8C744.4,401.2 744.5,397.9 744.2,396.9C743.8,395.8 742.9,393.8 742.2,392.9C741.5,392.0 739.2,389.8 738.3,389.0C737.3,388.2 735.0,386.8 734.3,386.0C733.6,385.2 732.8,383.1 732.3,382.0C731.9,381.0 730.5,378.4 730.4,377.1C730.2,375.8 731.0,372.4 731.3,371.2C731.7,369.9 732.7,367.1 733.3,366.2C733.9,365.3 735.5,363.6 736.3,363.3C737.1,362.9 739.1,363.5 740.2,363.3Z" fill="#ae4d78"/>
<path d="M773.8,375.1C774.2,374.8 778.3,375.9 779.8,376.1C781.3,376.3 784.9,376.8 786.7,377.1C788.5,377.4 794.0,378.2 795.0,379.1C796.0,380.0 795.7,384.7 795.0,385.0C794.3,385.4 790.1,382.6 788.7,382.0C787.2,381.5 784.1,380.4 782.7,380.1C781.4,379.7 777.8,379.7 776.8,379.1C775.8,378.5 773.5,375.5 773.8,375.1Z" fill="#ae4d78"/>
<path d="M779.8,394.9C780.1,394.5 783.6,393.8 784.7,393.9C785.9,394.0 789.5,395.4 789.7,395.9C789.8,396.3 786.6,397.7 785.7,397.9C784.8,398.0 782.4,397.7 781.8,397.4C781.1,397.0 779.4,395.3 779.8,394.9Z" fill="#ae4d78"/>
<path d="M764.0,363.3C764.1,362.8 767.0,366.1 767.9,367.2C768.8,368.4 770.9,371.8 771.4,373.1C771.9,374.5 772.5,378.6 772.4,379.1C772.2,379.5 770.5,378.0 769.9,377.1C769.3,376.2 767.6,372.8 766.9,371.2C766.2,369.6 763.8,363.7 764.0,363.3Z" fill="#7f335e"/>
<path d="M739.2,381.1C739.5,380.8 743.2,383.3 744.2,384.0C745.2,384.7 747.9,386.4 748.1,387.0C748.4,387.6 746.9,389.1 746.2,389.0C745.5,388.8 743.0,386.9 742.2,386.0C741.4,385.1 739.0,381.3 739.2,381.1Z" fill="#7f335e"/>
<path d="M817.2,366.6C817.4,365.9 819.9,363.5 821.2,362.6C822.4,361.7 826.6,359.7 828.1,358.7C829.6,357.6 832.7,354.8 834.0,353.7C835.3,352.7 837.7,350.6 839.0,349.8C840.2,349.0 843.4,347.3 844.9,346.8C846.4,346.3 850.6,345.6 851.8,345.8C853.0,346.0 854.8,347.9 855.3,348.8C855.7,349.7 856.1,352.7 855.8,353.7C855.5,354.8 853.8,357.1 852.8,357.7C851.8,358.3 848.3,358.2 846.9,358.7C845.5,359.1 842.3,360.9 840.9,361.6C839.6,362.3 836.4,363.9 835.0,364.6C833.6,365.3 830.5,367.0 829.1,367.6C827.7,368.1 824.3,368.9 823.1,369.0C822.0,369.2 819.9,368.8 819.2,368.5C818.5,368.3 817.0,367.3 817.2,366.6Z" fill="#ae4d78"/>
<path d="M822.2,371.5C822.5,371.1 826.7,369.7 828.1,369.5C829.5,369.4 832.5,370.2 834.0,370.5C835.5,370.9 839.4,371.8 840.9,372.5C842.4,373.2 845.7,375.4 846.9,376.5C848.0,377.5 850.6,380.2 850.8,381.4C851.1,382.6 849.4,385.2 848.8,386.3C848.3,387.5 846.3,390.1 845.9,391.3C845.4,392.4 845.7,395.4 844.9,396.2C844.1,397.0 840.3,397.9 839.0,398.2C837.6,398.5 834.3,399.3 833.0,399.2C831.8,399.1 829.2,397.9 828.1,397.2C826.9,396.5 824.3,394.2 823.1,393.3C822.0,392.3 818.9,390.1 818.2,389.3C817.5,388.5 816.6,386.6 817.2,386.3C817.8,386.1 822.1,387.7 823.1,387.3C824.2,387.0 825.6,384.5 826.1,383.4C826.6,382.2 827.2,378.6 827.1,377.4C827.0,376.3 825.7,374.2 825.1,373.5C824.5,372.8 821.8,372.0 822.2,371.5Z" fill="#ae4d78"/>
<path d="M801.4,410.1C802.0,409.0 805.8,406.2 807.3,405.1C808.8,404.1 812.6,402.0 814.2,401.2C815.9,400.4 820.0,398.0 821.2,398.2C822.3,398.4 823.7,401.9 824.1,403.1C824.6,404.4 825.2,407.7 825.1,409.1C825.0,410.5 823.8,413.9 823.1,415.0C822.5,416.2 819.8,417.9 819.2,419.0C818.6,420.0 818.9,423.0 818.2,423.9C817.5,424.8 814.4,426.9 813.3,426.9C812.1,426.9 809.2,424.8 808.3,423.9C807.4,423.0 806.0,420.1 805.4,419.0C804.7,417.8 802.8,415.1 802.4,414.0C801.9,413.0 800.8,411.1 801.4,410.1Z" fill="#ae4d78"/>
<path d="M750.0,360.6C750.7,359.0 754.4,359.7 755.9,359.7C757.4,359.7 761.5,360.1 762.8,360.6C764.2,361.2 766.9,363.3 767.8,364.6C768.7,365.9 770.3,369.8 770.8,371.5C771.2,373.2 772.0,378.0 771.7,379.4C771.5,380.8 769.7,383.4 768.8,383.4C767.9,383.4 765.0,380.2 763.8,379.4C762.7,378.6 760.0,377.0 758.9,376.5C757.7,375.9 755.0,374.8 754.0,374.5C752.9,374.1 750.5,375.1 750.0,373.5C749.5,371.9 749.3,362.3 750.0,360.6Z" fill="#ae4d78"/>
<path d="M750.0,389.3C750.7,387.9 754.4,389.2 755.9,389.3C757.4,389.4 762.4,389.7 762.8,390.3C763.3,390.9 760.8,393.3 759.9,394.2C759.0,395.2 756.1,397.4 754.9,398.2C753.8,399.0 750.6,402.2 750.0,401.2C749.4,400.1 749.3,390.7 750.0,389.3Z" fill="#ae4d78"/>
<path d="M778.7,342.8C779.4,344.0 782.3,345.6 783.6,345.8C784.9,346.0 788.2,344.7 789.5,344.8C790.9,344.9 794.1,346.5 795.5,346.8C796.9,347.1 800.0,348.0 801.4,347.8C802.8,347.6 805.9,345.7 807.3,344.8C808.7,343.9 812.3,341.2 813.3,339.9C814.2,338.6 815.2,335.1 815.2,334.0C815.2,332.8 817.4,330.5 813.3,330.0C809.1,329.5 783.8,329.3 779.7,330.0C775.5,330.7 777.8,334.4 777.7,335.9C777.6,337.4 778.0,341.7 778.7,342.8Z" fill="#ae4d78"/>
<path d="M782.6,375.5C783.2,375.4 787.9,376.1 789.5,376.5C791.2,376.8 794.6,378.4 796.5,378.4C798.3,378.4 805.0,376.2 805.4,376.5C805.7,376.7 800.7,379.6 799.4,380.4C798.2,381.2 795.6,383.5 794.5,383.4C793.3,383.3 790.7,380.1 789.5,379.4C788.4,378.7 785.4,377.9 784.6,377.4C783.8,377.0 782.0,375.6 782.6,375.5Z" fill="#ae4d78"/>
<path d="M778.7,396.2C778.8,395.8 782.3,394.1 783.6,394.2C784.9,394.4 788.4,396.6 789.5,397.2C790.7,397.8 793.7,399.0 793.5,399.2C793.3,399.4 788.8,399.3 787.6,399.2C786.3,399.1 783.7,398.5 782.6,398.2C781.6,397.9 778.5,396.7 778.7,396.2Z" fill="#ae4d78"/>
<path d="M791.5,361.6C791.7,361.2 797.6,360.5 799.4,360.6C801.3,360.8 805.6,362.2 807.3,362.6C809.1,363.1 813.8,364.0 814.2,364.6C814.7,365.2 812.3,367.3 811.3,367.6C810.2,367.8 807.0,366.9 805.4,366.6C803.7,366.2 799.1,365.2 797.4,364.6C795.8,364.0 791.3,362.1 791.5,361.6Z" fill="#dfa5c7"/>
<path d="M787.6,383.4C788.4,382.8 792.6,382.6 794.5,382.4C796.3,382.2 801.4,381.3 803.4,381.4C805.3,381.5 810.1,382.5 811.3,383.4C812.4,384.3 813.3,387.9 813.3,389.3C813.3,390.7 812.2,394.3 811.3,395.2C810.4,396.2 807.0,397.3 805.4,397.2C803.7,397.1 799.1,394.9 797.4,394.2C795.8,393.6 792.7,392.1 791.5,391.3C790.4,390.5 788.0,388.3 787.6,387.3C787.1,386.4 786.8,384.0 787.6,383.4Z" fill="#dfa5c7"/>
<path d="M762.8,395.2C763.3,394.9 768.0,395.9 769.8,396.2C771.5,396.6 775.8,397.6 777.7,398.2C779.5,398.8 783.7,400.6 785.6,401.2C787.4,401.7 793.0,402.7 793.5,403.1C794.0,403.6 790.9,405.0 789.5,405.1C788.2,405.2 783.5,404.5 781.6,404.1C779.8,403.8 775.6,402.7 773.7,402.2C771.9,401.6 767.1,400.0 765.8,399.2C764.5,398.4 762.4,395.6 762.8,395.2Z" fill="#dfa5c7"/>
<path d="M774.7,406.1C774.8,405.6 780.7,407.6 782.6,408.1C784.6,408.5 789.6,409.6 791.5,410.1C793.5,410.5 798.3,411.2 799.4,412.0C800.6,412.8 801.7,416.5 801.4,417.0C801.1,417.4 797.8,416.3 796.5,416.0C795.1,415.6 791.3,414.5 789.5,414.0C787.8,413.6 783.4,413.0 781.6,412.0C779.9,411.1 774.6,406.6 774.7,406.1Z" fill="#dfa5c7"/>
<path d="M848.8,371.5C849.2,370.7 853.4,371.9 854.8,372.5C856.2,373.1 859.4,375.3 860.7,376.5C862.0,377.6 865.0,381.0 865.6,382.4C866.3,383.8 867.0,387.0 866.6,388.3C866.3,389.6 863.8,392.3 862.7,393.3C861.5,394.2 858.1,395.8 856.8,396.2C855.4,396.7 851.6,397.8 850.8,397.2C850.0,396.6 849.6,392.7 849.8,391.3C850.1,389.9 852.6,386.7 852.8,385.4C853.0,384.0 852.3,381.0 851.8,379.4C851.3,377.8 848.5,372.3 848.8,371.5Z" fill="#dfa5c7"/>
<path d="M819.2,364.6C819.9,363.8 823.7,362.3 825.1,361.6C826.5,360.9 830.6,358.4 831.1,358.7C831.5,358.9 829.9,362.6 829.1,363.6C828.3,364.6 825.3,367.0 824.1,367.6C823.0,368.1 819.8,368.9 819.2,368.5C818.6,368.2 818.5,365.4 819.2,364.6Z" fill="#7f335e"/>
<path d="M823.1,371.5C823.5,370.8 828.0,370.3 829.1,370.5C830.1,370.8 831.9,372.7 832.0,373.5C832.2,374.3 830.5,376.5 830.1,377.4C829.6,378.4 828.5,381.5 828.1,381.4C827.6,381.3 826.7,377.6 826.1,376.5C825.5,375.3 822.8,372.2 823.1,371.5Z" fill="#7f335e"/>
<path d="M815.2,388.3C815.5,388.0 818.3,390.5 819.2,391.3C820.1,392.1 822.9,394.4 823.1,395.2C823.4,396.0 821.9,398.3 821.2,398.2C820.5,398.1 817.9,395.4 817.2,394.2C816.5,393.1 815.0,388.7 815.2,388.3Z" fill="#7f335e"/>
<path d="M764.8,362.6C765.1,361.9 768.0,364.4 768.8,365.6C769.5,366.7 771.1,371.1 771.3,372.5C771.4,373.9 770.3,377.6 769.8,377.4C769.2,377.3 767.4,373.2 766.8,371.5C766.2,369.8 764.6,363.3 764.8,362.6Z" fill="#7f335e"/>
<path d="M837.0,447.0C839.0,446.5 846.1,449.9 849.6,451.7C853.1,453.4 859.0,457.1 862.1,459.5C865.2,461.9 869.7,466.2 871.5,468.9C873.2,471.5 875.0,477.4 874.6,478.3C874.2,479.1 870.5,476.4 868.3,475.1C866.2,473.8 861.6,470.2 859.0,468.9C856.3,467.6 852.0,466.6 849.6,465.7C847.2,464.9 843.7,464.1 841.7,462.6C839.8,461.1 836.1,457.0 835.5,454.8C834.8,452.6 835.1,447.4 837.0,447.0Z" fill="#ec94b8"/>
<path d="M833.9,478.3C835.2,476.5 840.0,479.6 841.7,481.4C843.5,483.1 845.3,487.9 846.4,490.8C847.5,493.6 849.3,498.7 849.6,501.7C849.8,504.8 849.1,509.8 848.0,512.7C846.9,515.5 843.5,521.6 841.7,522.1C840.0,522.5 836.6,518.0 835.5,515.8C834.4,513.6 834.3,509.5 833.9,506.4C833.5,503.4 832.3,497.9 832.3,493.9C832.3,490.0 832.6,480.0 833.9,478.3Z" fill="#ec94b8"/>
<path d="M813.6,497.0C814.7,496.8 819.4,503.4 821.4,506.4C823.4,509.5 825.9,516.3 827.7,519.0C829.4,521.6 832.2,524.1 833.9,525.2C835.7,526.3 840.2,526.1 840.2,526.8C840.2,527.4 836.1,530.1 833.9,529.9C831.7,529.7 826.7,527.0 824.5,525.2C822.3,523.5 819.8,519.8 818.3,517.4C816.7,515.0 814.2,510.8 813.6,508.0C812.9,505.1 812.5,497.3 813.6,497.0Z" fill="#ec94b8"/>
<path d="M877.7,431.3C880.1,431.3 884.5,434.7 887.1,436.0C889.8,437.3 896.1,439.4 896.5,440.7C897.0,442.0 892.4,444.7 890.3,445.4C888.1,446.0 883.5,445.6 880.9,445.4C878.2,445.2 873.7,444.5 871.5,443.8C869.3,443.2 865.4,441.8 865.2,440.7C865.0,439.6 868.2,437.3 869.9,436.0C871.7,434.7 875.3,431.3 877.7,431.3Z" fill="#ec94b8"/>
<path d="M874.6,493.9C876.4,492.6 881.8,491.9 884.0,492.3C886.2,492.8 889.6,495.1 890.3,497.0C890.9,499.0 890.0,504.2 888.7,506.4C887.4,508.6 883.1,512.3 880.9,512.7C878.7,513.1 874.4,511.1 873.0,509.6C871.7,508.0 871.3,503.9 871.5,501.7C871.7,499.5 872.9,495.2 874.6,493.9Z" fill="#ec94b8"/>
<path d="M765.8,465.7C766.5,463.9 769.2,461.4 771.3,460.3C773.4,459.2 777.4,458.1 780.7,457.9C784.0,457.7 792.7,459.6 794.8,458.7C796.9,457.8 794.5,453.1 795.6,451.7C796.7,450.2 800.5,448.5 802.6,448.5C804.7,448.5 808.2,450.6 810.4,451.7C812.6,452.7 816.3,454.8 818.3,456.3C820.2,457.9 823.2,460.9 824.5,462.6C825.8,464.4 828.1,467.8 827.7,468.9C827.2,470.0 823.1,469.6 821.4,470.4C819.6,471.3 816.9,473.8 815.1,475.1C813.4,476.4 810.8,478.7 808.9,479.8C806.9,480.9 803.2,481.9 801.0,483.0C798.9,484.1 795.2,486.3 793.2,487.7C791.2,489.0 788.7,491.5 787.0,492.3C785.2,493.2 782.4,494.3 780.7,493.9C778.9,493.5 776.1,491.0 774.4,489.2C772.8,487.5 770.1,483.6 769.0,481.4C767.8,479.2 766.7,475.8 766.3,473.6C765.9,471.4 765.1,467.6 765.8,465.7Z" fill="#bf5b8b"/>
<path d="M819.8,431.3C819.8,429.6 822.2,427.2 823.0,425.0C823.7,422.9 824.9,418.3 825.3,415.7C825.7,413.0 824.9,408.0 826.1,406.3C827.3,404.5 831.7,403.6 833.9,403.1C836.1,402.7 839.8,402.7 841.7,403.1C843.7,403.6 846.9,404.5 848.0,406.3C849.1,408.0 849.6,413.0 849.6,415.7C849.6,418.3 848.9,422.9 848.0,425.0C847.1,427.2 844.4,429.6 843.3,431.3C842.2,433.1 841.0,435.8 840.2,437.6C839.3,439.3 837.0,442.1 837.0,443.8C837.0,445.6 840.6,449.6 840.2,450.1C839.7,450.5 835.7,448.3 833.9,447.0C832.2,445.6 829.2,442.0 827.7,440.7C826.1,439.4 824.1,438.9 823.0,437.6C821.9,436.2 819.8,433.1 819.8,431.3Z" fill="#bf5b8b"/>
<path d="M765.0,533.0C764.8,531.5 767.1,526.3 768.2,523.7C769.3,521.0 771.1,516.5 772.9,514.3C774.6,512.1 778.3,509.3 780.7,508.0C783.1,506.7 787.7,505.7 790.1,504.9C792.5,504.0 796.6,501.1 797.9,501.7C799.2,502.4 799.7,507.2 799.5,509.6C799.3,512.0 796.6,516.5 796.3,519.0C796.1,521.4 798.1,524.8 797.9,526.8C797.7,528.8 796.3,531.5 794.8,533.0C793.2,534.6 788.9,537.5 787.0,537.7C785.0,538.0 782.4,534.6 780.7,534.6C778.9,534.6 776.0,537.7 774.4,537.7C772.9,537.7 771.1,535.3 769.7,534.6C768.4,533.9 765.3,534.6 765.0,533.0Z" fill="#bf5b8b"/>
<path d="M813.6,493.9C813.8,491.7 816.3,486.7 818.3,484.5C820.2,482.3 825.0,479.2 827.7,478.3C830.3,477.3 835.1,477.0 837.0,477.5C839.0,477.9 842.2,480.0 841.7,481.4C841.3,482.8 835.2,485.5 833.9,487.7C832.6,489.8 832.3,494.4 832.3,497.0C832.3,499.7 834.6,504.9 833.9,506.4C833.3,508.0 829.4,508.4 827.7,508.0C825.9,507.6 822.9,504.4 821.4,503.3C819.9,502.2 817.8,501.5 816.7,500.2C815.6,498.9 813.3,496.1 813.6,493.9Z" fill="#bf5b8b"/>
<path d="M840.2,473.6C840.6,472.0 844.5,467.3 846.4,465.7C848.4,464.2 852.1,462.8 854.3,462.6C856.5,462.4 860.1,463.3 862.1,464.2C864.1,465.0 868.3,468.0 868.3,468.9C868.3,469.7 864.1,470.2 862.1,470.4C860.1,470.7 856.2,470.0 854.3,470.4C852.3,470.9 849.5,472.7 848.0,473.6C846.5,474.4 844.4,476.7 843.3,476.7C842.2,476.7 839.7,475.1 840.2,473.6Z" fill="#bf5b8b"/>
<path d="M852.7,451.7C852.9,450.8 859.2,448.7 862.1,448.5C864.9,448.3 870.0,449.4 873.0,450.1C876.1,450.7 881.1,453.0 884.0,453.2C886.8,453.4 890.8,452.3 893.4,451.7C896.0,451.0 900.2,449.6 902.8,448.5C905.4,447.4 910.0,444.7 912.2,443.8C914.4,442.9 918.0,441.8 918.4,442.3C918.9,442.7 916.8,445.4 915.3,447.0C913.8,448.5 909.9,451.7 907.5,453.2C905.1,454.8 900.7,456.8 898.1,457.9C895.5,459.0 891.3,460.6 888.7,461.0C886.1,461.5 881.9,461.5 879.3,461.0C876.7,460.6 872.5,458.8 869.9,457.9C867.3,457.0 862.9,455.7 860.5,454.8C858.1,453.9 852.5,452.5 852.7,451.7Z" fill="#bf5b8b"/>
<path d="M890.3,465.7C890.9,464.6 896.1,462.6 898.1,462.6C900.1,462.6 902.8,464.4 904.3,465.7C905.9,467.1 907.9,470.5 909.0,472.0C910.1,473.5 912.8,475.8 912.2,476.7C911.5,477.6 906.3,478.5 904.3,478.3C902.4,478.0 899.6,476.2 898.1,475.1C896.6,474.0 894.5,471.7 893.4,470.4C892.3,469.1 889.6,466.8 890.3,465.7Z" fill="#bf5b8b"/>
<path d="M881.6,485.3C882.3,484.8 887.7,484.5 890.3,484.5C892.8,484.5 896.8,485.3 899.6,485.3C902.5,485.3 909.9,484.1 910.6,484.5C911.3,485.0 906.1,487.6 904.3,488.4C902.6,489.3 899.2,489.6 898.1,490.8C897.0,492.0 897.4,495.5 896.5,497.0C895.6,498.6 892.6,502.0 891.8,501.7C891.1,501.5 891.3,497.0 891.0,495.5C890.8,493.9 891.0,491.8 890.3,490.8C889.5,489.8 886.8,489.2 885.6,488.4C884.4,487.7 881.0,485.9 881.6,485.3Z" fill="#bf5b8b"/>
<path d="M859.0,432.9C859.2,431.9 863.2,430.8 865.2,429.7C867.2,428.6 870.8,425.9 873.0,425.0C875.2,424.2 878.5,424.0 880.9,423.5C883.3,422.9 887.8,422.1 890.3,421.1C892.7,420.1 896.4,417.7 898.1,416.4C899.7,415.1 901.2,411.8 902.0,411.7C902.8,411.6 903.9,414.2 903.6,415.7C903.2,417.1 901.5,420.3 899.6,421.9C897.8,423.6 893.1,426.2 890.3,427.4C887.4,428.6 882.2,429.6 879.3,430.5C876.5,431.4 872.1,432.8 869.9,433.7C867.7,434.5 865.2,436.4 863.7,436.3C862.1,436.2 858.7,433.8 859.0,432.9Z" fill="#bf5b8b"/>
<path d="M848.0,407.8C848.7,406.5 851.6,405.4 852.7,406.3C853.8,407.1 855.8,411.9 855.8,414.1C855.8,416.3 853.6,419.9 852.7,421.9C851.8,423.9 850.4,428.2 849.6,428.2C848.7,428.2 846.7,423.7 846.4,421.9C846.2,420.2 847.8,417.6 848.0,415.7C848.2,413.7 847.3,409.1 848.0,407.8Z" fill="#8a3a66"/>
<path d="M810.4,459.5C811.5,458.2 816.3,456.1 818.3,456.3C820.2,456.6 824.1,459.5 824.5,461.0C825.0,462.6 822.7,466.2 821.4,467.3C820.1,468.4 816.7,469.1 815.1,468.9C813.6,468.6 811.1,467.1 810.4,465.7C809.8,464.4 809.3,460.8 810.4,459.5Z" fill="#8a3a66"/>
<path d="M793.2,470.4C793.7,469.1 796.6,466.9 797.9,467.3C799.2,467.7 802.4,472.0 802.6,473.6C802.8,475.1 800.6,477.8 799.5,478.3C798.4,478.7 795.7,477.8 794.8,476.7C793.9,475.6 792.8,471.7 793.2,470.4Z" fill="#8a3a66"/>
<path d="M830.8,478.3C831.5,476.9 834.4,476.3 835.5,476.7C836.6,477.1 838.6,479.9 838.6,481.4C838.6,482.9 836.4,485.9 835.5,487.7C834.6,489.4 833.1,494.1 832.3,493.9C831.6,493.7 830.2,488.3 830.0,486.1C829.8,483.9 830.0,479.6 830.8,478.3Z" fill="#8a3a66"/>
<path d="M827.1,402.2C828.0,401.3 832.3,401.7 834.0,401.7C835.7,401.7 840.5,401.9 841.9,402.2C843.3,402.4 845.3,402.8 845.9,403.6C846.5,404.4 846.6,407.6 846.9,409.1C847.1,410.5 847.6,414.5 847.9,416.0C848.1,417.5 849.2,420.9 848.8,421.9C848.5,423.0 845.8,424.1 844.9,424.9C844.0,425.7 841.6,427.7 840.9,428.8C840.2,430.0 839.4,433.5 839.0,434.8C838.5,436.0 837.7,439.3 837.0,439.7C836.3,440.2 834.1,439.3 833.0,438.7C832.0,438.2 829.2,435.7 828.1,434.8C826.9,433.9 824.2,431.6 823.1,430.8C822.1,430.0 819.4,428.9 819.2,427.9C819.0,426.8 820.6,423.2 821.2,421.9C821.7,420.7 823.6,418.5 824.1,417.0C824.7,415.5 825.8,410.8 826.1,409.1C826.5,407.3 826.2,403.0 827.1,402.2Z" fill="#bf5b8b"/>
<path d="M848.8,408.1C849.3,406.7 852.1,405.0 852.8,405.1C853.5,405.2 854.8,407.9 854.8,409.1C854.8,410.2 853.3,413.6 852.8,415.0C852.3,416.4 851.3,420.7 850.8,420.9C850.4,421.2 849.1,418.5 848.8,417.0C848.6,415.5 848.4,409.5 848.8,408.1Z" fill="#8a3a66"/>
<path d="M831.1,429.8C831.4,428.8 834.2,427.5 835.0,427.9C835.8,428.2 837.9,431.5 838.0,432.8C838.1,434.1 836.7,438.3 836.0,438.7C835.3,439.2 832.6,437.8 832.0,436.8C831.5,435.7 830.7,430.9 831.1,429.8Z" fill="#8a3a66"/>
<path d="M749.4,447.0C749.8,444.8 753.2,441.1 755.7,439.1C758.1,437.2 763.3,434.1 766.6,432.9C769.9,431.7 775.6,430.8 779.1,430.5C782.6,430.2 788.4,430.3 791.7,430.5C794.9,430.7 800.0,431.4 802.6,432.1C805.2,432.7 808.7,434.4 810.4,435.2C812.2,436.0 815.3,436.8 815.1,437.6C814.9,438.3 810.8,440.0 808.9,440.7C806.9,441.4 801.5,441.6 801.0,442.3C800.6,442.9 803.8,444.7 805.7,445.4C807.7,446.0 812.9,446.3 815.1,447.0C817.3,447.6 820.1,449.0 821.4,450.1C822.7,451.2 825.0,453.9 824.5,454.8C824.1,455.7 820.5,456.3 818.3,456.3C816.1,456.3 811.1,455.2 808.9,454.8C806.7,454.3 803.9,452.8 802.6,453.2C801.3,453.7 800.8,457.0 799.5,457.9C798.2,458.8 795.4,459.5 793.2,459.5C791.0,459.5 786.5,458.6 783.8,457.9C781.2,457.3 777.1,455.0 774.4,454.8C771.8,454.6 767.7,455.7 765.0,456.3C762.4,457.0 757.4,459.7 755.7,459.5C753.9,459.3 753.4,456.5 752.5,454.8C751.6,453.0 749.0,449.1 749.4,447.0Z" fill="#2f5e6d"/>
<path d="M749.4,447.0C750.5,446.1 755.7,446.0 758.8,445.4C761.9,444.7 767.8,442.7 771.3,442.3C774.8,441.8 780.5,441.9 783.8,442.3C787.1,442.6 791.7,444.0 794.8,444.6C797.8,445.3 802.9,446.3 805.7,447.0C808.6,447.6 812.9,448.6 815.1,449.3C817.3,450.0 821.4,451.4 821.4,451.7C821.4,451.9 817.8,451.3 815.1,450.9C812.5,450.5 806.1,449.4 802.6,448.8C799.1,448.2 793.4,447.1 790.1,446.6C786.8,446.2 782.2,445.6 779.1,445.7C776.1,445.8 771.2,446.4 768.2,447.3C765.1,448.1 759.3,450.5 757.2,452.0C755.1,453.5 754.2,458.0 753.3,457.9C752.4,457.9 751.5,453.2 751.0,451.7C750.4,450.1 748.3,447.8 749.4,447.0Z" fill="#0ba890"/>
<path d="M751.0,450.1C752.5,449.6 756.7,448.0 760.3,447.0C764.0,445.9 768.7,444.3 772.9,443.8C777.0,443.3 781.5,443.5 785.4,443.8C789.3,444.1 792.7,445.0 796.3,445.7C800.0,446.4 803.7,447.3 807.3,448.2C811.0,449.1 816.4,450.4 818.3,450.9" fill="none" stroke="#8fd5d3" stroke-width="1.3" stroke-linecap="round"/>
<path d="M779.1,430.5C781.3,430.0 788.4,430.3 791.7,430.5C794.9,430.7 800.0,431.4 802.6,432.1C805.2,432.7 810.4,434.6 810.4,435.2C810.4,435.9 805.0,436.8 802.6,436.8C800.2,436.8 795.8,435.1 793.2,435.2C790.6,435.3 786.0,436.8 783.8,437.6C781.6,438.3 779.3,440.5 777.6,440.7C775.8,440.9 771.5,440.0 771.3,439.1C771.1,438.3 774.9,435.6 776.0,434.4C777.1,433.2 776.9,431.1 779.1,430.5Z" fill="#0ba890"/>
<path d="M825.3,434.4C826.2,433.8 827.8,437.6 829.2,439.1C830.6,440.7 833.7,443.6 835.5,445.4C837.2,447.1 840.1,449.9 841.7,451.7C843.4,453.4 846.8,456.2 847.2,457.9C847.7,459.7 845.9,462.6 844.9,464.2C843.9,465.7 841.7,468.6 840.2,468.9C838.6,469.1 835.4,467.1 833.9,465.7C832.4,464.4 830.4,461.4 829.2,459.5C828.0,457.5 826.2,453.8 825.3,451.7C824.4,449.5 823.0,446.2 823.0,443.8C823.0,441.4 824.4,435.1 825.3,434.4Z" fill="#0ba890"/>
<path d="M827.7,443.8C828.2,443.2 831.0,445.6 832.3,447.0C833.7,448.3 835.9,451.5 837.0,453.2C838.1,455.0 840.2,457.9 840.2,459.5C840.2,461.0 838.1,464.2 837.0,464.2C835.9,464.2 833.6,461.2 832.3,459.5C831.1,457.7 829.1,453.8 828.4,451.7C827.8,449.5 827.1,444.5 827.7,443.8Z" fill="#8fd5d3"/>
<path d="M841.7,457.9C842.9,457.0 846.8,457.0 847.2,457.9C847.7,458.8 845.9,462.6 844.9,464.2C843.9,465.7 841.0,468.9 840.2,468.9C839.3,468.9 838.4,465.7 838.6,464.2C838.8,462.6 840.5,458.8 841.7,457.9Z" fill="#2f5e6d"/>
<path d="M813.6,473.6C813.8,471.8 816.5,467.2 818.3,465.7C820.0,464.3 823.9,463.4 826.1,463.4C828.3,463.4 832.2,465.0 833.9,465.7C835.7,466.5 838.6,468.0 838.6,468.9C838.6,469.7 835.4,471.3 833.9,472.0C832.4,472.7 829.4,472.9 827.7,473.6C825.9,474.2 822.9,476.0 821.4,476.7C819.9,477.4 817.8,478.7 816.7,478.3C815.6,477.8 813.3,475.3 813.6,473.6Z" fill="#2f5e6d"/>
<path d="M761.7,503.6C761.5,503.0 765.9,500.6 767.7,499.7C769.5,498.7 772.7,497.5 774.6,496.7C776.5,495.9 779.7,494.6 781.5,493.7C783.3,492.9 785.9,491.9 787.4,490.8C789.0,489.7 791.0,487.1 792.4,485.8C793.8,484.6 795.7,482.8 797.3,481.9C799.0,480.9 802.2,479.5 804.2,478.9C806.3,478.3 810.1,477.8 812.2,477.4C814.2,477.0 817.1,476.4 819.1,475.9C821.0,475.4 824.6,474.4 826.0,474.0C827.4,473.5 828.3,472.8 829.0,473.0C829.7,473.1 831.2,474.3 830.9,474.9C830.7,475.6 828.2,477.1 827.0,477.9C825.7,478.7 823.4,479.9 822.0,480.9C820.7,481.8 818.3,483.6 817.1,484.8C815.9,486.1 814.4,488.5 813.1,489.8C811.9,491.0 809.6,492.8 808.2,493.7C806.8,494.7 804.8,495.9 803.3,496.7C801.7,497.5 799.0,498.8 797.3,499.7C795.7,500.5 793.2,502.0 791.4,502.6C789.6,503.2 786.4,503.8 784.5,504.1C782.5,504.4 779.6,504.6 777.6,504.6C775.5,504.6 771.9,504.2 769.7,504.1C767.4,504.0 762.0,504.2 761.7,503.6Z" fill="#0ba890"/>
<path d="M761.7,503.6C762.2,503.3 766.7,501.5 768.7,500.6C770.6,499.8 773.6,498.5 775.6,497.7C777.5,496.8 780.6,495.5 782.5,494.7C784.4,493.9 787.8,492.9 789.4,491.7C791.1,490.6 793.0,488.0 794.4,486.8C795.7,485.6 797.6,483.8 799.3,482.8C801.0,481.9 804.1,480.5 806.2,479.9C808.3,479.3 811.9,478.9 814.1,478.4C816.3,477.9 820.1,477.0 822.0,476.4C824.0,475.9 827.6,474.2 828.0,474.4C828.4,474.7 826.3,477.1 825.0,477.9C823.8,478.7 820.9,479.5 819.1,479.9C817.3,480.3 814.1,480.5 812.2,480.9C810.2,481.3 806.8,482.0 805.2,482.8C803.7,483.7 802.1,485.6 801.3,486.8C800.5,488.0 800.0,490.6 799.3,491.7C798.6,492.9 797.4,494.2 796.3,494.7C795.2,495.3 793.1,495.4 791.4,495.7C789.7,496.0 786.4,496.1 784.5,496.7C782.5,497.2 779.4,499.0 777.6,499.7C775.8,500.3 773.3,501.1 771.6,501.6C770.0,502.1 767.1,502.8 765.7,503.1C764.3,503.4 761.3,504.0 761.7,503.6Z" fill="#8fd5d3"/>
</g>
<path d="M156.3,73.3C155.8,72.6 153.6,71.4 151.9,71.1C150.2,70.8 147.7,71.0 146.0,71.5C144.2,72.0 142.9,72.9 141.5,74.1C140.2,75.3 138.7,76.9 137.8,78.5C136.9,80.1 136.5,82.1 136.3,83.7C136.1,85.3 136.3,86.9 136.7,88.2C137.1,89.4 137.5,90.4 138.5,91.1C139.6,91.9 141.4,92.6 143.0,92.6C144.6,92.6 146.7,91.8 148.2,91.1C149.7,90.5 150.9,89.5 151.9,88.9C152.9,88.3 154.2,87.7 154.1,87.4C154.0,87.1 152.3,87.1 151.1,87.1C150.0,87.1 148.7,87.6 147.4,87.4C146.2,87.2 144.7,86.7 143.7,85.9C142.7,85.2 141.9,84.1 141.5,83.0C141.1,81.9 140.9,80.4 141.1,79.3C141.4,78.2 142.1,77.0 143.0,76.3C143.9,75.6 145.5,74.9 146.7,74.8C147.9,74.8 149.3,75.3 150.4,75.9C151.5,76.6 152.6,78.6 153.4,78.5C154.2,78.5 154.7,76.4 155.2,75.6C155.7,74.7 156.9,74.1 156.3,73.3Z" fill="#c9a063"/>
<path d="M138.5,91.1C136.8,91.3 135.6,92.2 134.1,93.4C132.6,94.5 131.1,96.0 129.7,97.8C128.2,99.7 126.4,102.4 125.2,104.5C124.0,106.6 122.9,108.4 122.2,110.4C121.6,112.4 121.4,114.4 121.5,116.3C121.6,118.3 122.1,120.4 123.0,122.3C123.8,124.1 125.2,126.0 126.7,127.5C128.2,128.9 129.9,130.3 131.9,131.2C133.9,132.0 136.2,132.6 138.5,132.6C140.9,132.6 143.5,132.0 146.0,131.2C148.4,130.3 151.1,128.9 153.4,127.5C155.6,126.0 157.7,124.1 159.3,122.3C160.9,120.4 162.1,118.3 163.0,116.3C163.9,114.4 164.6,112.3 164.9,110.4C165.1,108.6 164.9,106.6 164.5,105.2C164.1,103.9 163.3,103.0 162.3,102.3C161.3,101.5 159.9,101.0 158.6,100.8C157.2,100.6 155.5,100.8 154.1,101.1C152.8,101.5 151.6,102.1 150.4,103.0C149.2,103.9 146.6,106.2 146.7,106.7C146.8,107.2 149.8,106.0 151.1,106.0C152.5,105.9 153.6,106.0 154.9,106.3C156.1,106.7 157.6,107.3 158.6,108.2C159.6,109.1 160.4,110.7 160.8,111.9C161.2,113.1 161.4,114.2 161.2,115.6C160.9,117.0 160.2,118.7 159.3,120.0C158.4,121.4 157.1,122.6 155.6,123.8C154.1,124.9 152.3,126.0 150.4,126.7C148.6,127.4 146.5,127.8 144.5,127.8C142.5,127.9 140.4,127.6 138.5,127.1C136.7,126.5 135.0,125.5 133.4,124.5C131.8,123.4 130.1,122.1 128.9,120.8C127.7,119.4 126.6,117.8 125.9,116.3C125.3,114.9 124.9,113.4 124.8,111.9C124.8,110.4 125.0,109.0 125.6,107.4C126.1,105.8 127.1,103.9 128.2,102.3C129.2,100.6 130.5,99.0 131.9,97.8C133.2,96.6 134.7,95.6 136.3,94.8C137.9,94.1 140.2,93.7 141.5,93.4C142.9,93.0 145.0,93.0 144.5,92.6C144.0,92.2 140.3,91.0 138.5,91.1Z" fill="#c9a063"/>
</svg>
<div id="size" class="t" style="left:526.4px;top:1463.9px;font-size:23px;letter-spacing:-0.56px;font-style:italic;color:#484848;">*40% actual size</div>
<div id="pg" class="t" style="left:552.1px;top:1492.3px;font-size:23px;letter-spacing:-0.8px;font-style:italic;color:#484848;">Page 3 of 3</div>
<div id="c1" class="t" style="left:999.1px;top:1485.5px;font-size:16.4px;letter-spacing:-0.189px;color:#111;">© 2026 Altenew, LLC.</div>
<div id="c2" class="t" style="left:1009.4px;top:1502.0px;font-size:16.4px;letter-spacing:-0.578px;color:#111;">All Rights Reserved</div>
</body>
</html>
